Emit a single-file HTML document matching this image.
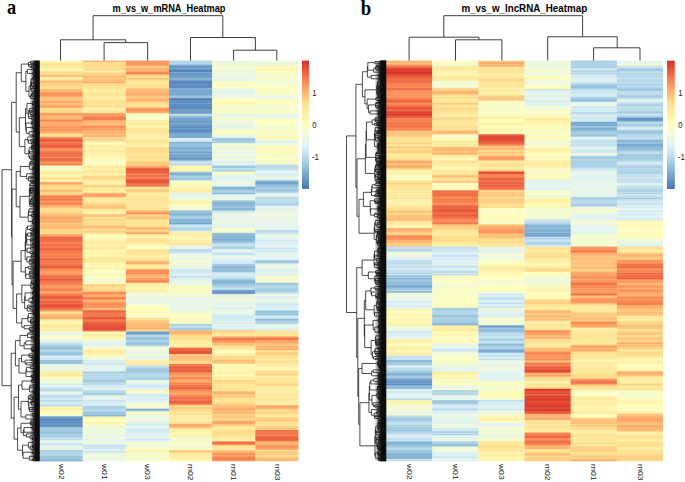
<!DOCTYPE html>
<html><head><meta charset="utf-8"><style>
html,body{margin:0;padding:0;background:#fff;}
body{width:685px;height:482px;overflow:hidden;}
svg{display:block;}
.pl{font-family:"Liberation Serif",serif;font-weight:bold;font-size:21px;fill:#000;}
.tt{font-family:"Liberation Sans",sans-serif;font-weight:bold;font-size:11.5px;fill:#000;text-anchor:middle;}
.cl{font-family:"Liberation Sans",sans-serif;font-size:8.6px;fill:#222;}
.lg{font-family:"Liberation Sans",sans-serif;font-size:9.2px;fill:#222;}
</style></head><body>
<svg width="685" height="482" viewBox="0 0 685 482">
<defs><linearGradient id="L1" x1="0" y1="0" x2="0" y2="1"><stop offset="0.0016" stop-color="#fff9b5"/><stop offset="0.0047" stop-color="#fff2ac"/><stop offset="0.0078" stop-color="#fee598"/><stop offset="0.0109" stop-color="#fede8f"/><stop offset="0.0140" stop-color="#feeba1"/><stop offset="0.0171" stop-color="#feeaa0"/><stop offset="0.0202" stop-color="#fff4af"/><stop offset="0.0234" stop-color="#fff9b6"/><stop offset="0.0265" stop-color="#fee79b"/><stop offset="0.0296" stop-color="#fedc8d"/><stop offset="0.0327" stop-color="#fee597"/><stop offset="0.0358" stop-color="#fdc880"/><stop offset="0.0389" stop-color="#fdba77"/><stop offset="0.0421" stop-color="#feeda4"/><stop offset="0.0452" stop-color="#fff1aa"/><stop offset="0.0483" stop-color="#fee496"/><stop offset="0.0514" stop-color="#fdc07b"/><stop offset="0.0545" stop-color="#fdbd79"/><stop offset="0.0576" stop-color="#fedd8e"/><stop offset="0.0607" stop-color="#fece84"/><stop offset="0.0639" stop-color="#fed488"/><stop offset="0.0670" stop-color="#fee192"/><stop offset="0.0701" stop-color="#fede8e"/><stop offset="0.0732" stop-color="#fdb070"/><stop offset="0.0763" stop-color="#fdbe7a"/><stop offset="0.0794" stop-color="#fc9b62"/><stop offset="0.0826" stop-color="#fc915c"/><stop offset="0.0857" stop-color="#fc8e59"/><stop offset="0.0888" stop-color="#fda468"/><stop offset="0.0919" stop-color="#fdba77"/><stop offset="0.0950" stop-color="#fdc67f"/><stop offset="0.0981" stop-color="#fdc981"/><stop offset="0.1012" stop-color="#fdb372"/><stop offset="0.1044" stop-color="#fda468"/><stop offset="0.1075" stop-color="#fdc57e"/><stop offset="0.1106" stop-color="#fdb976"/><stop offset="0.1137" stop-color="#fda368"/><stop offset="0.1168" stop-color="#fdaa6c"/><stop offset="0.1199" stop-color="#fee79a"/><stop offset="0.1231" stop-color="#fed488"/><stop offset="0.1262" stop-color="#fee699"/><stop offset="0.1293" stop-color="#fedb8d"/><stop offset="0.1324" stop-color="#fc935d"/><stop offset="0.1355" stop-color="#fca167"/><stop offset="0.1386" stop-color="#fdb372"/><stop offset="0.1417" stop-color="#fdb976"/><stop offset="0.1449" stop-color="#fdb775"/><stop offset="0.1480" stop-color="#fc965f"/><stop offset="0.1511" stop-color="#f78153"/><stop offset="0.1542" stop-color="#fdb473"/><stop offset="0.1573" stop-color="#fda96c"/><stop offset="0.1604" stop-color="#fdae6f"/><stop offset="0.1636" stop-color="#fda368"/><stop offset="0.1667" stop-color="#fc8d59"/><stop offset="0.1698" stop-color="#fda468"/><stop offset="0.1729" stop-color="#fc8e59"/><stop offset="0.1760" stop-color="#fda66a"/><stop offset="0.1791" stop-color="#fda76a"/><stop offset="0.1822" stop-color="#fecf85"/><stop offset="0.1854" stop-color="#fedf8f"/><stop offset="0.1885" stop-color="#fee496"/><stop offset="0.1916" stop-color="#fc9e64"/><stop offset="0.1947" stop-color="#f1714a"/><stop offset="0.1978" stop-color="#e95e3f"/><stop offset="0.2009" stop-color="#e6563c"/><stop offset="0.2040" stop-color="#f88354"/><stop offset="0.2072" stop-color="#f1724b"/><stop offset="0.2103" stop-color="#ec6544"/><stop offset="0.2134" stop-color="#e95c3f"/><stop offset="0.2165" stop-color="#ed6744"/><stop offset="0.2196" stop-color="#fc905b"/><stop offset="0.2227" stop-color="#fca166"/><stop offset="0.2259" stop-color="#f88354"/><stop offset="0.2290" stop-color="#f3774d"/><stop offset="0.2321" stop-color="#ed6744"/><stop offset="0.2352" stop-color="#f57c50"/><stop offset="0.2383" stop-color="#ee6946"/><stop offset="0.2414" stop-color="#fc925c"/><stop offset="0.2445" stop-color="#f07049"/><stop offset="0.2477" stop-color="#eb6343"/><stop offset="0.2508" stop-color="#f57b4f"/><stop offset="0.2539" stop-color="#fc9b62"/><stop offset="0.2570" stop-color="#fc8d59"/><stop offset="0.2601" stop-color="#f57c50"/><stop offset="0.2632" stop-color="#fdfec3"/><stop offset="0.2664" stop-color="#f4fbd3"/><stop offset="0.2695" stop-color="#f5fbd2"/><stop offset="0.2726" stop-color="#fffdbc"/><stop offset="0.2757" stop-color="#fff5af"/><stop offset="0.2788" stop-color="#fee79a"/><stop offset="0.2819" stop-color="#feefa7"/><stop offset="0.2850" stop-color="#fff4af"/><stop offset="0.2882" stop-color="#fff9b6"/><stop offset="0.2913" stop-color="#fee89c"/><stop offset="0.2944" stop-color="#fee192"/><stop offset="0.2975" stop-color="#feeba0"/><stop offset="0.3006" stop-color="#f7fcce"/><stop offset="0.3037" stop-color="#fdb876"/><stop offset="0.3069" stop-color="#fca066"/><stop offset="0.3100" stop-color="#fdc980"/><stop offset="0.3131" stop-color="#fee495"/><stop offset="0.3162" stop-color="#fed488"/><stop offset="0.3193" stop-color="#fee090"/><stop offset="0.3224" stop-color="#fdc780"/><stop offset="0.3255" stop-color="#fdb976"/><stop offset="0.3287" stop-color="#fed488"/><stop offset="0.3318" stop-color="#fedf8f"/><stop offset="0.3349" stop-color="#fece84"/><stop offset="0.3380" stop-color="#f77f52"/><stop offset="0.3411" stop-color="#f67f52"/><stop offset="0.3442" stop-color="#fc8c59"/><stop offset="0.3474" stop-color="#ee6b47"/><stop offset="0.3505" stop-color="#fc9f65"/><stop offset="0.3536" stop-color="#fc945d"/><stop offset="0.3567" stop-color="#f78052"/><stop offset="0.3598" stop-color="#fc955e"/><stop offset="0.3629" stop-color="#fdb473"/><stop offset="0.3660" stop-color="#fdba77"/><stop offset="0.3692" stop-color="#fede8f"/><stop offset="0.3723" stop-color="#fedf90"/><stop offset="0.3754" stop-color="#fee191"/><stop offset="0.3785" stop-color="#fed589"/><stop offset="0.3816" stop-color="#fece84"/><stop offset="0.3847" stop-color="#fdc57e"/><stop offset="0.3879" stop-color="#fdb473"/><stop offset="0.3910" stop-color="#fdab6d"/><stop offset="0.3941" stop-color="#fda569"/><stop offset="0.3972" stop-color="#fdb674"/><stop offset="0.4003" stop-color="#fdad6e"/><stop offset="0.4034" stop-color="#fdaf6f"/><stop offset="0.4065" stop-color="#fdc981"/><stop offset="0.4097" stop-color="#fdbd79"/><stop offset="0.4128" stop-color="#fdc57e"/><stop offset="0.4159" stop-color="#fdb372"/><stop offset="0.4190" stop-color="#fdc07b"/><stop offset="0.4221" stop-color="#fed78a"/><stop offset="0.4252" stop-color="#fed78a"/><stop offset="0.4283" stop-color="#fed689"/><stop offset="0.4315" stop-color="#fedf8f"/><stop offset="0.4346" stop-color="#fc9b63"/><stop offset="0.4377" stop-color="#fda569"/><stop offset="0.4408" stop-color="#f06e48"/><stop offset="0.4439" stop-color="#eb6242"/><stop offset="0.4470" stop-color="#f07049"/><stop offset="0.4502" stop-color="#ed6845"/><stop offset="0.4533" stop-color="#f67e51"/><stop offset="0.4564" stop-color="#fa8856"/><stop offset="0.4595" stop-color="#f06f49"/><stop offset="0.4626" stop-color="#f06e48"/><stop offset="0.4657" stop-color="#f88253"/><stop offset="0.4688" stop-color="#ee6946"/><stop offset="0.4720" stop-color="#eb6142"/><stop offset="0.4751" stop-color="#f57b4f"/><stop offset="0.4782" stop-color="#f67e51"/><stop offset="0.4813" stop-color="#f67d51"/><stop offset="0.4844" stop-color="#fa8957"/><stop offset="0.4875" stop-color="#f3774d"/><stop offset="0.4907" stop-color="#fc8e5a"/><stop offset="0.4938" stop-color="#f1724a"/><stop offset="0.4969" stop-color="#e85c3e"/><stop offset="0.5000" stop-color="#f98655"/><stop offset="0.5031" stop-color="#f1714a"/><stop offset="0.5062" stop-color="#f88354"/><stop offset="0.5093" stop-color="#f2734b"/><stop offset="0.5125" stop-color="#ed6845"/><stop offset="0.5156" stop-color="#e34f38"/><stop offset="0.5187" stop-color="#f4784e"/><stop offset="0.5218" stop-color="#fc965f"/><stop offset="0.5249" stop-color="#fb8c58"/><stop offset="0.5280" stop-color="#fdaa6c"/><stop offset="0.5312" stop-color="#fc9760"/><stop offset="0.5343" stop-color="#fc9f65"/><stop offset="0.5374" stop-color="#ee6a46"/><stop offset="0.5405" stop-color="#f2744b"/><stop offset="0.5436" stop-color="#f47a4f"/><stop offset="0.5467" stop-color="#e6563b"/><stop offset="0.5498" stop-color="#f2734b"/><stop offset="0.5530" stop-color="#f4784e"/><stop offset="0.5561" stop-color="#f67e51"/><stop offset="0.5592" stop-color="#f88353"/><stop offset="0.5623" stop-color="#fda267"/><stop offset="0.5654" stop-color="#fc9b62"/><stop offset="0.5685" stop-color="#fc925c"/><stop offset="0.5717" stop-color="#f67e51"/><stop offset="0.5748" stop-color="#fc925c"/><stop offset="0.5779" stop-color="#fdb372"/><stop offset="0.5810" stop-color="#fc965f"/><stop offset="0.5841" stop-color="#f98555"/><stop offset="0.5872" stop-color="#f06f49"/><stop offset="0.5903" stop-color="#e6563c"/><stop offset="0.5935" stop-color="#ec6544"/><stop offset="0.5966" stop-color="#f78052"/><stop offset="0.5997" stop-color="#f2754c"/><stop offset="0.6028" stop-color="#e7583d"/><stop offset="0.6059" stop-color="#f1724b"/><stop offset="0.6090" stop-color="#e7573c"/><stop offset="0.6121" stop-color="#e24b36"/><stop offset="0.6153" stop-color="#e85b3e"/><stop offset="0.6184" stop-color="#ee6a46"/><stop offset="0.6215" stop-color="#fa8957"/><stop offset="0.6246" stop-color="#fc9860"/><stop offset="0.6277" stop-color="#feea9f"/><stop offset="0.6308" stop-color="#fede8f"/><stop offset="0.6340" stop-color="#fdca82"/><stop offset="0.6371" stop-color="#fdaf70"/><stop offset="0.6402" stop-color="#fdb976"/><stop offset="0.6433" stop-color="#fda76a"/><stop offset="0.6464" stop-color="#fee79b"/><stop offset="0.6495" stop-color="#fff2ab"/><stop offset="0.6526" stop-color="#fff9b6"/><stop offset="0.6558" stop-color="#fff7b3"/><stop offset="0.6589" stop-color="#fff1aa"/><stop offset="0.6620" stop-color="#fee496"/><stop offset="0.6651" stop-color="#feeda3"/><stop offset="0.6682" stop-color="#fff2ac"/><stop offset="0.6713" stop-color="#feeaa0"/><stop offset="0.6745" stop-color="#feeea5"/><stop offset="0.6776" stop-color="#ebf7e4"/><stop offset="0.6807" stop-color="#e3f4f3"/><stop offset="0.6838" stop-color="#eef8de"/><stop offset="0.6869" stop-color="#f6fbd0"/><stop offset="0.6900" stop-color="#f5fbd1"/><stop offset="0.6931" stop-color="#fafdc9"/><stop offset="0.6963" stop-color="#eef8de"/><stop offset="0.6994" stop-color="#e2f4f5"/><stop offset="0.7025" stop-color="#e1f4f5"/><stop offset="0.7056" stop-color="#c4e1ee"/><stop offset="0.7087" stop-color="#bddceb"/><stop offset="0.7118" stop-color="#aacfe4"/><stop offset="0.7150" stop-color="#9dc7df"/><stop offset="0.7181" stop-color="#98c3dd"/><stop offset="0.7212" stop-color="#a5cce2"/><stop offset="0.7243" stop-color="#c7e2ef"/><stop offset="0.7274" stop-color="#9ac5de"/><stop offset="0.7305" stop-color="#9ac5de"/><stop offset="0.7336" stop-color="#9ac5de"/><stop offset="0.7368" stop-color="#cde7f1"/><stop offset="0.7399" stop-color="#def2f7"/><stop offset="0.7430" stop-color="#c8e3ef"/><stop offset="0.7461" stop-color="#cde7f1"/><stop offset="0.7492" stop-color="#85b4d5"/><stop offset="0.7523" stop-color="#a9cfe4"/><stop offset="0.7555" stop-color="#90beda"/><stop offset="0.7586" stop-color="#e6f6ec"/><stop offset="0.7617" stop-color="#ebf7e4"/><stop offset="0.7648" stop-color="#ecf8e1"/><stop offset="0.7679" stop-color="#eef8de"/><stop offset="0.7710" stop-color="#e8f6e9"/><stop offset="0.7741" stop-color="#eef9dd"/><stop offset="0.7773" stop-color="#feeda4"/><stop offset="0.7804" stop-color="#fff1aa"/><stop offset="0.7835" stop-color="#feeba1"/><stop offset="0.7866" stop-color="#feeba1"/><stop offset="0.7897" stop-color="#fffdbb"/><stop offset="0.7928" stop-color="#f8fccb"/><stop offset="0.7960" stop-color="#eef8de"/><stop offset="0.7991" stop-color="#f5fbd1"/><stop offset="0.8022" stop-color="#f3fad6"/><stop offset="0.8053" stop-color="#eaf7e7"/><stop offset="0.8084" stop-color="#d6edf4"/><stop offset="0.8115" stop-color="#eaf7e6"/><stop offset="0.8146" stop-color="#d6edf4"/><stop offset="0.8178" stop-color="#c6e2ee"/><stop offset="0.8209" stop-color="#bbdaea"/><stop offset="0.8240" stop-color="#bcdbeb"/><stop offset="0.8271" stop-color="#e5f5ee"/><stop offset="0.8302" stop-color="#ecf8e2"/><stop offset="0.8333" stop-color="#dbf0f6"/><stop offset="0.8364" stop-color="#b8d9e9"/><stop offset="0.8396" stop-color="#c3e0ed"/><stop offset="0.8427" stop-color="#cfe7f2"/><stop offset="0.8458" stop-color="#d0e9f2"/><stop offset="0.8489" stop-color="#b7d8e9"/><stop offset="0.8520" stop-color="#d3eaf3"/><stop offset="0.8551" stop-color="#d3eaf3"/><stop offset="0.8583" stop-color="#d0e8f2"/><stop offset="0.8614" stop-color="#b8d9e9"/><stop offset="0.8645" stop-color="#fff8b5"/><stop offset="0.8676" stop-color="#fff1aa"/><stop offset="0.8707" stop-color="#fff3ad"/><stop offset="0.8738" stop-color="#fff5af"/><stop offset="0.8769" stop-color="#fffebe"/><stop offset="0.8801" stop-color="#f9fdca"/><stop offset="0.8832" stop-color="#ffffbf"/><stop offset="0.8863" stop-color="#f0f9da"/><stop offset="0.8894" stop-color="#6292c3"/><stop offset="0.8925" stop-color="#709fca"/><stop offset="0.8956" stop-color="#5181ba"/><stop offset="0.8988" stop-color="#6796c5"/><stop offset="0.9019" stop-color="#5b8bbf"/><stop offset="0.9050" stop-color="#6897c6"/><stop offset="0.9081" stop-color="#6e9dc9"/><stop offset="0.9112" stop-color="#5786bd"/><stop offset="0.9143" stop-color="#77a6ce"/><stop offset="0.9174" stop-color="#b2d5e7"/><stop offset="0.9206" stop-color="#a1c9e1"/><stop offset="0.9237" stop-color="#a9cfe4"/><stop offset="0.9268" stop-color="#98c4de"/><stop offset="0.9299" stop-color="#92bfdb"/><stop offset="0.9330" stop-color="#b4d6e8"/><stop offset="0.9361" stop-color="#9fc8e0"/><stop offset="0.9393" stop-color="#aed2e6"/><stop offset="0.9424" stop-color="#c9e4f0"/><stop offset="0.9455" stop-color="#beddec"/><stop offset="0.9486" stop-color="#e7f6ec"/><stop offset="0.9517" stop-color="#eaf7e6"/><stop offset="0.9548" stop-color="#d8edf5"/><stop offset="0.9579" stop-color="#c2dfed"/><stop offset="0.9611" stop-color="#dff2f8"/><stop offset="0.9642" stop-color="#e7f6eb"/><stop offset="0.9673" stop-color="#ebf7e4"/><stop offset="0.9704" stop-color="#e9f7e7"/><stop offset="0.9735" stop-color="#a3cbe2"/><stop offset="0.9766" stop-color="#b6d8e9"/><stop offset="0.9798" stop-color="#b3d6e8"/><stop offset="0.9829" stop-color="#b3d5e7"/><stop offset="0.9860" stop-color="#bbdbeb"/><stop offset="0.9891" stop-color="#8fbdda"/><stop offset="0.9922" stop-color="#a0c9e0"/><stop offset="0.9953" stop-color="#9fc8e0"/><stop offset="0.9984" stop-color="#7fadd2"/></linearGradient><linearGradient id="L2" x1="0" y1="0" x2="0" y2="1"><stop offset="0.0016" stop-color="#fdb372"/><stop offset="0.0047" stop-color="#fed98b"/><stop offset="0.0078" stop-color="#fee496"/><stop offset="0.0109" stop-color="#fed488"/><stop offset="0.0140" stop-color="#fedb8c"/><stop offset="0.0171" stop-color="#fee293"/><stop offset="0.0202" stop-color="#fedd8e"/><stop offset="0.0234" stop-color="#fedb8d"/><stop offset="0.0265" stop-color="#fff3ad"/><stop offset="0.0296" stop-color="#fee090"/><stop offset="0.0327" stop-color="#fed488"/><stop offset="0.0358" stop-color="#fed388"/><stop offset="0.0389" stop-color="#fdbe79"/><stop offset="0.0421" stop-color="#fdbc78"/><stop offset="0.0452" stop-color="#fed085"/><stop offset="0.0483" stop-color="#fdb875"/><stop offset="0.0514" stop-color="#fdc77f"/><stop offset="0.0545" stop-color="#fda66a"/><stop offset="0.0576" stop-color="#fedb8d"/><stop offset="0.0607" stop-color="#fedb8d"/><stop offset="0.0639" stop-color="#fee293"/><stop offset="0.0670" stop-color="#fee294"/><stop offset="0.0701" stop-color="#fee99e"/><stop offset="0.0732" stop-color="#feea9f"/><stop offset="0.0763" stop-color="#fff1a9"/><stop offset="0.0794" stop-color="#feea9f"/><stop offset="0.0826" stop-color="#fee699"/><stop offset="0.0857" stop-color="#fee394"/><stop offset="0.0888" stop-color="#feeba1"/><stop offset="0.0919" stop-color="#fff0a9"/><stop offset="0.0950" stop-color="#feefa6"/><stop offset="0.0981" stop-color="#fee699"/><stop offset="0.1012" stop-color="#fee598"/><stop offset="0.1044" stop-color="#fee090"/><stop offset="0.1075" stop-color="#fee496"/><stop offset="0.1106" stop-color="#fee79b"/><stop offset="0.1137" stop-color="#fed88b"/><stop offset="0.1168" stop-color="#fee99d"/><stop offset="0.1199" stop-color="#fff5af"/><stop offset="0.1231" stop-color="#feefa6"/><stop offset="0.1262" stop-color="#feeba0"/><stop offset="0.1293" stop-color="#feeda4"/><stop offset="0.1324" stop-color="#fc9b62"/><stop offset="0.1355" stop-color="#fca065"/><stop offset="0.1386" stop-color="#fc955e"/><stop offset="0.1417" stop-color="#f78152"/><stop offset="0.1449" stop-color="#f57a4f"/><stop offset="0.1480" stop-color="#f88454"/><stop offset="0.1511" stop-color="#fdc57e"/><stop offset="0.1542" stop-color="#fdaf70"/><stop offset="0.1573" stop-color="#fdc37c"/><stop offset="0.1604" stop-color="#fdc17c"/><stop offset="0.1636" stop-color="#fc8d59"/><stop offset="0.1667" stop-color="#fc915b"/><stop offset="0.1698" stop-color="#fda468"/><stop offset="0.1729" stop-color="#fc9861"/><stop offset="0.1760" stop-color="#fdc17b"/><stop offset="0.1791" stop-color="#fdaf70"/><stop offset="0.1822" stop-color="#fdb875"/><stop offset="0.1854" stop-color="#fdc27c"/><stop offset="0.1885" stop-color="#fdac6e"/><stop offset="0.1916" stop-color="#fed589"/><stop offset="0.1947" stop-color="#fee293"/><stop offset="0.1978" stop-color="#fecc83"/><stop offset="0.2009" stop-color="#fee79a"/><stop offset="0.2040" stop-color="#fff5b1"/><stop offset="0.2072" stop-color="#ffffbf"/><stop offset="0.2103" stop-color="#fff2ac"/><stop offset="0.2134" stop-color="#feeca1"/><stop offset="0.2165" stop-color="#feefa6"/><stop offset="0.2196" stop-color="#fff5b0"/><stop offset="0.2227" stop-color="#feefa7"/><stop offset="0.2259" stop-color="#fee699"/><stop offset="0.2290" stop-color="#fff2ab"/><stop offset="0.2321" stop-color="#fff3ac"/><stop offset="0.2352" stop-color="#feeea6"/><stop offset="0.2383" stop-color="#fff6b1"/><stop offset="0.2414" stop-color="#fff5b0"/><stop offset="0.2445" stop-color="#fffbb9"/><stop offset="0.2477" stop-color="#fff7b2"/><stop offset="0.2508" stop-color="#fdfec2"/><stop offset="0.2539" stop-color="#f8fccb"/><stop offset="0.2570" stop-color="#fdfec3"/><stop offset="0.2601" stop-color="#f9fdc9"/><stop offset="0.2632" stop-color="#fee99d"/><stop offset="0.2664" stop-color="#fee99e"/><stop offset="0.2695" stop-color="#fff1aa"/><stop offset="0.2726" stop-color="#fff1a9"/><stop offset="0.2757" stop-color="#fee79b"/><stop offset="0.2788" stop-color="#fee99e"/><stop offset="0.2819" stop-color="#feeea6"/><stop offset="0.2850" stop-color="#fff2ab"/><stop offset="0.2882" stop-color="#fee395"/><stop offset="0.2913" stop-color="#fece84"/><stop offset="0.2944" stop-color="#fee090"/><stop offset="0.2975" stop-color="#feda8c"/><stop offset="0.3006" stop-color="#fff1aa"/><stop offset="0.3037" stop-color="#feeca2"/><stop offset="0.3069" stop-color="#fff2ab"/><stop offset="0.3100" stop-color="#feeca2"/><stop offset="0.3131" stop-color="#fdc67f"/><stop offset="0.3162" stop-color="#fee191"/><stop offset="0.3193" stop-color="#fee99d"/><stop offset="0.3224" stop-color="#feeba0"/><stop offset="0.3255" stop-color="#feeca2"/><stop offset="0.3287" stop-color="#feefa6"/><stop offset="0.3318" stop-color="#fdb271"/><stop offset="0.3349" stop-color="#fc9e65"/><stop offset="0.3380" stop-color="#fc9860"/><stop offset="0.3411" stop-color="#fed488"/><stop offset="0.3442" stop-color="#feeaa0"/><stop offset="0.3474" stop-color="#feeca2"/><stop offset="0.3505" stop-color="#feeea5"/><stop offset="0.3536" stop-color="#fee598"/><stop offset="0.3567" stop-color="#fedf8f"/><stop offset="0.3598" stop-color="#fdca82"/><stop offset="0.3629" stop-color="#fecd83"/><stop offset="0.3660" stop-color="#fdbf7a"/><stop offset="0.3692" stop-color="#fecc82"/><stop offset="0.3723" stop-color="#fff1aa"/><stop offset="0.3754" stop-color="#feeca2"/><stop offset="0.3785" stop-color="#fff6b1"/><stop offset="0.3816" stop-color="#fff0a8"/><stop offset="0.3847" stop-color="#fdc67f"/><stop offset="0.3879" stop-color="#fdbb77"/><stop offset="0.3910" stop-color="#fee293"/><stop offset="0.3941" stop-color="#fee79b"/><stop offset="0.3972" stop-color="#fecd83"/><stop offset="0.4003" stop-color="#fee495"/><stop offset="0.4034" stop-color="#fee293"/><stop offset="0.4065" stop-color="#fedb8c"/><stop offset="0.4097" stop-color="#fedc8e"/><stop offset="0.4128" stop-color="#fdc57e"/><stop offset="0.4159" stop-color="#fdb574"/><stop offset="0.4190" stop-color="#fed287"/><stop offset="0.4221" stop-color="#fee597"/><stop offset="0.4252" stop-color="#fecc82"/><stop offset="0.4283" stop-color="#fed68a"/><stop offset="0.4315" stop-color="#fee395"/><stop offset="0.4346" stop-color="#fffebd"/><stop offset="0.4377" stop-color="#fafdc7"/><stop offset="0.4408" stop-color="#fffab7"/><stop offset="0.4439" stop-color="#fffbba"/><stop offset="0.4470" stop-color="#fff6b2"/><stop offset="0.4502" stop-color="#feeba1"/><stop offset="0.4533" stop-color="#fff0a8"/><stop offset="0.4564" stop-color="#fee79b"/><stop offset="0.4595" stop-color="#fff7b3"/><stop offset="0.4626" stop-color="#feefa7"/><stop offset="0.4657" stop-color="#feeca2"/><stop offset="0.4688" stop-color="#fee598"/><stop offset="0.4720" stop-color="#fff7b3"/><stop offset="0.4751" stop-color="#fff5b0"/><stop offset="0.4782" stop-color="#fff3ad"/><stop offset="0.4813" stop-color="#fff1aa"/><stop offset="0.4844" stop-color="#fff3ad"/><stop offset="0.4875" stop-color="#fff8b5"/><stop offset="0.4907" stop-color="#feeda3"/><stop offset="0.4938" stop-color="#fee89c"/><stop offset="0.4969" stop-color="#fee99e"/><stop offset="0.5000" stop-color="#fee69a"/><stop offset="0.5031" stop-color="#feeda3"/><stop offset="0.5062" stop-color="#fffbb8"/><stop offset="0.5093" stop-color="#fff4ae"/><stop offset="0.5125" stop-color="#fffebd"/><stop offset="0.5156" stop-color="#fff4ae"/><stop offset="0.5187" stop-color="#fff2ab"/><stop offset="0.5218" stop-color="#fffab8"/><stop offset="0.5249" stop-color="#feffc0"/><stop offset="0.5280" stop-color="#fafdc9"/><stop offset="0.5312" stop-color="#fafdc9"/><stop offset="0.5343" stop-color="#fff2ac"/><stop offset="0.5374" stop-color="#f6fcd0"/><stop offset="0.5405" stop-color="#fffdbc"/><stop offset="0.5436" stop-color="#f5fbd1"/><stop offset="0.5467" stop-color="#f4fbd3"/><stop offset="0.5498" stop-color="#f7fcce"/><stop offset="0.5530" stop-color="#f5fbd1"/><stop offset="0.5561" stop-color="#fffcba"/><stop offset="0.5592" stop-color="#fed488"/><stop offset="0.5623" stop-color="#fed387"/><stop offset="0.5654" stop-color="#fee192"/><stop offset="0.5685" stop-color="#fee699"/><stop offset="0.5717" stop-color="#fed588"/><stop offset="0.5748" stop-color="#fedc8d"/><stop offset="0.5779" stop-color="#fc9860"/><stop offset="0.5810" stop-color="#fa8957"/><stop offset="0.5841" stop-color="#fda669"/><stop offset="0.5872" stop-color="#fdb674"/><stop offset="0.5903" stop-color="#fc9861"/><stop offset="0.5935" stop-color="#f2754c"/><stop offset="0.5966" stop-color="#fca166"/><stop offset="0.5997" stop-color="#fdc17c"/><stop offset="0.6028" stop-color="#fc9e64"/><stop offset="0.6059" stop-color="#fc975f"/><stop offset="0.6090" stop-color="#fa8957"/><stop offset="0.6121" stop-color="#fc9e64"/><stop offset="0.6153" stop-color="#fc8e5a"/><stop offset="0.6184" stop-color="#fdbd79"/><stop offset="0.6215" stop-color="#fdbb78"/><stop offset="0.6246" stop-color="#eb6141"/><stop offset="0.6277" stop-color="#f2734b"/><stop offset="0.6308" stop-color="#f4784e"/><stop offset="0.6340" stop-color="#f57a4f"/><stop offset="0.6371" stop-color="#f78052"/><stop offset="0.6402" stop-color="#ec6644"/><stop offset="0.6433" stop-color="#e34e37"/><stop offset="0.6464" stop-color="#f2744c"/><stop offset="0.6495" stop-color="#f78152"/><stop offset="0.6526" stop-color="#ed6745"/><stop offset="0.6558" stop-color="#e95e40"/><stop offset="0.6589" stop-color="#e6553b"/><stop offset="0.6620" stop-color="#e7593d"/><stop offset="0.6651" stop-color="#e24c36"/><stop offset="0.6682" stop-color="#e14a35"/><stop offset="0.6713" stop-color="#e6573c"/><stop offset="0.6745" stop-color="#f2754c"/><stop offset="0.6776" stop-color="#fbfdc7"/><stop offset="0.6807" stop-color="#fff7b3"/><stop offset="0.6838" stop-color="#fff1a9"/><stop offset="0.6869" stop-color="#feeda3"/><stop offset="0.6900" stop-color="#fff9b6"/><stop offset="0.6931" stop-color="#fff4af"/><stop offset="0.6963" stop-color="#f9fdca"/><stop offset="0.6994" stop-color="#ecf8e2"/><stop offset="0.7025" stop-color="#e2f4f5"/><stop offset="0.7056" stop-color="#dff3f8"/><stop offset="0.7087" stop-color="#dff3f8"/><stop offset="0.7118" stop-color="#eaf7e5"/><stop offset="0.7150" stop-color="#f2fad6"/><stop offset="0.7181" stop-color="#f7fccf"/><stop offset="0.7212" stop-color="#fff3ad"/><stop offset="0.7243" stop-color="#feeda4"/><stop offset="0.7274" stop-color="#feeaa0"/><stop offset="0.7305" stop-color="#fff5b0"/><stop offset="0.7336" stop-color="#feefa7"/><stop offset="0.7368" stop-color="#fdfec3"/><stop offset="0.7399" stop-color="#f1fad9"/><stop offset="0.7430" stop-color="#f3fad5"/><stop offset="0.7461" stop-color="#ebf7e4"/><stop offset="0.7492" stop-color="#cee7f1"/><stop offset="0.7523" stop-color="#e3f4f3"/><stop offset="0.7555" stop-color="#c6e2ee"/><stop offset="0.7586" stop-color="#d3eaf3"/><stop offset="0.7617" stop-color="#e9f7e7"/><stop offset="0.7648" stop-color="#e6f5ed"/><stop offset="0.7679" stop-color="#dff2f7"/><stop offset="0.7710" stop-color="#e6f5ec"/><stop offset="0.7741" stop-color="#e6f5ee"/><stop offset="0.7773" stop-color="#a5cce2"/><stop offset="0.7804" stop-color="#afd3e6"/><stop offset="0.7835" stop-color="#c4e0ee"/><stop offset="0.7866" stop-color="#acd1e5"/><stop offset="0.7897" stop-color="#c9e4ef"/><stop offset="0.7928" stop-color="#afd3e6"/><stop offset="0.7960" stop-color="#b8d9e9"/><stop offset="0.7991" stop-color="#93c0dc"/><stop offset="0.8022" stop-color="#aed2e6"/><stop offset="0.8053" stop-color="#beddeb"/><stop offset="0.8084" stop-color="#bddceb"/><stop offset="0.8115" stop-color="#def2f7"/><stop offset="0.8146" stop-color="#d3ebf3"/><stop offset="0.8178" stop-color="#e4f5f1"/><stop offset="0.8209" stop-color="#e1f4f5"/><stop offset="0.8240" stop-color="#b8d9e9"/><stop offset="0.8271" stop-color="#bfddec"/><stop offset="0.8302" stop-color="#a4cce2"/><stop offset="0.8333" stop-color="#a2cae1"/><stop offset="0.8364" stop-color="#ebf7e4"/><stop offset="0.8396" stop-color="#e3f4f2"/><stop offset="0.8427" stop-color="#ebf7e4"/><stop offset="0.8458" stop-color="#def2f7"/><stop offset="0.8489" stop-color="#c7e3ef"/><stop offset="0.8520" stop-color="#d8eef5"/><stop offset="0.8551" stop-color="#d4ebf3"/><stop offset="0.8583" stop-color="#e1f3f6"/><stop offset="0.8614" stop-color="#c5e2ee"/><stop offset="0.8645" stop-color="#a5cce2"/><stop offset="0.8676" stop-color="#afd2e6"/><stop offset="0.8707" stop-color="#acd1e5"/><stop offset="0.8738" stop-color="#cae4f0"/><stop offset="0.8769" stop-color="#99c4de"/><stop offset="0.8801" stop-color="#a1cae1"/><stop offset="0.8832" stop-color="#9dc7df"/><stop offset="0.8863" stop-color="#85b3d5"/><stop offset="0.8894" stop-color="#fff6b2"/><stop offset="0.8925" stop-color="#fff7b3"/><stop offset="0.8956" stop-color="#fffcba"/><stop offset="0.8988" stop-color="#feffc0"/><stop offset="0.9019" stop-color="#fffab7"/><stop offset="0.9050" stop-color="#fff1aa"/><stop offset="0.9081" stop-color="#fffcba"/><stop offset="0.9112" stop-color="#f2fad7"/><stop offset="0.9143" stop-color="#ecf8e2"/><stop offset="0.9174" stop-color="#eef8de"/><stop offset="0.9206" stop-color="#eff9dc"/><stop offset="0.9237" stop-color="#e9f7e7"/><stop offset="0.9268" stop-color="#f3fad5"/><stop offset="0.9299" stop-color="#f1f9d9"/><stop offset="0.9330" stop-color="#ecf8e2"/><stop offset="0.9361" stop-color="#e4f5f0"/><stop offset="0.9393" stop-color="#ebf7e3"/><stop offset="0.9424" stop-color="#f4fbd3"/><stop offset="0.9455" stop-color="#e7f6ec"/><stop offset="0.9486" stop-color="#e4f5f0"/><stop offset="0.9517" stop-color="#f1f9da"/><stop offset="0.9548" stop-color="#eaf7e6"/><stop offset="0.9579" stop-color="#e5f5ef"/><stop offset="0.9611" stop-color="#b9d9ea"/><stop offset="0.9642" stop-color="#d7edf5"/><stop offset="0.9673" stop-color="#cae4f0"/><stop offset="0.9704" stop-color="#e1f3f6"/><stop offset="0.9735" stop-color="#ddf1f7"/><stop offset="0.9766" stop-color="#c4e1ee"/><stop offset="0.9798" stop-color="#ecf8e2"/><stop offset="0.9829" stop-color="#f0f9da"/><stop offset="0.9860" stop-color="#eff9dc"/><stop offset="0.9891" stop-color="#ebf7e3"/><stop offset="0.9922" stop-color="#edf8e0"/><stop offset="0.9953" stop-color="#f2fad7"/><stop offset="0.9984" stop-color="#e4f4f1"/></linearGradient><linearGradient id="L3" x1="0" y1="0" x2="0" y2="1"><stop offset="0.0016" stop-color="#fc8d59"/><stop offset="0.0047" stop-color="#fc9e64"/><stop offset="0.0078" stop-color="#fc9760"/><stop offset="0.0109" stop-color="#fc9f65"/><stop offset="0.0140" stop-color="#fdbc78"/><stop offset="0.0171" stop-color="#fed287"/><stop offset="0.0202" stop-color="#fda569"/><stop offset="0.0234" stop-color="#fdb876"/><stop offset="0.0265" stop-color="#fdb271"/><stop offset="0.0296" stop-color="#fc905b"/><stop offset="0.0327" stop-color="#f77f52"/><stop offset="0.0358" stop-color="#fecb82"/><stop offset="0.0389" stop-color="#fee090"/><stop offset="0.0421" stop-color="#fee191"/><stop offset="0.0452" stop-color="#fdbf7a"/><stop offset="0.0483" stop-color="#fedd8e"/><stop offset="0.0514" stop-color="#fee597"/><stop offset="0.0545" stop-color="#fee89c"/><stop offset="0.0576" stop-color="#fee99e"/><stop offset="0.0607" stop-color="#fee192"/><stop offset="0.0639" stop-color="#fee497"/><stop offset="0.0670" stop-color="#fee192"/><stop offset="0.0701" stop-color="#fecb82"/><stop offset="0.0732" stop-color="#fdb473"/><stop offset="0.0763" stop-color="#fdc07b"/><stop offset="0.0794" stop-color="#fdb171"/><stop offset="0.0826" stop-color="#fdb574"/><stop offset="0.0857" stop-color="#fda96b"/><stop offset="0.0888" stop-color="#fdc57e"/><stop offset="0.0919" stop-color="#fecc83"/><stop offset="0.0950" stop-color="#fdc37c"/><stop offset="0.0981" stop-color="#fda86b"/><stop offset="0.1012" stop-color="#fdc780"/><stop offset="0.1044" stop-color="#fed387"/><stop offset="0.1075" stop-color="#fee294"/><stop offset="0.1106" stop-color="#fee598"/><stop offset="0.1137" stop-color="#fee89c"/><stop offset="0.1168" stop-color="#fecc83"/><stop offset="0.1199" stop-color="#fc9760"/><stop offset="0.1231" stop-color="#fc8f5b"/><stop offset="0.1262" stop-color="#fca166"/><stop offset="0.1293" stop-color="#fc9f65"/><stop offset="0.1324" stop-color="#fffdbc"/><stop offset="0.1355" stop-color="#fffdbc"/><stop offset="0.1386" stop-color="#f9fdca"/><stop offset="0.1417" stop-color="#fbfec6"/><stop offset="0.1449" stop-color="#f9fdca"/><stop offset="0.1480" stop-color="#fffab7"/><stop offset="0.1511" stop-color="#feea9f"/><stop offset="0.1542" stop-color="#fff4ae"/><stop offset="0.1573" stop-color="#fee99e"/><stop offset="0.1604" stop-color="#feeba1"/><stop offset="0.1636" stop-color="#fff7b3"/><stop offset="0.1667" stop-color="#fff4af"/><stop offset="0.1698" stop-color="#fee89c"/><stop offset="0.1729" stop-color="#fee192"/><stop offset="0.1760" stop-color="#fee89c"/><stop offset="0.1791" stop-color="#fee69a"/><stop offset="0.1822" stop-color="#fee79b"/><stop offset="0.1854" stop-color="#fff1a9"/><stop offset="0.1885" stop-color="#fff0a8"/><stop offset="0.1916" stop-color="#feeea6"/><stop offset="0.1947" stop-color="#fff2ab"/><stop offset="0.1978" stop-color="#fee192"/><stop offset="0.2009" stop-color="#fee699"/><stop offset="0.2040" stop-color="#fee192"/><stop offset="0.2072" stop-color="#feeea5"/><stop offset="0.2103" stop-color="#feeca2"/><stop offset="0.2134" stop-color="#fff4af"/><stop offset="0.2165" stop-color="#fee699"/><stop offset="0.2196" stop-color="#fed689"/><stop offset="0.2227" stop-color="#fedd8e"/><stop offset="0.2259" stop-color="#fedf8f"/><stop offset="0.2290" stop-color="#fedc8d"/><stop offset="0.2321" stop-color="#fee79a"/><stop offset="0.2352" stop-color="#fee89b"/><stop offset="0.2383" stop-color="#fee495"/><stop offset="0.2414" stop-color="#fee090"/><stop offset="0.2445" stop-color="#fee496"/><stop offset="0.2477" stop-color="#fee496"/><stop offset="0.2508" stop-color="#fedb8d"/><stop offset="0.2539" stop-color="#fed287"/><stop offset="0.2570" stop-color="#fdc67f"/><stop offset="0.2601" stop-color="#fed589"/><stop offset="0.2632" stop-color="#fdae6f"/><stop offset="0.2664" stop-color="#fc9e64"/><stop offset="0.2695" stop-color="#ec6544"/><stop offset="0.2726" stop-color="#e34d37"/><stop offset="0.2757" stop-color="#f06e49"/><stop offset="0.2788" stop-color="#e6563b"/><stop offset="0.2819" stop-color="#f57b4f"/><stop offset="0.2850" stop-color="#f78253"/><stop offset="0.2882" stop-color="#ed6644"/><stop offset="0.2913" stop-color="#fc8d59"/><stop offset="0.2944" stop-color="#f47a4f"/><stop offset="0.2975" stop-color="#ea5f40"/><stop offset="0.3006" stop-color="#e24d36"/><stop offset="0.3037" stop-color="#e6553b"/><stop offset="0.3069" stop-color="#f07049"/><stop offset="0.3100" stop-color="#f67e51"/><stop offset="0.3131" stop-color="#f1714a"/><stop offset="0.3162" stop-color="#fee394"/><stop offset="0.3193" stop-color="#fee99d"/><stop offset="0.3224" stop-color="#fecd83"/><stop offset="0.3255" stop-color="#fdc67f"/><stop offset="0.3287" stop-color="#fedf8f"/><stop offset="0.3318" stop-color="#feeca3"/><stop offset="0.3349" stop-color="#feefa6"/><stop offset="0.3380" stop-color="#fee395"/><stop offset="0.3411" stop-color="#feea9f"/><stop offset="0.3442" stop-color="#fee496"/><stop offset="0.3474" stop-color="#fee091"/><stop offset="0.3505" stop-color="#fee89c"/><stop offset="0.3536" stop-color="#feeda4"/><stop offset="0.3567" stop-color="#feea9f"/><stop offset="0.3598" stop-color="#feeba1"/><stop offset="0.3629" stop-color="#fee79b"/><stop offset="0.3660" stop-color="#feeba1"/><stop offset="0.3692" stop-color="#fee395"/><stop offset="0.3723" stop-color="#fee79b"/><stop offset="0.3754" stop-color="#fdbf7a"/><stop offset="0.3785" stop-color="#fda468"/><stop offset="0.3816" stop-color="#fc8f5b"/><stop offset="0.3847" stop-color="#fed086"/><stop offset="0.3879" stop-color="#fed98c"/><stop offset="0.3910" stop-color="#fdcb82"/><stop offset="0.3941" stop-color="#fdc07b"/><stop offset="0.3972" stop-color="#fee69a"/><stop offset="0.4003" stop-color="#fee598"/><stop offset="0.4034" stop-color="#fee698"/><stop offset="0.4065" stop-color="#fee395"/><stop offset="0.4097" stop-color="#fee497"/><stop offset="0.4128" stop-color="#fee090"/><stop offset="0.4159" stop-color="#fecd83"/><stop offset="0.4190" stop-color="#fdac6e"/><stop offset="0.4221" stop-color="#fdc67f"/><stop offset="0.4252" stop-color="#fee191"/><stop offset="0.4283" stop-color="#fdb473"/><stop offset="0.4315" stop-color="#fdab6d"/><stop offset="0.4346" stop-color="#fee79a"/><stop offset="0.4377" stop-color="#fff2ac"/><stop offset="0.4408" stop-color="#fff9b6"/><stop offset="0.4439" stop-color="#fee99e"/><stop offset="0.4470" stop-color="#feea9f"/><stop offset="0.4502" stop-color="#fee395"/><stop offset="0.4533" stop-color="#fee192"/><stop offset="0.4564" stop-color="#fff4ae"/><stop offset="0.4595" stop-color="#fff3ac"/><stop offset="0.4626" stop-color="#fffebe"/><stop offset="0.4657" stop-color="#fafdc9"/><stop offset="0.4688" stop-color="#fbfdc7"/><stop offset="0.4720" stop-color="#fee89d"/><stop offset="0.4751" stop-color="#fee496"/><stop offset="0.4782" stop-color="#fee294"/><stop offset="0.4813" stop-color="#fee699"/><stop offset="0.4844" stop-color="#feea9e"/><stop offset="0.4875" stop-color="#fff2ab"/><stop offset="0.4907" stop-color="#feeba1"/><stop offset="0.4938" stop-color="#fee89d"/><stop offset="0.4969" stop-color="#feea9f"/><stop offset="0.5000" stop-color="#fdcb82"/><stop offset="0.5031" stop-color="#fdb775"/><stop offset="0.5062" stop-color="#fdaf6f"/><stop offset="0.5093" stop-color="#fedd8e"/><stop offset="0.5125" stop-color="#fff1aa"/><stop offset="0.5156" stop-color="#feeca3"/><stop offset="0.5187" stop-color="#fee89c"/><stop offset="0.5218" stop-color="#fda569"/><stop offset="0.5249" stop-color="#fa8756"/><stop offset="0.5280" stop-color="#fc955e"/><stop offset="0.5312" stop-color="#fa8957"/><stop offset="0.5343" stop-color="#fdae6f"/><stop offset="0.5374" stop-color="#fdb372"/><stop offset="0.5405" stop-color="#fdc57e"/><stop offset="0.5436" stop-color="#fca065"/><stop offset="0.5467" stop-color="#fc9d64"/><stop offset="0.5498" stop-color="#f78153"/><stop offset="0.5530" stop-color="#fb8957"/><stop offset="0.5561" stop-color="#feeda3"/><stop offset="0.5592" stop-color="#fff0a8"/><stop offset="0.5623" stop-color="#fff1aa"/><stop offset="0.5654" stop-color="#fff5b0"/><stop offset="0.5685" stop-color="#fffab7"/><stop offset="0.5717" stop-color="#fff0a8"/><stop offset="0.5748" stop-color="#fff2ac"/><stop offset="0.5779" stop-color="#fff0a9"/><stop offset="0.5810" stop-color="#f4fbd4"/><stop offset="0.5841" stop-color="#edf8df"/><stop offset="0.5872" stop-color="#eef8df"/><stop offset="0.5903" stop-color="#ecf7e3"/><stop offset="0.5935" stop-color="#eaf7e5"/><stop offset="0.5966" stop-color="#f1fad8"/><stop offset="0.5997" stop-color="#e8f6e9"/><stop offset="0.6028" stop-color="#eaf7e5"/><stop offset="0.6059" stop-color="#e5f5ef"/><stop offset="0.6090" stop-color="#f8fccc"/><stop offset="0.6121" stop-color="#f5fbd2"/><stop offset="0.6153" stop-color="#fffcbb"/><stop offset="0.6184" stop-color="#feffc1"/><stop offset="0.6215" stop-color="#fffebe"/><stop offset="0.6246" stop-color="#fefec2"/><stop offset="0.6277" stop-color="#fffbb9"/><stop offset="0.6308" stop-color="#fffbb9"/><stop offset="0.6340" stop-color="#fffcbb"/><stop offset="0.6371" stop-color="#f4fbd4"/><stop offset="0.6402" stop-color="#eff9dc"/><stop offset="0.6433" stop-color="#fedc8d"/><stop offset="0.6464" stop-color="#fee091"/><stop offset="0.6495" stop-color="#fdc27c"/><stop offset="0.6526" stop-color="#fdc77f"/><stop offset="0.6558" stop-color="#fdbe79"/><stop offset="0.6589" stop-color="#fdbe7a"/><stop offset="0.6620" stop-color="#fdb171"/><stop offset="0.6651" stop-color="#fdbd79"/><stop offset="0.6682" stop-color="#fdb272"/><stop offset="0.6713" stop-color="#fecc82"/><stop offset="0.6745" stop-color="#fee191"/><stop offset="0.6776" stop-color="#71a0cb"/><stop offset="0.6807" stop-color="#709fca"/><stop offset="0.6838" stop-color="#92c0db"/><stop offset="0.6869" stop-color="#c6e2ee"/><stop offset="0.6900" stop-color="#a5cce2"/><stop offset="0.6931" stop-color="#94c1dc"/><stop offset="0.6963" stop-color="#a4cce2"/><stop offset="0.6994" stop-color="#b1d4e7"/><stop offset="0.7025" stop-color="#add1e5"/><stop offset="0.7056" stop-color="#97c3dd"/><stop offset="0.7087" stop-color="#9ac5de"/><stop offset="0.7118" stop-color="#bfddec"/><stop offset="0.7150" stop-color="#f3fad6"/><stop offset="0.7181" stop-color="#f7fcce"/><stop offset="0.7212" stop-color="#ecf8e1"/><stop offset="0.7243" stop-color="#f0f9da"/><stop offset="0.7274" stop-color="#e8f6ea"/><stop offset="0.7305" stop-color="#e6f5ee"/><stop offset="0.7336" stop-color="#f3fad5"/><stop offset="0.7368" stop-color="#e9f7e7"/><stop offset="0.7399" stop-color="#e6f5ec"/><stop offset="0.7430" stop-color="#e3f4f2"/><stop offset="0.7461" stop-color="#f0f9db"/><stop offset="0.7492" stop-color="#feeda4"/><stop offset="0.7523" stop-color="#feeea6"/><stop offset="0.7555" stop-color="#fee99e"/><stop offset="0.7586" stop-color="#feefa7"/><stop offset="0.7617" stop-color="#c4e1ee"/><stop offset="0.7648" stop-color="#c5e1ee"/><stop offset="0.7679" stop-color="#aad0e4"/><stop offset="0.7710" stop-color="#9ac5de"/><stop offset="0.7741" stop-color="#a2cae1"/><stop offset="0.7773" stop-color="#a1cae1"/><stop offset="0.7804" stop-color="#b5d6e8"/><stop offset="0.7835" stop-color="#b6d8e9"/><stop offset="0.7866" stop-color="#bcdceb"/><stop offset="0.7897" stop-color="#b7d8e9"/><stop offset="0.7928" stop-color="#a2cae1"/><stop offset="0.7960" stop-color="#b2d5e7"/><stop offset="0.7991" stop-color="#eef8df"/><stop offset="0.8022" stop-color="#eaf7e5"/><stop offset="0.8053" stop-color="#eaf7e5"/><stop offset="0.8084" stop-color="#dff2f8"/><stop offset="0.8115" stop-color="#cbe5f0"/><stop offset="0.8146" stop-color="#d3ebf3"/><stop offset="0.8178" stop-color="#e0f3f8"/><stop offset="0.8209" stop-color="#e5f5ee"/><stop offset="0.8240" stop-color="#fffbb9"/><stop offset="0.8271" stop-color="#fffbb9"/><stop offset="0.8302" stop-color="#f9fdca"/><stop offset="0.8333" stop-color="#d5ecf4"/><stop offset="0.8364" stop-color="#d2eaf3"/><stop offset="0.8396" stop-color="#dcf0f6"/><stop offset="0.8427" stop-color="#dcf0f7"/><stop offset="0.8458" stop-color="#d7edf5"/><stop offset="0.8489" stop-color="#dff2f8"/><stop offset="0.8520" stop-color="#e1f3f6"/><stop offset="0.8551" stop-color="#edf8e0"/><stop offset="0.8583" stop-color="#f5fbd1"/><stop offset="0.8614" stop-color="#fbfdc7"/><stop offset="0.8645" stop-color="#f8fccc"/><stop offset="0.8676" stop-color="#e6f5ed"/><stop offset="0.8707" stop-color="#7caad0"/><stop offset="0.8738" stop-color="#a1cae1"/><stop offset="0.8769" stop-color="#fbfec6"/><stop offset="0.8801" stop-color="#ffffbe"/><stop offset="0.8832" stop-color="#f3fad6"/><stop offset="0.8863" stop-color="#edf8e0"/><stop offset="0.8894" stop-color="#e7f6eb"/><stop offset="0.8925" stop-color="#eef8de"/><stop offset="0.8956" stop-color="#eef8df"/><stop offset="0.8988" stop-color="#f0f9db"/><stop offset="0.9019" stop-color="#eaf7e6"/><stop offset="0.9050" stop-color="#e4f4f1"/><stop offset="0.9081" stop-color="#c8e3ef"/><stop offset="0.9112" stop-color="#e5f5ef"/><stop offset="0.9143" stop-color="#e6f5ec"/><stop offset="0.9174" stop-color="#e5f5ee"/><stop offset="0.9206" stop-color="#cfe8f2"/><stop offset="0.9237" stop-color="#d5ebf4"/><stop offset="0.9268" stop-color="#d4ebf4"/><stop offset="0.9299" stop-color="#e1f3f6"/><stop offset="0.9330" stop-color="#ddf1f7"/><stop offset="0.9361" stop-color="#e6f6ec"/><stop offset="0.9393" stop-color="#dcf1f7"/><stop offset="0.9424" stop-color="#e5f5ef"/><stop offset="0.9455" stop-color="#cbe5f0"/><stop offset="0.9486" stop-color="#e2f4f4"/><stop offset="0.9517" stop-color="#eff9dc"/><stop offset="0.9548" stop-color="#f7fcce"/><stop offset="0.9579" stop-color="#eef9de"/><stop offset="0.9611" stop-color="#e8f6ea"/><stop offset="0.9642" stop-color="#f6fbd0"/><stop offset="0.9673" stop-color="#f4fbd3"/><stop offset="0.9704" stop-color="#fffebe"/><stop offset="0.9735" stop-color="#fff0a9"/><stop offset="0.9766" stop-color="#fff3ac"/><stop offset="0.9798" stop-color="#f6fccf"/><stop offset="0.9829" stop-color="#f7fccd"/><stop offset="0.9860" stop-color="#f5fbd2"/><stop offset="0.9891" stop-color="#f8fccc"/><stop offset="0.9922" stop-color="#f6fccf"/><stop offset="0.9953" stop-color="#f4fbd3"/><stop offset="0.9984" stop-color="#fbfec6"/></linearGradient><linearGradient id="L4" x1="0" y1="0" x2="0" y2="1"><stop offset="0.0016" stop-color="#afd3e6"/><stop offset="0.0047" stop-color="#b7d8e9"/><stop offset="0.0078" stop-color="#b3d6e8"/><stop offset="0.0109" stop-color="#95c1dc"/><stop offset="0.0140" stop-color="#5e8dc1"/><stop offset="0.0171" stop-color="#6e9dc9"/><stop offset="0.0202" stop-color="#7baad0"/><stop offset="0.0234" stop-color="#5786bd"/><stop offset="0.0265" stop-color="#4d7db8"/><stop offset="0.0296" stop-color="#7baad0"/><stop offset="0.0327" stop-color="#6291c3"/><stop offset="0.0358" stop-color="#73a2cb"/><stop offset="0.0389" stop-color="#6998c7"/><stop offset="0.0421" stop-color="#76a5cd"/><stop offset="0.0452" stop-color="#88b6d6"/><stop offset="0.0483" stop-color="#82b0d3"/><stop offset="0.0514" stop-color="#5d8dc1"/><stop offset="0.0545" stop-color="#5383bb"/><stop offset="0.0576" stop-color="#5e8dc1"/><stop offset="0.0607" stop-color="#6493c4"/><stop offset="0.0639" stop-color="#5b8abf"/><stop offset="0.0670" stop-color="#5a89bf"/><stop offset="0.0701" stop-color="#8ab8d8"/><stop offset="0.0732" stop-color="#7dabd1"/><stop offset="0.0763" stop-color="#71a0cb"/><stop offset="0.0794" stop-color="#81b0d3"/><stop offset="0.0826" stop-color="#6f9eca"/><stop offset="0.0857" stop-color="#82b0d3"/><stop offset="0.0888" stop-color="#96c2dd"/><stop offset="0.0919" stop-color="#a2cae1"/><stop offset="0.0950" stop-color="#5584bc"/><stop offset="0.0981" stop-color="#5180ba"/><stop offset="0.1012" stop-color="#6b9ac7"/><stop offset="0.1044" stop-color="#5888be"/><stop offset="0.1075" stop-color="#72a1cb"/><stop offset="0.1106" stop-color="#5483bc"/><stop offset="0.1137" stop-color="#6897c6"/><stop offset="0.1168" stop-color="#5181ba"/><stop offset="0.1199" stop-color="#6292c3"/><stop offset="0.1231" stop-color="#73a1cb"/><stop offset="0.1262" stop-color="#6d9cc8"/><stop offset="0.1293" stop-color="#6e9dc9"/><stop offset="0.1324" stop-color="#7fadd2"/><stop offset="0.1355" stop-color="#e6f5ed"/><stop offset="0.1386" stop-color="#8dbbd9"/><stop offset="0.1417" stop-color="#8cbad9"/><stop offset="0.1449" stop-color="#72a0cb"/><stop offset="0.1480" stop-color="#77a6ce"/><stop offset="0.1511" stop-color="#6d9cc8"/><stop offset="0.1542" stop-color="#6898c6"/><stop offset="0.1573" stop-color="#80aed2"/><stop offset="0.1604" stop-color="#6e9dc9"/><stop offset="0.1636" stop-color="#6998c6"/><stop offset="0.1667" stop-color="#5e8ec1"/><stop offset="0.1698" stop-color="#6e9dc9"/><stop offset="0.1729" stop-color="#6292c3"/><stop offset="0.1760" stop-color="#5383bb"/><stop offset="0.1791" stop-color="#6999c7"/><stop offset="0.1822" stop-color="#7aa9cf"/><stop offset="0.1854" stop-color="#7dacd1"/><stop offset="0.1885" stop-color="#7ba9d0"/><stop offset="0.1916" stop-color="#78a7ce"/><stop offset="0.1947" stop-color="#e0f3f8"/><stop offset="0.1978" stop-color="#cde7f1"/><stop offset="0.2009" stop-color="#e1f3f6"/><stop offset="0.2040" stop-color="#86b4d5"/><stop offset="0.2072" stop-color="#90beda"/><stop offset="0.2103" stop-color="#97c3dd"/><stop offset="0.2134" stop-color="#97c3dd"/><stop offset="0.2165" stop-color="#86b4d5"/><stop offset="0.2196" stop-color="#7dacd1"/><stop offset="0.2227" stop-color="#90bedb"/><stop offset="0.2259" stop-color="#8bbad8"/><stop offset="0.2290" stop-color="#6b9ac7"/><stop offset="0.2321" stop-color="#8bb9d8"/><stop offset="0.2352" stop-color="#74a3cc"/><stop offset="0.2383" stop-color="#78a7ce"/><stop offset="0.2414" stop-color="#79a7ce"/><stop offset="0.2445" stop-color="#6594c4"/><stop offset="0.2477" stop-color="#76a4cd"/><stop offset="0.2508" stop-color="#b9daea"/><stop offset="0.2539" stop-color="#cbe5f0"/><stop offset="0.2570" stop-color="#c8e3ef"/><stop offset="0.2601" stop-color="#b5d7e8"/><stop offset="0.2632" stop-color="#fffcba"/><stop offset="0.2664" stop-color="#fff2ab"/><stop offset="0.2695" stop-color="#fff4af"/><stop offset="0.2726" stop-color="#fff1a9"/><stop offset="0.2757" stop-color="#fcfec4"/><stop offset="0.2788" stop-color="#99c5de"/><stop offset="0.2819" stop-color="#87b5d6"/><stop offset="0.2850" stop-color="#7caad0"/><stop offset="0.2882" stop-color="#aed2e6"/><stop offset="0.2913" stop-color="#a7cde3"/><stop offset="0.2944" stop-color="#9ec8e0"/><stop offset="0.2975" stop-color="#a1c9e1"/><stop offset="0.3006" stop-color="#f7fcce"/><stop offset="0.3037" stop-color="#f8fccd"/><stop offset="0.3069" stop-color="#fffab7"/><stop offset="0.3100" stop-color="#fbfdc7"/><stop offset="0.3131" stop-color="#fff3ad"/><stop offset="0.3162" stop-color="#fff7b3"/><stop offset="0.3193" stop-color="#feefa7"/><stop offset="0.3224" stop-color="#fff2ab"/><stop offset="0.3255" stop-color="#feeca2"/><stop offset="0.3287" stop-color="#fff0a8"/><stop offset="0.3318" stop-color="#e2f4f5"/><stop offset="0.3349" stop-color="#e7f6ec"/><stop offset="0.3380" stop-color="#e0f3f8"/><stop offset="0.3411" stop-color="#eff9dd"/><stop offset="0.3442" stop-color="#eff9dc"/><stop offset="0.3474" stop-color="#ebf7e3"/><stop offset="0.3505" stop-color="#fffab7"/><stop offset="0.3536" stop-color="#fff0a8"/><stop offset="0.3567" stop-color="#fff5b0"/><stop offset="0.3598" stop-color="#fffab8"/><stop offset="0.3629" stop-color="#fdfec2"/><stop offset="0.3660" stop-color="#ebf7e3"/><stop offset="0.3692" stop-color="#f4fbd3"/><stop offset="0.3723" stop-color="#f5fbd1"/><stop offset="0.3754" stop-color="#8ebcd9"/><stop offset="0.3785" stop-color="#a8cee3"/><stop offset="0.3816" stop-color="#8ab8d7"/><stop offset="0.3847" stop-color="#87b6d6"/><stop offset="0.3879" stop-color="#9ec7e0"/><stop offset="0.3910" stop-color="#b1d4e7"/><stop offset="0.3941" stop-color="#a1c9e1"/><stop offset="0.3972" stop-color="#80aed2"/><stop offset="0.4003" stop-color="#8ebcd9"/><stop offset="0.4034" stop-color="#8dbbd9"/><stop offset="0.4065" stop-color="#77a6ce"/><stop offset="0.4097" stop-color="#b8d9e9"/><stop offset="0.4128" stop-color="#daeff6"/><stop offset="0.4159" stop-color="#bbdaea"/><stop offset="0.4190" stop-color="#b3d5e8"/><stop offset="0.4221" stop-color="#afd3e6"/><stop offset="0.4252" stop-color="#d0e9f2"/><stop offset="0.4283" stop-color="#fff5b0"/><stop offset="0.4315" stop-color="#feefa7"/><stop offset="0.4346" stop-color="#feeca2"/><stop offset="0.4377" stop-color="#fff9b7"/><stop offset="0.4408" stop-color="#fff7b2"/><stop offset="0.4439" stop-color="#fffcbb"/><stop offset="0.4470" stop-color="#fff0a8"/><stop offset="0.4502" stop-color="#feeca2"/><stop offset="0.4533" stop-color="#feefa7"/><stop offset="0.4564" stop-color="#fee79a"/><stop offset="0.4595" stop-color="#fee294"/><stop offset="0.4626" stop-color="#e8f6ea"/><stop offset="0.4657" stop-color="#e1f3f6"/><stop offset="0.4688" stop-color="#e3f4f3"/><stop offset="0.4720" stop-color="#b9daea"/><stop offset="0.4751" stop-color="#c1dfed"/><stop offset="0.4782" stop-color="#c5e1ee"/><stop offset="0.4813" stop-color="#e2f4f4"/><stop offset="0.4844" stop-color="#e2f4f5"/><stop offset="0.4875" stop-color="#f6fccf"/><stop offset="0.4907" stop-color="#f2fad8"/><stop offset="0.4938" stop-color="#e7f6ec"/><stop offset="0.4969" stop-color="#e9f6e8"/><stop offset="0.5000" stop-color="#f1fad9"/><stop offset="0.5031" stop-color="#f6fccf"/><stop offset="0.5062" stop-color="#eff9dc"/><stop offset="0.5093" stop-color="#fdfec2"/><stop offset="0.5125" stop-color="#e1f4f6"/><stop offset="0.5156" stop-color="#ebf7e4"/><stop offset="0.5187" stop-color="#e1f3f7"/><stop offset="0.5218" stop-color="#d4ebf4"/><stop offset="0.5249" stop-color="#d0e8f2"/><stop offset="0.5280" stop-color="#cbe5f0"/><stop offset="0.5312" stop-color="#daeff6"/><stop offset="0.5343" stop-color="#ddf1f7"/><stop offset="0.5374" stop-color="#d5ecf4"/><stop offset="0.5405" stop-color="#b9d9ea"/><stop offset="0.5436" stop-color="#e4f5f0"/><stop offset="0.5467" stop-color="#dbeff6"/><stop offset="0.5498" stop-color="#eff9dd"/><stop offset="0.5530" stop-color="#e5f5ee"/><stop offset="0.5561" stop-color="#eef8df"/><stop offset="0.5592" stop-color="#e2f4f5"/><stop offset="0.5623" stop-color="#fafdc9"/><stop offset="0.5654" stop-color="#fffdbc"/><stop offset="0.5685" stop-color="#fbfec6"/><stop offset="0.5717" stop-color="#f6fbd0"/><stop offset="0.5748" stop-color="#fff8b5"/><stop offset="0.5779" stop-color="#fffebe"/><stop offset="0.5810" stop-color="#f7fcce"/><stop offset="0.5841" stop-color="#ebf7e5"/><stop offset="0.5872" stop-color="#f6fccf"/><stop offset="0.5903" stop-color="#f2fad6"/><stop offset="0.5935" stop-color="#e5f5ef"/><stop offset="0.5966" stop-color="#e7f6eb"/><stop offset="0.5997" stop-color="#ecf8e2"/><stop offset="0.6028" stop-color="#e7f6ec"/><stop offset="0.6059" stop-color="#e8f6ea"/><stop offset="0.6090" stop-color="#eff9dc"/><stop offset="0.6121" stop-color="#e3f4f2"/><stop offset="0.6153" stop-color="#e8f6e9"/><stop offset="0.6184" stop-color="#edf8df"/><stop offset="0.6215" stop-color="#e6f5ec"/><stop offset="0.6246" stop-color="#edf8e0"/><stop offset="0.6277" stop-color="#f5fbd2"/><stop offset="0.6308" stop-color="#f5fbd0"/><stop offset="0.6340" stop-color="#fafdc9"/><stop offset="0.6371" stop-color="#fffdbc"/><stop offset="0.6402" stop-color="#fbfdc7"/><stop offset="0.6433" stop-color="#f7fcce"/><stop offset="0.6464" stop-color="#fff6b1"/><stop offset="0.6495" stop-color="#fffbb9"/><stop offset="0.6526" stop-color="#f7fccd"/><stop offset="0.6558" stop-color="#fafdc8"/><stop offset="0.6589" stop-color="#a5cce2"/><stop offset="0.6620" stop-color="#b8d8e9"/><stop offset="0.6651" stop-color="#cae5f0"/><stop offset="0.6682" stop-color="#a8cee3"/><stop offset="0.6713" stop-color="#a6cde3"/><stop offset="0.6745" stop-color="#fdc17c"/><stop offset="0.6776" stop-color="#fdb674"/><stop offset="0.6807" stop-color="#fdb271"/><stop offset="0.6838" stop-color="#fdc780"/><stop offset="0.6869" stop-color="#fee191"/><stop offset="0.6900" stop-color="#fedd8e"/><stop offset="0.6931" stop-color="#fedc8d"/><stop offset="0.6963" stop-color="#fee497"/><stop offset="0.6994" stop-color="#fee598"/><stop offset="0.7025" stop-color="#fff1aa"/><stop offset="0.7056" stop-color="#feeba1"/><stop offset="0.7087" stop-color="#fff0a8"/><stop offset="0.7118" stop-color="#fff1aa"/><stop offset="0.7150" stop-color="#fee89b"/><stop offset="0.7181" stop-color="#ec6644"/><stop offset="0.7212" stop-color="#ee6945"/><stop offset="0.7243" stop-color="#e85c3f"/><stop offset="0.7274" stop-color="#e7583c"/><stop offset="0.7305" stop-color="#e14934"/><stop offset="0.7336" stop-color="#fdc981"/><stop offset="0.7368" stop-color="#fecc83"/><stop offset="0.7399" stop-color="#fdb473"/><stop offset="0.7430" stop-color="#fecc83"/><stop offset="0.7461" stop-color="#fdc27c"/><stop offset="0.7492" stop-color="#fece84"/><stop offset="0.7523" stop-color="#fee192"/><stop offset="0.7555" stop-color="#fee496"/><stop offset="0.7586" stop-color="#f2734b"/><stop offset="0.7617" stop-color="#f98655"/><stop offset="0.7648" stop-color="#e6563c"/><stop offset="0.7679" stop-color="#eb6242"/><stop offset="0.7710" stop-color="#f06f49"/><stop offset="0.7741" stop-color="#e45038"/><stop offset="0.7773" stop-color="#f3764d"/><stop offset="0.7804" stop-color="#fc8e5a"/><stop offset="0.7835" stop-color="#fc935d"/><stop offset="0.7866" stop-color="#fdaa6c"/><stop offset="0.7897" stop-color="#fda468"/><stop offset="0.7928" stop-color="#f57c50"/><stop offset="0.7960" stop-color="#fda367"/><stop offset="0.7991" stop-color="#fda76a"/><stop offset="0.8022" stop-color="#fdaf70"/><stop offset="0.8053" stop-color="#f78052"/><stop offset="0.8084" stop-color="#fc8f5a"/><stop offset="0.8115" stop-color="#ef6b47"/><stop offset="0.8146" stop-color="#f47a4f"/><stop offset="0.8178" stop-color="#e8593d"/><stop offset="0.8209" stop-color="#f78153"/><stop offset="0.8240" stop-color="#fc8d59"/><stop offset="0.8271" stop-color="#fc9f65"/><stop offset="0.8302" stop-color="#fda76a"/><stop offset="0.8333" stop-color="#fda267"/><stop offset="0.8364" stop-color="#fa8856"/><stop offset="0.8396" stop-color="#f57b4f"/><stop offset="0.8427" stop-color="#ee6946"/><stop offset="0.8458" stop-color="#f78153"/><stop offset="0.8489" stop-color="#f2754c"/><stop offset="0.8520" stop-color="#e6553b"/><stop offset="0.8551" stop-color="#f1714a"/><stop offset="0.8583" stop-color="#f98555"/><stop offset="0.8614" stop-color="#fee89c"/><stop offset="0.8645" stop-color="#fecd83"/><stop offset="0.8676" stop-color="#fecc83"/><stop offset="0.8707" stop-color="#fed488"/><stop offset="0.8738" stop-color="#fed88b"/><stop offset="0.8769" stop-color="#fee79b"/><stop offset="0.8801" stop-color="#fee99e"/><stop offset="0.8832" stop-color="#fede8f"/><stop offset="0.8863" stop-color="#fff2ac"/><stop offset="0.8894" stop-color="#feefa7"/><stop offset="0.8925" stop-color="#fee597"/><stop offset="0.8956" stop-color="#fff0a8"/><stop offset="0.8988" stop-color="#feefa6"/><stop offset="0.9019" stop-color="#fee89c"/><stop offset="0.9050" stop-color="#fee597"/><stop offset="0.9081" stop-color="#fdb171"/><stop offset="0.9112" stop-color="#fda86b"/><stop offset="0.9143" stop-color="#fdb775"/><stop offset="0.9174" stop-color="#fed488"/><stop offset="0.9206" stop-color="#fff2ab"/><stop offset="0.9237" stop-color="#fee89c"/><stop offset="0.9268" stop-color="#fff3ad"/><stop offset="0.9299" stop-color="#fff7b2"/><stop offset="0.9330" stop-color="#fffbb8"/><stop offset="0.9361" stop-color="#feeda4"/><stop offset="0.9393" stop-color="#fff8b5"/><stop offset="0.9424" stop-color="#eaf7e5"/><stop offset="0.9455" stop-color="#f2fad6"/><stop offset="0.9486" stop-color="#f9fdca"/><stop offset="0.9517" stop-color="#f6fbd0"/><stop offset="0.9548" stop-color="#fbfec6"/><stop offset="0.9579" stop-color="#fdfec3"/><stop offset="0.9611" stop-color="#f7fcce"/><stop offset="0.9642" stop-color="#edf8e0"/><stop offset="0.9673" stop-color="#f6fbd0"/><stop offset="0.9704" stop-color="#f8fccb"/><stop offset="0.9735" stop-color="#fdc981"/><stop offset="0.9766" stop-color="#fecd83"/><stop offset="0.9798" stop-color="#fee89c"/><stop offset="0.9829" stop-color="#feeca3"/><stop offset="0.9860" stop-color="#feeca2"/><stop offset="0.9891" stop-color="#feeca2"/><stop offset="0.9922" stop-color="#fff0a9"/><stop offset="0.9953" stop-color="#fff4af"/><stop offset="0.9984" stop-color="#fff7b3"/></linearGradient><linearGradient id="L5" x1="0" y1="0" x2="0" y2="1"><stop offset="0.0016" stop-color="#f0f9da"/><stop offset="0.0047" stop-color="#e9f6e8"/><stop offset="0.0078" stop-color="#eff9dd"/><stop offset="0.0109" stop-color="#f5fbd1"/><stop offset="0.0140" stop-color="#eaf7e5"/><stop offset="0.0171" stop-color="#fdfec3"/><stop offset="0.0202" stop-color="#f6fbd0"/><stop offset="0.0234" stop-color="#eef8de"/><stop offset="0.0265" stop-color="#eaf7e6"/><stop offset="0.0296" stop-color="#f3fad5"/><stop offset="0.0327" stop-color="#eaf7e5"/><stop offset="0.0358" stop-color="#f1fad8"/><stop offset="0.0389" stop-color="#eef8df"/><stop offset="0.0421" stop-color="#e8f6e9"/><stop offset="0.0452" stop-color="#ebf7e4"/><stop offset="0.0483" stop-color="#ebf7e3"/><stop offset="0.0514" stop-color="#f2fad7"/><stop offset="0.0545" stop-color="#fcfec4"/><stop offset="0.0576" stop-color="#fffcba"/><stop offset="0.0607" stop-color="#f6fcd0"/><stop offset="0.0639" stop-color="#fffdbc"/><stop offset="0.0670" stop-color="#feffc1"/><stop offset="0.0701" stop-color="#edf8e1"/><stop offset="0.0732" stop-color="#edf8e1"/><stop offset="0.0763" stop-color="#e6f5ed"/><stop offset="0.0794" stop-color="#d8eef5"/><stop offset="0.0826" stop-color="#e7f6eb"/><stop offset="0.0857" stop-color="#eef8de"/><stop offset="0.0888" stop-color="#e9f6e7"/><stop offset="0.0919" stop-color="#f0f9da"/><stop offset="0.0950" stop-color="#f9fdca"/><stop offset="0.0981" stop-color="#fcfec4"/><stop offset="0.1012" stop-color="#fffebd"/><stop offset="0.1044" stop-color="#fffab7"/><stop offset="0.1075" stop-color="#fff7b4"/><stop offset="0.1106" stop-color="#fffcba"/><stop offset="0.1137" stop-color="#f8fccb"/><stop offset="0.1168" stop-color="#f7fcce"/><stop offset="0.1199" stop-color="#f5fbd1"/><stop offset="0.1231" stop-color="#fafdc8"/><stop offset="0.1262" stop-color="#fafdc9"/><stop offset="0.1293" stop-color="#feffc1"/><stop offset="0.1324" stop-color="#f9fdca"/><stop offset="0.1355" stop-color="#dcf1f7"/><stop offset="0.1386" stop-color="#e7f6ec"/><stop offset="0.1417" stop-color="#f5fbd2"/><stop offset="0.1449" stop-color="#f8fccc"/><stop offset="0.1480" stop-color="#f4fbd3"/><stop offset="0.1511" stop-color="#e6f5ee"/><stop offset="0.1542" stop-color="#f0f9da"/><stop offset="0.1573" stop-color="#edf8e0"/><stop offset="0.1604" stop-color="#ebf7e4"/><stop offset="0.1636" stop-color="#e7f6eb"/><stop offset="0.1667" stop-color="#e4f5f0"/><stop offset="0.1698" stop-color="#ebf7e3"/><stop offset="0.1729" stop-color="#f6fbd0"/><stop offset="0.1760" stop-color="#fdfec3"/><stop offset="0.1791" stop-color="#fffbba"/><stop offset="0.1822" stop-color="#fdfec3"/><stop offset="0.1854" stop-color="#edf8e0"/><stop offset="0.1885" stop-color="#e9f7e7"/><stop offset="0.1916" stop-color="#e5f5f0"/><stop offset="0.1947" stop-color="#a3cbe2"/><stop offset="0.1978" stop-color="#98c3dd"/><stop offset="0.2009" stop-color="#a9cfe4"/><stop offset="0.2040" stop-color="#a2cae1"/><stop offset="0.2072" stop-color="#eff9dd"/><stop offset="0.2103" stop-color="#f5fbd1"/><stop offset="0.2134" stop-color="#f4fbd3"/><stop offset="0.2165" stop-color="#e7f6eb"/><stop offset="0.2196" stop-color="#edf8e1"/><stop offset="0.2227" stop-color="#e9f7e7"/><stop offset="0.2259" stop-color="#f5fbd0"/><stop offset="0.2290" stop-color="#ecf8e2"/><stop offset="0.2321" stop-color="#e6f5ec"/><stop offset="0.2352" stop-color="#f3fad5"/><stop offset="0.2383" stop-color="#eef8df"/><stop offset="0.2414" stop-color="#e4f4f1"/><stop offset="0.2445" stop-color="#eff9dd"/><stop offset="0.2477" stop-color="#f7fcce"/><stop offset="0.2508" stop-color="#e6f5ed"/><stop offset="0.2539" stop-color="#d6ecf4"/><stop offset="0.2570" stop-color="#e6f6ec"/><stop offset="0.2601" stop-color="#e0f3f8"/><stop offset="0.2632" stop-color="#a9cfe4"/><stop offset="0.2664" stop-color="#97c3dd"/><stop offset="0.2695" stop-color="#c9e4f0"/><stop offset="0.2726" stop-color="#b8d8e9"/><stop offset="0.2757" stop-color="#a8cee4"/><stop offset="0.2788" stop-color="#f6fccf"/><stop offset="0.2819" stop-color="#ffffbf"/><stop offset="0.2850" stop-color="#eef9de"/><stop offset="0.2882" stop-color="#e2f4f4"/><stop offset="0.2913" stop-color="#e5f5ee"/><stop offset="0.2944" stop-color="#def1f7"/><stop offset="0.2975" stop-color="#e9f7e7"/><stop offset="0.3006" stop-color="#e6f5ed"/><stop offset="0.3037" stop-color="#e9f6e8"/><stop offset="0.3069" stop-color="#edf8df"/><stop offset="0.3100" stop-color="#e9f6e7"/><stop offset="0.3131" stop-color="#e5f5ee"/><stop offset="0.3162" stop-color="#88b6d6"/><stop offset="0.3193" stop-color="#82b0d3"/><stop offset="0.3224" stop-color="#9cc6df"/><stop offset="0.3255" stop-color="#add2e5"/><stop offset="0.3287" stop-color="#abd0e5"/><stop offset="0.3318" stop-color="#8dbbd9"/><stop offset="0.3349" stop-color="#e0f3f8"/><stop offset="0.3380" stop-color="#e7f6eb"/><stop offset="0.3411" stop-color="#ebf7e4"/><stop offset="0.3442" stop-color="#eaf7e5"/><stop offset="0.3474" stop-color="#e8f6e9"/><stop offset="0.3505" stop-color="#98c4de"/><stop offset="0.3536" stop-color="#8fbdda"/><stop offset="0.3567" stop-color="#81afd3"/><stop offset="0.3598" stop-color="#93c0dc"/><stop offset="0.3629" stop-color="#8bb9d8"/><stop offset="0.3660" stop-color="#a1cae1"/><stop offset="0.3692" stop-color="#8cbad9"/><stop offset="0.3723" stop-color="#84b2d4"/><stop offset="0.3754" stop-color="#cde7f1"/><stop offset="0.3785" stop-color="#d1e9f3"/><stop offset="0.3816" stop-color="#e6f5ed"/><stop offset="0.3847" stop-color="#edf8e0"/><stop offset="0.3879" stop-color="#f2fad6"/><stop offset="0.3910" stop-color="#e2f4f5"/><stop offset="0.3941" stop-color="#e8f6ea"/><stop offset="0.3972" stop-color="#e8f6e9"/><stop offset="0.4003" stop-color="#e3f4f2"/><stop offset="0.4034" stop-color="#eef8de"/><stop offset="0.4065" stop-color="#eef8de"/><stop offset="0.4097" stop-color="#dcf0f7"/><stop offset="0.4128" stop-color="#e6f5ed"/><stop offset="0.4159" stop-color="#e1f3f6"/><stop offset="0.4190" stop-color="#fbfdc7"/><stop offset="0.4221" stop-color="#fafdc8"/><stop offset="0.4252" stop-color="#fafdc9"/><stop offset="0.4283" stop-color="#eff9dc"/><stop offset="0.4315" stop-color="#99c4de"/><stop offset="0.4346" stop-color="#8cbad8"/><stop offset="0.4377" stop-color="#8ebcd9"/><stop offset="0.4408" stop-color="#80aed2"/><stop offset="0.4439" stop-color="#8ebcd9"/><stop offset="0.4470" stop-color="#7aa8cf"/><stop offset="0.4502" stop-color="#90beda"/><stop offset="0.4533" stop-color="#94c1dc"/><stop offset="0.4564" stop-color="#bcdbeb"/><stop offset="0.4595" stop-color="#c4e1ee"/><stop offset="0.4626" stop-color="#cbe5f0"/><stop offset="0.4657" stop-color="#abd0e4"/><stop offset="0.4688" stop-color="#afd3e6"/><stop offset="0.4720" stop-color="#e2f4f5"/><stop offset="0.4751" stop-color="#e6f5ee"/><stop offset="0.4782" stop-color="#e1f3f6"/><stop offset="0.4813" stop-color="#c7e3ef"/><stop offset="0.4844" stop-color="#cbe5f0"/><stop offset="0.4875" stop-color="#e5f5ef"/><stop offset="0.4907" stop-color="#eaf7e5"/><stop offset="0.4938" stop-color="#e7f6eb"/><stop offset="0.4969" stop-color="#dff2f7"/><stop offset="0.5000" stop-color="#d1e9f3"/><stop offset="0.5031" stop-color="#d2eaf3"/><stop offset="0.5062" stop-color="#cce6f1"/><stop offset="0.5093" stop-color="#a4cbe2"/><stop offset="0.5125" stop-color="#9dc7df"/><stop offset="0.5156" stop-color="#80aed2"/><stop offset="0.5187" stop-color="#94c1dc"/><stop offset="0.5218" stop-color="#9dc7df"/><stop offset="0.5249" stop-color="#80aed2"/><stop offset="0.5280" stop-color="#b8d9e9"/><stop offset="0.5312" stop-color="#d6edf4"/><stop offset="0.5343" stop-color="#d3eaf3"/><stop offset="0.5374" stop-color="#d2eaf3"/><stop offset="0.5405" stop-color="#c7e3ef"/><stop offset="0.5436" stop-color="#bfddec"/><stop offset="0.5467" stop-color="#9fc8e0"/><stop offset="0.5498" stop-color="#85b3d5"/><stop offset="0.5530" stop-color="#82b1d4"/><stop offset="0.5561" stop-color="#8fbdda"/><stop offset="0.5592" stop-color="#9cc6df"/><stop offset="0.5623" stop-color="#aad0e4"/><stop offset="0.5654" stop-color="#b3d6e8"/><stop offset="0.5685" stop-color="#c8e3ef"/><stop offset="0.5717" stop-color="#aacfe4"/><stop offset="0.5748" stop-color="#6a99c7"/><stop offset="0.5779" stop-color="#6998c7"/><stop offset="0.5810" stop-color="#6897c6"/><stop offset="0.5841" stop-color="#f0f9db"/><stop offset="0.5872" stop-color="#e6f6ec"/><stop offset="0.5903" stop-color="#e8f6ea"/><stop offset="0.5935" stop-color="#f4fbd3"/><stop offset="0.5966" stop-color="#edf8e0"/><stop offset="0.5997" stop-color="#ebf7e4"/><stop offset="0.6028" stop-color="#e9f6e8"/><stop offset="0.6059" stop-color="#e5f5ee"/><stop offset="0.6090" stop-color="#e4f4f1"/><stop offset="0.6121" stop-color="#eef9de"/><stop offset="0.6153" stop-color="#e1f4f5"/><stop offset="0.6184" stop-color="#d6ecf4"/><stop offset="0.6215" stop-color="#eaf7e6"/><stop offset="0.6246" stop-color="#eff9dc"/><stop offset="0.6277" stop-color="#ebf7e4"/><stop offset="0.6308" stop-color="#eaf7e6"/><stop offset="0.6340" stop-color="#daeff6"/><stop offset="0.6371" stop-color="#cde7f1"/><stop offset="0.6402" stop-color="#d1e9f2"/><stop offset="0.6433" stop-color="#cee7f2"/><stop offset="0.6464" stop-color="#daeff6"/><stop offset="0.6495" stop-color="#d2eaf3"/><stop offset="0.6526" stop-color="#e5f5ee"/><stop offset="0.6558" stop-color="#d4ebf3"/><stop offset="0.6589" stop-color="#ebf7e3"/><stop offset="0.6620" stop-color="#daeff6"/><stop offset="0.6651" stop-color="#e1f3f7"/><stop offset="0.6682" stop-color="#e0f3f7"/><stop offset="0.6713" stop-color="#d2eaf3"/><stop offset="0.6745" stop-color="#fece84"/><stop offset="0.6776" stop-color="#fed88b"/><stop offset="0.6807" stop-color="#fee597"/><stop offset="0.6838" stop-color="#fee598"/><stop offset="0.6869" stop-color="#fee99d"/><stop offset="0.6900" stop-color="#fda96b"/><stop offset="0.6931" stop-color="#f98554"/><stop offset="0.6963" stop-color="#f2734b"/><stop offset="0.6994" stop-color="#fc9a61"/><stop offset="0.7025" stop-color="#fc8f5a"/><stop offset="0.7056" stop-color="#fdc47e"/><stop offset="0.7087" stop-color="#fdba77"/><stop offset="0.7118" stop-color="#fed98c"/><stop offset="0.7150" stop-color="#fee699"/><stop offset="0.7181" stop-color="#fee89d"/><stop offset="0.7212" stop-color="#feefa7"/><stop offset="0.7243" stop-color="#fffab8"/><stop offset="0.7274" stop-color="#feffc0"/><stop offset="0.7305" stop-color="#fff9b6"/><stop offset="0.7336" stop-color="#feeca3"/><stop offset="0.7368" stop-color="#feeda3"/><stop offset="0.7399" stop-color="#fed488"/><stop offset="0.7430" stop-color="#fee496"/><stop offset="0.7461" stop-color="#fed488"/><stop offset="0.7492" stop-color="#fdb775"/><stop offset="0.7523" stop-color="#fdc67f"/><stop offset="0.7555" stop-color="#fece84"/><stop offset="0.7586" stop-color="#fffcba"/><stop offset="0.7617" stop-color="#fffdbb"/><stop offset="0.7648" stop-color="#fff8b5"/><stop offset="0.7679" stop-color="#fff5b1"/><stop offset="0.7710" stop-color="#fff5b0"/><stop offset="0.7741" stop-color="#fff8b5"/><stop offset="0.7773" stop-color="#feeea6"/><stop offset="0.7804" stop-color="#fff3ad"/><stop offset="0.7835" stop-color="#fff7b3"/><stop offset="0.7866" stop-color="#fff7b3"/><stop offset="0.7897" stop-color="#feefa6"/><stop offset="0.7928" stop-color="#fff0a8"/><stop offset="0.7960" stop-color="#feeda4"/><stop offset="0.7991" stop-color="#fdca81"/><stop offset="0.8022" stop-color="#fee191"/><stop offset="0.8053" stop-color="#fed88a"/><stop offset="0.8084" stop-color="#fee99e"/><stop offset="0.8115" stop-color="#fee69a"/><stop offset="0.8146" stop-color="#fee699"/><stop offset="0.8178" stop-color="#fee79a"/><stop offset="0.8209" stop-color="#feeca3"/><stop offset="0.8240" stop-color="#fee192"/><stop offset="0.8271" stop-color="#fdb171"/><stop offset="0.8302" stop-color="#fdb473"/><stop offset="0.8333" stop-color="#fdc67f"/><stop offset="0.8364" stop-color="#fed488"/><stop offset="0.8396" stop-color="#fdc27c"/><stop offset="0.8427" stop-color="#fee191"/><stop offset="0.8458" stop-color="#fee293"/><stop offset="0.8489" stop-color="#fee598"/><stop offset="0.8520" stop-color="#fee99d"/><stop offset="0.8551" stop-color="#fed689"/><stop offset="0.8583" stop-color="#fed287"/><stop offset="0.8614" stop-color="#fdbe7a"/><stop offset="0.8645" stop-color="#fdc27c"/><stop offset="0.8676" stop-color="#fdb473"/><stop offset="0.8707" stop-color="#fda468"/><stop offset="0.8738" stop-color="#fdc57e"/><stop offset="0.8769" stop-color="#fdb876"/><stop offset="0.8801" stop-color="#fdb775"/><stop offset="0.8832" stop-color="#fed085"/><stop offset="0.8863" stop-color="#fed085"/><stop offset="0.8894" stop-color="#fdc27c"/><stop offset="0.8925" stop-color="#fed387"/><stop offset="0.8956" stop-color="#fede8e"/><stop offset="0.8988" stop-color="#fdc37d"/><stop offset="0.9019" stop-color="#fca066"/><stop offset="0.9050" stop-color="#fda66a"/><stop offset="0.9081" stop-color="#fdc27c"/><stop offset="0.9112" stop-color="#fed68a"/><stop offset="0.9143" stop-color="#fee99d"/><stop offset="0.9174" stop-color="#feeda4"/><stop offset="0.9206" stop-color="#fee99e"/><stop offset="0.9237" stop-color="#feda8c"/><stop offset="0.9268" stop-color="#fee394"/><stop offset="0.9299" stop-color="#fed88b"/><stop offset="0.9330" stop-color="#fee394"/><stop offset="0.9361" stop-color="#fee293"/><stop offset="0.9393" stop-color="#fee699"/><stop offset="0.9424" stop-color="#fff1a9"/><stop offset="0.9455" stop-color="#feeea5"/><stop offset="0.9486" stop-color="#fff2ab"/><stop offset="0.9517" stop-color="#f3774d"/><stop offset="0.9548" stop-color="#ed6845"/><stop offset="0.9579" stop-color="#fa8957"/><stop offset="0.9611" stop-color="#fee394"/><stop offset="0.9642" stop-color="#fee395"/><stop offset="0.9673" stop-color="#fee99e"/><stop offset="0.9704" stop-color="#fee89d"/><stop offset="0.9735" stop-color="#fdc880"/><stop offset="0.9766" stop-color="#fdb272"/><stop offset="0.9798" stop-color="#fc9f65"/><stop offset="0.9829" stop-color="#fc8e5a"/><stop offset="0.9860" stop-color="#fdae6f"/><stop offset="0.9891" stop-color="#fc8e5a"/><stop offset="0.9922" stop-color="#f67d51"/><stop offset="0.9953" stop-color="#f78052"/><stop offset="0.9984" stop-color="#fc975f"/></linearGradient><linearGradient id="L6" x1="0" y1="0" x2="0" y2="1"><stop offset="0.0016" stop-color="#eff9dd"/><stop offset="0.0047" stop-color="#f5fbd1"/><stop offset="0.0078" stop-color="#e5f5ef"/><stop offset="0.0109" stop-color="#f1fad8"/><stop offset="0.0140" stop-color="#fff2ab"/><stop offset="0.0171" stop-color="#fdfec3"/><stop offset="0.0202" stop-color="#fff8b5"/><stop offset="0.0234" stop-color="#fff4ae"/><stop offset="0.0265" stop-color="#ffffbf"/><stop offset="0.0296" stop-color="#fdfec3"/><stop offset="0.0327" stop-color="#f5fbd1"/><stop offset="0.0358" stop-color="#f3fad5"/><stop offset="0.0389" stop-color="#f7fcce"/><stop offset="0.0421" stop-color="#f9fdca"/><stop offset="0.0452" stop-color="#fcfec5"/><stop offset="0.0483" stop-color="#f3fad6"/><stop offset="0.0514" stop-color="#f3fad6"/><stop offset="0.0545" stop-color="#ebf7e4"/><stop offset="0.0576" stop-color="#f8fccc"/><stop offset="0.0607" stop-color="#fcfec4"/><stop offset="0.0639" stop-color="#f5fbd1"/><stop offset="0.0670" stop-color="#f8fccc"/><stop offset="0.0701" stop-color="#fffab8"/><stop offset="0.0732" stop-color="#fbfec6"/><stop offset="0.0763" stop-color="#fdfec3"/><stop offset="0.0794" stop-color="#f5fbd2"/><stop offset="0.0826" stop-color="#fffebd"/><stop offset="0.0857" stop-color="#f8fccc"/><stop offset="0.0888" stop-color="#e3f4f3"/><stop offset="0.0919" stop-color="#eef9de"/><stop offset="0.0950" stop-color="#edf8e0"/><stop offset="0.0981" stop-color="#ffffbe"/><stop offset="0.1012" stop-color="#fffcbb"/><stop offset="0.1044" stop-color="#fffebd"/><stop offset="0.1075" stop-color="#feffc1"/><stop offset="0.1106" stop-color="#f7fcce"/><stop offset="0.1137" stop-color="#f3fad5"/><stop offset="0.1168" stop-color="#f2fad6"/><stop offset="0.1199" stop-color="#f3fad5"/><stop offset="0.1231" stop-color="#f5fbd1"/><stop offset="0.1262" stop-color="#fffbb9"/><stop offset="0.1293" stop-color="#fafdc7"/><stop offset="0.1324" stop-color="#f5fbd2"/><stop offset="0.1355" stop-color="#e4f5f0"/><stop offset="0.1386" stop-color="#e1f4f6"/><stop offset="0.1417" stop-color="#eff9dc"/><stop offset="0.1449" stop-color="#f9fdca"/><stop offset="0.1480" stop-color="#fafdc8"/><stop offset="0.1511" stop-color="#feffc0"/><stop offset="0.1542" stop-color="#fffdbc"/><stop offset="0.1573" stop-color="#fbfec6"/><stop offset="0.1604" stop-color="#f7fccd"/><stop offset="0.1636" stop-color="#fbfdc6"/><stop offset="0.1667" stop-color="#f4fbd4"/><stop offset="0.1698" stop-color="#f6fccf"/><stop offset="0.1729" stop-color="#f5fbd2"/><stop offset="0.1760" stop-color="#fafdc8"/><stop offset="0.1791" stop-color="#fffdbb"/><stop offset="0.1822" stop-color="#fffebd"/><stop offset="0.1854" stop-color="#f4fbd3"/><stop offset="0.1885" stop-color="#f8fccc"/><stop offset="0.1916" stop-color="#fff7b4"/><stop offset="0.1947" stop-color="#fff9b6"/><stop offset="0.1978" stop-color="#f9fdc9"/><stop offset="0.2009" stop-color="#d8eef5"/><stop offset="0.2040" stop-color="#e4f5f0"/><stop offset="0.2072" stop-color="#ecf8e2"/><stop offset="0.2103" stop-color="#ebf7e4"/><stop offset="0.2134" stop-color="#fffcba"/><stop offset="0.2165" stop-color="#fffdbd"/><stop offset="0.2196" stop-color="#fff8b5"/><stop offset="0.2227" stop-color="#fbfdc7"/><stop offset="0.2259" stop-color="#fffbb9"/><stop offset="0.2290" stop-color="#fff9b5"/><stop offset="0.2321" stop-color="#f8fccb"/><stop offset="0.2352" stop-color="#f4fbd2"/><stop offset="0.2383" stop-color="#f4fbd3"/><stop offset="0.2414" stop-color="#ffffc0"/><stop offset="0.2445" stop-color="#fffdbc"/><stop offset="0.2477" stop-color="#f5fbd1"/><stop offset="0.2508" stop-color="#fcfec5"/><stop offset="0.2539" stop-color="#f7fcce"/><stop offset="0.2570" stop-color="#fffdbc"/><stop offset="0.2601" stop-color="#cce6f1"/><stop offset="0.2632" stop-color="#b7d8e9"/><stop offset="0.2664" stop-color="#badaea"/><stop offset="0.2695" stop-color="#c3e0ed"/><stop offset="0.2726" stop-color="#c6e2ee"/><stop offset="0.2757" stop-color="#e6f6ec"/><stop offset="0.2788" stop-color="#dcf0f6"/><stop offset="0.2819" stop-color="#dbf0f6"/><stop offset="0.2850" stop-color="#cde7f1"/><stop offset="0.2882" stop-color="#ebf7e4"/><stop offset="0.2913" stop-color="#e9f7e7"/><stop offset="0.2944" stop-color="#e4f4f1"/><stop offset="0.2975" stop-color="#dcf0f6"/><stop offset="0.3006" stop-color="#8fbdda"/><stop offset="0.3037" stop-color="#77a5ce"/><stop offset="0.3069" stop-color="#73a2cc"/><stop offset="0.3100" stop-color="#8dbbd9"/><stop offset="0.3131" stop-color="#93c0dc"/><stop offset="0.3162" stop-color="#a0c9e0"/><stop offset="0.3193" stop-color="#aed2e6"/><stop offset="0.3224" stop-color="#98c3dd"/><stop offset="0.3255" stop-color="#a5cce2"/><stop offset="0.3287" stop-color="#aed2e6"/><stop offset="0.3318" stop-color="#e6f5ed"/><stop offset="0.3349" stop-color="#e1f3f7"/><stop offset="0.3380" stop-color="#e3f4f2"/><stop offset="0.3411" stop-color="#c2dfed"/><stop offset="0.3442" stop-color="#b7d8e9"/><stop offset="0.3474" stop-color="#c8e3ef"/><stop offset="0.3505" stop-color="#b8d8e9"/><stop offset="0.3536" stop-color="#beddec"/><stop offset="0.3567" stop-color="#b7d8e9"/><stop offset="0.3598" stop-color="#9ec8e0"/><stop offset="0.3629" stop-color="#e1f3f6"/><stop offset="0.3660" stop-color="#ddf1f7"/><stop offset="0.3692" stop-color="#e8f6e9"/><stop offset="0.3723" stop-color="#e3f4f2"/><stop offset="0.3754" stop-color="#ecf8e1"/><stop offset="0.3785" stop-color="#ecf8e2"/><stop offset="0.3816" stop-color="#e9f6e8"/><stop offset="0.3847" stop-color="#ecf8e2"/><stop offset="0.3879" stop-color="#f4fbd4"/><stop offset="0.3910" stop-color="#ebf7e4"/><stop offset="0.3941" stop-color="#e1f3f7"/><stop offset="0.3972" stop-color="#edf8df"/><stop offset="0.4003" stop-color="#e7f6eb"/><stop offset="0.4034" stop-color="#eaf7e5"/><stop offset="0.4065" stop-color="#e6f5ed"/><stop offset="0.4097" stop-color="#e3f4f3"/><stop offset="0.4128" stop-color="#eaf7e5"/><stop offset="0.4159" stop-color="#dbf0f6"/><stop offset="0.4190" stop-color="#e9f6e8"/><stop offset="0.4221" stop-color="#e1f3f6"/><stop offset="0.4252" stop-color="#aed2e6"/><stop offset="0.4283" stop-color="#c1dfed"/><stop offset="0.4315" stop-color="#c4e1ee"/><stop offset="0.4346" stop-color="#e6f5ec"/><stop offset="0.4377" stop-color="#eff9dc"/><stop offset="0.4408" stop-color="#eaf7e6"/><stop offset="0.4439" stop-color="#e2f4f4"/><stop offset="0.4470" stop-color="#dff2f8"/><stop offset="0.4502" stop-color="#cce6f1"/><stop offset="0.4533" stop-color="#e0f3f7"/><stop offset="0.4564" stop-color="#dbf0f6"/><stop offset="0.4595" stop-color="#e1f3f6"/><stop offset="0.4626" stop-color="#e9f7e7"/><stop offset="0.4657" stop-color="#e4f5f1"/><stop offset="0.4688" stop-color="#cbe5f0"/><stop offset="0.4720" stop-color="#dcf1f7"/><stop offset="0.4751" stop-color="#c8e3ef"/><stop offset="0.4782" stop-color="#daeff6"/><stop offset="0.4813" stop-color="#e7f6eb"/><stop offset="0.4844" stop-color="#e6f5ec"/><stop offset="0.4875" stop-color="#ebf7e4"/><stop offset="0.4907" stop-color="#e0f3f8"/><stop offset="0.4938" stop-color="#e1f3f7"/><stop offset="0.4969" stop-color="#daeff6"/><stop offset="0.5000" stop-color="#9bc6df"/><stop offset="0.5031" stop-color="#94c1dc"/><stop offset="0.5062" stop-color="#c6e2ee"/><stop offset="0.5093" stop-color="#e4f5f0"/><stop offset="0.5125" stop-color="#eef9de"/><stop offset="0.5156" stop-color="#ebf7e3"/><stop offset="0.5187" stop-color="#edf8df"/><stop offset="0.5218" stop-color="#d9eff6"/><stop offset="0.5249" stop-color="#d7edf5"/><stop offset="0.5280" stop-color="#e5f5ef"/><stop offset="0.5312" stop-color="#edf8e0"/><stop offset="0.5343" stop-color="#dbf0f6"/><stop offset="0.5374" stop-color="#ecf7e3"/><stop offset="0.5405" stop-color="#fffab7"/><stop offset="0.5436" stop-color="#f4fbd3"/><stop offset="0.5467" stop-color="#f3fad6"/><stop offset="0.5498" stop-color="#fdfec2"/><stop offset="0.5530" stop-color="#f6fccf"/><stop offset="0.5561" stop-color="#9ac5de"/><stop offset="0.5592" stop-color="#a8cee3"/><stop offset="0.5623" stop-color="#b1d4e7"/><stop offset="0.5654" stop-color="#beddec"/><stop offset="0.5685" stop-color="#a6cde3"/><stop offset="0.5717" stop-color="#a9cfe4"/><stop offset="0.5748" stop-color="#9ac5de"/><stop offset="0.5779" stop-color="#bcdbeb"/><stop offset="0.5810" stop-color="#cce6f1"/><stop offset="0.5841" stop-color="#f3fad5"/><stop offset="0.5872" stop-color="#e3f4f2"/><stop offset="0.5903" stop-color="#d6ecf4"/><stop offset="0.5935" stop-color="#e7f6ec"/><stop offset="0.5966" stop-color="#e4f5f0"/><stop offset="0.5997" stop-color="#ebf7e3"/><stop offset="0.6028" stop-color="#eaf7e5"/><stop offset="0.6059" stop-color="#d7edf5"/><stop offset="0.6090" stop-color="#c9e4f0"/><stop offset="0.6121" stop-color="#e2f4f4"/><stop offset="0.6153" stop-color="#daeff6"/><stop offset="0.6184" stop-color="#dbf0f6"/><stop offset="0.6215" stop-color="#e3f4f2"/><stop offset="0.6246" stop-color="#9fc8e0"/><stop offset="0.6277" stop-color="#95c2dd"/><stop offset="0.6308" stop-color="#a6cde3"/><stop offset="0.6340" stop-color="#94c1dc"/><stop offset="0.6371" stop-color="#cde6f1"/><stop offset="0.6402" stop-color="#d4ebf4"/><stop offset="0.6433" stop-color="#c7e3ef"/><stop offset="0.6464" stop-color="#85b3d5"/><stop offset="0.6495" stop-color="#a8cee3"/><stop offset="0.6526" stop-color="#b5d6e8"/><stop offset="0.6558" stop-color="#b0d3e6"/><stop offset="0.6589" stop-color="#e3f4f3"/><stop offset="0.6620" stop-color="#ecf8e2"/><stop offset="0.6651" stop-color="#e7f6eb"/><stop offset="0.6682" stop-color="#daeff6"/><stop offset="0.6713" stop-color="#e1f3f7"/><stop offset="0.6745" stop-color="#fee597"/><stop offset="0.6776" stop-color="#fee394"/><stop offset="0.6807" stop-color="#fee69a"/><stop offset="0.6838" stop-color="#fee597"/><stop offset="0.6869" stop-color="#feeea5"/><stop offset="0.6900" stop-color="#fc965f"/><stop offset="0.6931" stop-color="#f57a4f"/><stop offset="0.6963" stop-color="#f3764d"/><stop offset="0.6994" stop-color="#fdaf6f"/><stop offset="0.7025" stop-color="#fda267"/><stop offset="0.7056" stop-color="#fdb976"/><stop offset="0.7087" stop-color="#fdc981"/><stop offset="0.7118" stop-color="#fdbe79"/><stop offset="0.7150" stop-color="#fdb271"/><stop offset="0.7181" stop-color="#fdba77"/><stop offset="0.7212" stop-color="#fdac6e"/><stop offset="0.7243" stop-color="#feeea5"/><stop offset="0.7274" stop-color="#feda8c"/><stop offset="0.7305" stop-color="#fdc780"/><stop offset="0.7336" stop-color="#fed78a"/><stop offset="0.7368" stop-color="#fed88b"/><stop offset="0.7399" stop-color="#fee495"/><stop offset="0.7430" stop-color="#fee496"/><stop offset="0.7461" stop-color="#feeda3"/><stop offset="0.7492" stop-color="#fee293"/><stop offset="0.7523" stop-color="#fee597"/><stop offset="0.7555" stop-color="#fee192"/><stop offset="0.7586" stop-color="#fff1aa"/><stop offset="0.7617" stop-color="#fee99e"/><stop offset="0.7648" stop-color="#fff6b2"/><stop offset="0.7679" stop-color="#fffcba"/><stop offset="0.7710" stop-color="#fff4ae"/><stop offset="0.7741" stop-color="#fee99d"/><stop offset="0.7773" stop-color="#fed98c"/><stop offset="0.7804" stop-color="#fee090"/><stop offset="0.7835" stop-color="#fece84"/><stop offset="0.7866" stop-color="#fee597"/><stop offset="0.7897" stop-color="#feefa7"/><stop offset="0.7928" stop-color="#fee99e"/><stop offset="0.7960" stop-color="#fee496"/><stop offset="0.7991" stop-color="#feeca2"/><stop offset="0.8022" stop-color="#fee395"/><stop offset="0.8053" stop-color="#fee191"/><stop offset="0.8084" stop-color="#fed186"/><stop offset="0.8115" stop-color="#fee394"/><stop offset="0.8146" stop-color="#feeca3"/><stop offset="0.8178" stop-color="#feeea5"/><stop offset="0.8209" stop-color="#feeea6"/><stop offset="0.8240" stop-color="#feeda3"/><stop offset="0.8271" stop-color="#feeea5"/><stop offset="0.8302" stop-color="#fff2ac"/><stop offset="0.8333" stop-color="#fee497"/><stop offset="0.8364" stop-color="#fff0a8"/><stop offset="0.8396" stop-color="#fee699"/><stop offset="0.8427" stop-color="#feefa6"/><stop offset="0.8458" stop-color="#fee496"/><stop offset="0.8489" stop-color="#feeea6"/><stop offset="0.8520" stop-color="#feeca2"/><stop offset="0.8551" stop-color="#fff2ab"/><stop offset="0.8583" stop-color="#feeaa0"/><stop offset="0.8614" stop-color="#fdad6e"/><stop offset="0.8645" stop-color="#fda468"/><stop offset="0.8676" stop-color="#fdb372"/><stop offset="0.8707" stop-color="#fdc981"/><stop offset="0.8738" stop-color="#fee699"/><stop offset="0.8769" stop-color="#fed186"/><stop offset="0.8801" stop-color="#fed689"/><stop offset="0.8832" stop-color="#fee597"/><stop offset="0.8863" stop-color="#feeba1"/><stop offset="0.8894" stop-color="#fee496"/><stop offset="0.8925" stop-color="#fed085"/><stop offset="0.8956" stop-color="#fdcb82"/><stop offset="0.8988" stop-color="#fdc37d"/><stop offset="0.9019" stop-color="#fee395"/><stop offset="0.9050" stop-color="#fee293"/><stop offset="0.9081" stop-color="#fee597"/><stop offset="0.9112" stop-color="#fee89c"/><stop offset="0.9143" stop-color="#fece84"/><stop offset="0.9174" stop-color="#fdc07a"/><stop offset="0.9206" stop-color="#fed78a"/><stop offset="0.9237" stop-color="#ea6041"/><stop offset="0.9268" stop-color="#f98555"/><stop offset="0.9299" stop-color="#f06e49"/><stop offset="0.9330" stop-color="#f57c50"/><stop offset="0.9361" stop-color="#f98454"/><stop offset="0.9393" stop-color="#eb6343"/><stop offset="0.9424" stop-color="#ea6041"/><stop offset="0.9455" stop-color="#ec6543"/><stop offset="0.9486" stop-color="#ee6a46"/><stop offset="0.9517" stop-color="#fdbb78"/><stop offset="0.9548" stop-color="#fdb272"/><stop offset="0.9579" stop-color="#fdb573"/><stop offset="0.9611" stop-color="#fc9961"/><stop offset="0.9642" stop-color="#fc965f"/><stop offset="0.9673" stop-color="#fc9e64"/><stop offset="0.9704" stop-color="#fdb070"/><stop offset="0.9735" stop-color="#fee69a"/><stop offset="0.9766" stop-color="#fdc880"/><stop offset="0.9798" stop-color="#fed086"/><stop offset="0.9829" stop-color="#fecf85"/><stop offset="0.9860" stop-color="#fee192"/><stop offset="0.9891" stop-color="#fed78a"/><stop offset="0.9922" stop-color="#fdbc78"/><stop offset="0.9953" stop-color="#fdb976"/><stop offset="0.9984" stop-color="#fdbb77"/></linearGradient><linearGradient id="R1" x1="0" y1="0" x2="0" y2="1"><stop offset="0.0016" stop-color="#fdb775"/><stop offset="0.0047" stop-color="#fdb573"/><stop offset="0.0078" stop-color="#fdc77f"/><stop offset="0.0109" stop-color="#fc9a62"/><stop offset="0.0140" stop-color="#f4784e"/><stop offset="0.0171" stop-color="#ee6a46"/><stop offset="0.0202" stop-color="#e14834"/><stop offset="0.0234" stop-color="#db392c"/><stop offset="0.0265" stop-color="#e04633"/><stop offset="0.0296" stop-color="#d73027"/><stop offset="0.0327" stop-color="#da372b"/><stop offset="0.0358" stop-color="#e7593d"/><stop offset="0.0389" stop-color="#e34e37"/><stop offset="0.0421" stop-color="#ee6b46"/><stop offset="0.0452" stop-color="#ed6744"/><stop offset="0.0483" stop-color="#f57a4f"/><stop offset="0.0514" stop-color="#ec6443"/><stop offset="0.0545" stop-color="#f57b4f"/><stop offset="0.0576" stop-color="#f67f51"/><stop offset="0.0607" stop-color="#f98555"/><stop offset="0.0639" stop-color="#f98655"/><stop offset="0.0670" stop-color="#fc8c59"/><stop offset="0.0701" stop-color="#ee6946"/><stop offset="0.0732" stop-color="#f4794e"/><stop offset="0.0763" stop-color="#fc9c63"/><stop offset="0.0794" stop-color="#fc8c58"/><stop offset="0.0826" stop-color="#fca267"/><stop offset="0.0857" stop-color="#fb8a58"/><stop offset="0.0888" stop-color="#fc9a61"/><stop offset="0.0919" stop-color="#fc935d"/><stop offset="0.0950" stop-color="#f78153"/><stop offset="0.0981" stop-color="#f3774d"/><stop offset="0.1012" stop-color="#e95c3f"/><stop offset="0.1044" stop-color="#f3774d"/><stop offset="0.1075" stop-color="#fc915c"/><stop offset="0.1106" stop-color="#f67e51"/><stop offset="0.1137" stop-color="#f3784d"/><stop offset="0.1168" stop-color="#e95c3f"/><stop offset="0.1199" stop-color="#e44f38"/><stop offset="0.1231" stop-color="#f3784d"/><stop offset="0.1262" stop-color="#e5533a"/><stop offset="0.1293" stop-color="#de4130"/><stop offset="0.1324" stop-color="#e24c36"/><stop offset="0.1355" stop-color="#d73027"/><stop offset="0.1386" stop-color="#e95d3f"/><stop offset="0.1417" stop-color="#e85a3e"/><stop offset="0.1449" stop-color="#fc8f5b"/><stop offset="0.1480" stop-color="#f47a4f"/><stop offset="0.1511" stop-color="#fc8c59"/><stop offset="0.1542" stop-color="#f67d50"/><stop offset="0.1573" stop-color="#f2734b"/><stop offset="0.1604" stop-color="#f78152"/><stop offset="0.1636" stop-color="#f06e48"/><stop offset="0.1667" stop-color="#f57c50"/><stop offset="0.1698" stop-color="#fc8e59"/><stop offset="0.1729" stop-color="#f57c50"/><stop offset="0.1760" stop-color="#fdc27c"/><stop offset="0.1791" stop-color="#fdc981"/><stop offset="0.1822" stop-color="#fdc77f"/><stop offset="0.1854" stop-color="#fdc77f"/><stop offset="0.1885" stop-color="#fdca81"/><stop offset="0.1916" stop-color="#fee496"/><stop offset="0.1947" stop-color="#fee292"/><stop offset="0.1978" stop-color="#fee395"/><stop offset="0.2009" stop-color="#fee598"/><stop offset="0.2040" stop-color="#fee090"/><stop offset="0.2072" stop-color="#fecf85"/><stop offset="0.2103" stop-color="#feeba1"/><stop offset="0.2134" stop-color="#fee497"/><stop offset="0.2165" stop-color="#fdbf7a"/><stop offset="0.2196" stop-color="#fedf8f"/><stop offset="0.2227" stop-color="#fee191"/><stop offset="0.2259" stop-color="#fed387"/><stop offset="0.2290" stop-color="#fecd84"/><stop offset="0.2321" stop-color="#fee699"/><stop offset="0.2352" stop-color="#feeca3"/><stop offset="0.2383" stop-color="#fee699"/><stop offset="0.2414" stop-color="#feeba1"/><stop offset="0.2445" stop-color="#fee293"/><stop offset="0.2477" stop-color="#fed78a"/><stop offset="0.2508" stop-color="#fdb574"/><stop offset="0.2539" stop-color="#fda368"/><stop offset="0.2570" stop-color="#fdc47d"/><stop offset="0.2601" stop-color="#fdc77f"/><stop offset="0.2632" stop-color="#fda86b"/><stop offset="0.2664" stop-color="#fdb372"/><stop offset="0.2695" stop-color="#fed186"/><stop offset="0.2726" stop-color="#fee191"/><stop offset="0.2757" stop-color="#fffcbb"/><stop offset="0.2788" stop-color="#fff6b1"/><stop offset="0.2819" stop-color="#fff0a8"/><stop offset="0.2850" stop-color="#fffbb9"/><stop offset="0.2882" stop-color="#fdfec3"/><stop offset="0.2913" stop-color="#fffcbb"/><stop offset="0.2944" stop-color="#f6fccf"/><stop offset="0.2975" stop-color="#fdfec3"/><stop offset="0.3006" stop-color="#fee394"/><stop offset="0.3037" stop-color="#fee598"/><stop offset="0.3069" stop-color="#fecf85"/><stop offset="0.3100" stop-color="#fedf8f"/><stop offset="0.3131" stop-color="#fee497"/><stop offset="0.3162" stop-color="#fee597"/><stop offset="0.3193" stop-color="#fee69a"/><stop offset="0.3224" stop-color="#fee699"/><stop offset="0.3255" stop-color="#feefa7"/><stop offset="0.3287" stop-color="#fee495"/><stop offset="0.3318" stop-color="#fff2ac"/><stop offset="0.3349" stop-color="#fee699"/><stop offset="0.3380" stop-color="#fee99d"/><stop offset="0.3411" stop-color="#fee89c"/><stop offset="0.3442" stop-color="#fee99e"/><stop offset="0.3474" stop-color="#feeda4"/><stop offset="0.3505" stop-color="#fff4af"/><stop offset="0.3536" stop-color="#fff4ae"/><stop offset="0.3567" stop-color="#feeda4"/><stop offset="0.3598" stop-color="#fff1aa"/><stop offset="0.3629" stop-color="#fee89c"/><stop offset="0.3660" stop-color="#fee699"/><stop offset="0.3692" stop-color="#fedd8e"/><stop offset="0.3723" stop-color="#fee496"/><stop offset="0.3754" stop-color="#fdc57e"/><stop offset="0.3785" stop-color="#fdc57e"/><stop offset="0.3816" stop-color="#fedd8e"/><stop offset="0.3847" stop-color="#fed186"/><stop offset="0.3879" stop-color="#fdca82"/><stop offset="0.3910" stop-color="#fdbd79"/><stop offset="0.3941" stop-color="#fdc57e"/><stop offset="0.3972" stop-color="#fdad6e"/><stop offset="0.4003" stop-color="#fed88b"/><stop offset="0.4034" stop-color="#feeba1"/><stop offset="0.4065" stop-color="#feea9e"/><stop offset="0.4097" stop-color="#fff0a8"/><stop offset="0.4128" stop-color="#fff9b7"/><stop offset="0.4159" stop-color="#fffdbc"/><stop offset="0.4190" stop-color="#fdbb77"/><stop offset="0.4221" stop-color="#fdaf6f"/><stop offset="0.4252" stop-color="#fdb171"/><stop offset="0.4283" stop-color="#fecd83"/><stop offset="0.4315" stop-color="#fed98c"/><stop offset="0.4346" stop-color="#fdc981"/><stop offset="0.4377" stop-color="#fc8c59"/><stop offset="0.4408" stop-color="#fa8856"/><stop offset="0.4439" stop-color="#fc965f"/><stop offset="0.4470" stop-color="#fc915c"/><stop offset="0.4502" stop-color="#fdc67f"/><stop offset="0.4533" stop-color="#fdac6e"/><stop offset="0.4564" stop-color="#fece84"/><stop offset="0.4595" stop-color="#fece84"/><stop offset="0.4626" stop-color="#fecd83"/><stop offset="0.4657" stop-color="#c2dfed"/><stop offset="0.4688" stop-color="#cae4f0"/><stop offset="0.4720" stop-color="#b6d8e9"/><stop offset="0.4751" stop-color="#b8d8e9"/><stop offset="0.4782" stop-color="#e5f5ef"/><stop offset="0.4813" stop-color="#f3fad5"/><stop offset="0.4844" stop-color="#edf8df"/><stop offset="0.4875" stop-color="#f3fbd4"/><stop offset="0.4907" stop-color="#e1f3f6"/><stop offset="0.4938" stop-color="#e2f4f5"/><stop offset="0.4969" stop-color="#d6edf5"/><stop offset="0.5000" stop-color="#bddceb"/><stop offset="0.5031" stop-color="#c2dfed"/><stop offset="0.5062" stop-color="#bbdbeb"/><stop offset="0.5093" stop-color="#cce6f1"/><stop offset="0.5125" stop-color="#cde7f1"/><stop offset="0.5156" stop-color="#bbdbeb"/><stop offset="0.5187" stop-color="#d2eaf3"/><stop offset="0.5218" stop-color="#d1e9f3"/><stop offset="0.5249" stop-color="#bedceb"/><stop offset="0.5280" stop-color="#c4e0ee"/><stop offset="0.5312" stop-color="#b7d8e9"/><stop offset="0.5343" stop-color="#cae4f0"/><stop offset="0.5374" stop-color="#8fbdda"/><stop offset="0.5405" stop-color="#add1e5"/><stop offset="0.5436" stop-color="#8dbbd9"/><stop offset="0.5467" stop-color="#95c2dc"/><stop offset="0.5498" stop-color="#a6cde3"/><stop offset="0.5530" stop-color="#8fbdda"/><stop offset="0.5561" stop-color="#8fbdda"/><stop offset="0.5592" stop-color="#97c3dd"/><stop offset="0.5623" stop-color="#75a4cd"/><stop offset="0.5654" stop-color="#7cabd0"/><stop offset="0.5685" stop-color="#99c4de"/><stop offset="0.5717" stop-color="#a9cfe4"/><stop offset="0.5748" stop-color="#b0d3e6"/><stop offset="0.5779" stop-color="#82b0d3"/><stop offset="0.5810" stop-color="#eff9dd"/><stop offset="0.5841" stop-color="#f3fad5"/><stop offset="0.5872" stop-color="#ebf7e3"/><stop offset="0.5903" stop-color="#e6f5ed"/><stop offset="0.5935" stop-color="#edf8e0"/><stop offset="0.5966" stop-color="#e9f7e7"/><stop offset="0.5997" stop-color="#e2f4f5"/><stop offset="0.6028" stop-color="#d0e8f2"/><stop offset="0.6059" stop-color="#e2f4f5"/><stop offset="0.6090" stop-color="#e2f4f4"/><stop offset="0.6121" stop-color="#d4ebf4"/><stop offset="0.6153" stop-color="#dff2f7"/><stop offset="0.6184" stop-color="#e6f5ee"/><stop offset="0.6215" stop-color="#fff0a8"/><stop offset="0.6246" stop-color="#fffab7"/><stop offset="0.6277" stop-color="#fbfec6"/><stop offset="0.6308" stop-color="#fffcbb"/><stop offset="0.6340" stop-color="#fff6b1"/><stop offset="0.6371" stop-color="#fff5b1"/><stop offset="0.6402" stop-color="#fffebd"/><stop offset="0.6433" stop-color="#fff9b5"/><stop offset="0.6464" stop-color="#fff5b0"/><stop offset="0.6495" stop-color="#fffab7"/><stop offset="0.6526" stop-color="#fff6b1"/><stop offset="0.6558" stop-color="#fff4af"/><stop offset="0.6589" stop-color="#feeda4"/><stop offset="0.6620" stop-color="#e8f6e9"/><stop offset="0.6651" stop-color="#f4fbd2"/><stop offset="0.6682" stop-color="#f5fbd1"/><stop offset="0.6713" stop-color="#e9f6e8"/><stop offset="0.6745" stop-color="#e3f4f2"/><stop offset="0.6776" stop-color="#c9e4f0"/><stop offset="0.6807" stop-color="#d9eef5"/><stop offset="0.6838" stop-color="#dff3f8"/><stop offset="0.6869" stop-color="#d9eef5"/><stop offset="0.6900" stop-color="#e6f5ed"/><stop offset="0.6931" stop-color="#e3f4f3"/><stop offset="0.6963" stop-color="#fff1aa"/><stop offset="0.6994" stop-color="#feefa7"/><stop offset="0.7025" stop-color="#feeba0"/><stop offset="0.7056" stop-color="#fff8b4"/><stop offset="0.7087" stop-color="#feffc1"/><stop offset="0.7118" stop-color="#fffcba"/><stop offset="0.7150" stop-color="#fff1aa"/><stop offset="0.7181" stop-color="#feeba0"/><stop offset="0.7212" stop-color="#feefa7"/><stop offset="0.7243" stop-color="#fffab8"/><stop offset="0.7274" stop-color="#fff5b0"/><stop offset="0.7305" stop-color="#feeea4"/><stop offset="0.7336" stop-color="#feeca2"/><stop offset="0.7368" stop-color="#d6ecf4"/><stop offset="0.7399" stop-color="#bfddec"/><stop offset="0.7430" stop-color="#cce6f1"/><stop offset="0.7461" stop-color="#c5e1ee"/><stop offset="0.7492" stop-color="#80aed2"/><stop offset="0.7523" stop-color="#98c4de"/><stop offset="0.7555" stop-color="#a6cde3"/><stop offset="0.7586" stop-color="#a1cae1"/><stop offset="0.7617" stop-color="#e1f3f6"/><stop offset="0.7648" stop-color="#dff2f8"/><stop offset="0.7679" stop-color="#beddec"/><stop offset="0.7710" stop-color="#bcdbeb"/><stop offset="0.7741" stop-color="#b5d6e8"/><stop offset="0.7773" stop-color="#9dc7df"/><stop offset="0.7804" stop-color="#8fbdda"/><stop offset="0.7835" stop-color="#80aed2"/><stop offset="0.7866" stop-color="#98c4de"/><stop offset="0.7897" stop-color="#aad0e4"/><stop offset="0.7928" stop-color="#92c0db"/><stop offset="0.7960" stop-color="#77a6ce"/><stop offset="0.7991" stop-color="#719fca"/><stop offset="0.8022" stop-color="#5e8ec1"/><stop offset="0.8053" stop-color="#76a5cd"/><stop offset="0.8084" stop-color="#608fc2"/><stop offset="0.8115" stop-color="#8ab8d7"/><stop offset="0.8146" stop-color="#96c2dd"/><stop offset="0.8178" stop-color="#84b2d4"/><stop offset="0.8209" stop-color="#def2f7"/><stop offset="0.8240" stop-color="#e5f5ef"/><stop offset="0.8271" stop-color="#cce6f1"/><stop offset="0.8302" stop-color="#dbf0f6"/><stop offset="0.8333" stop-color="#e5f5ef"/><stop offset="0.8364" stop-color="#e1f3f6"/><stop offset="0.8396" stop-color="#e7f6eb"/><stop offset="0.8427" stop-color="#d5ecf4"/><stop offset="0.8458" stop-color="#badaea"/><stop offset="0.8489" stop-color="#ffffbf"/><stop offset="0.8520" stop-color="#feeea5"/><stop offset="0.8551" stop-color="#fff4af"/><stop offset="0.8583" stop-color="#fff8b4"/><stop offset="0.8614" stop-color="#eff9dd"/><stop offset="0.8645" stop-color="#f2fad7"/><stop offset="0.8676" stop-color="#f1f9da"/><stop offset="0.8707" stop-color="#f5fbd1"/><stop offset="0.8738" stop-color="#edf8df"/><stop offset="0.8769" stop-color="#ebf7e3"/><stop offset="0.8801" stop-color="#e8f6e9"/><stop offset="0.8832" stop-color="#fbfdc7"/><stop offset="0.8863" stop-color="#c9e4ef"/><stop offset="0.8894" stop-color="#b0d4e6"/><stop offset="0.8925" stop-color="#a9cfe4"/><stop offset="0.8956" stop-color="#a1cae1"/><stop offset="0.8988" stop-color="#add1e5"/><stop offset="0.9019" stop-color="#b3d6e8"/><stop offset="0.9050" stop-color="#c3e0ed"/><stop offset="0.9081" stop-color="#c4e1ee"/><stop offset="0.9112" stop-color="#a4cce2"/><stop offset="0.9143" stop-color="#b3d6e8"/><stop offset="0.9174" stop-color="#9bc6df"/><stop offset="0.9206" stop-color="#a6cde3"/><stop offset="0.9237" stop-color="#96c2dd"/><stop offset="0.9268" stop-color="#bddceb"/><stop offset="0.9299" stop-color="#b6d7e8"/><stop offset="0.9330" stop-color="#d1e9f3"/><stop offset="0.9361" stop-color="#cee7f2"/><stop offset="0.9393" stop-color="#e1f3f7"/><stop offset="0.9424" stop-color="#c4e1ee"/><stop offset="0.9455" stop-color="#bfddec"/><stop offset="0.9486" stop-color="#cae5f0"/><stop offset="0.9517" stop-color="#8ebcd9"/><stop offset="0.9548" stop-color="#7caad0"/><stop offset="0.9579" stop-color="#8fbdda"/><stop offset="0.9611" stop-color="#95c2dd"/><stop offset="0.9642" stop-color="#a9cfe4"/><stop offset="0.9673" stop-color="#badaea"/><stop offset="0.9704" stop-color="#b7d8e9"/><stop offset="0.9735" stop-color="#99c4de"/><stop offset="0.9766" stop-color="#9fc8e0"/><stop offset="0.9798" stop-color="#98c4de"/><stop offset="0.9829" stop-color="#7dabd1"/><stop offset="0.9860" stop-color="#8fbdda"/><stop offset="0.9891" stop-color="#85b3d5"/><stop offset="0.9922" stop-color="#7eadd1"/><stop offset="0.9953" stop-color="#cce6f1"/><stop offset="0.9984" stop-color="#beddec"/></linearGradient><linearGradient id="R2" x1="0" y1="0" x2="0" y2="1"><stop offset="0.0016" stop-color="#fcfec5"/><stop offset="0.0047" stop-color="#fcfec5"/><stop offset="0.0078" stop-color="#f7fcce"/><stop offset="0.0109" stop-color="#eff9dc"/><stop offset="0.0140" stop-color="#fff0a9"/><stop offset="0.0171" stop-color="#fee699"/><stop offset="0.0202" stop-color="#feeda4"/><stop offset="0.0234" stop-color="#fee79b"/><stop offset="0.0265" stop-color="#fff7b2"/><stop offset="0.0296" stop-color="#fff3ad"/><stop offset="0.0327" stop-color="#fff9b6"/><stop offset="0.0358" stop-color="#fff5b0"/><stop offset="0.0389" stop-color="#fff1a9"/><stop offset="0.0421" stop-color="#fee99d"/><stop offset="0.0452" stop-color="#feeca3"/><stop offset="0.0483" stop-color="#fee79a"/><stop offset="0.0514" stop-color="#f7fcce"/><stop offset="0.0545" stop-color="#eef8de"/><stop offset="0.0576" stop-color="#f1fad9"/><stop offset="0.0607" stop-color="#f8fccb"/><stop offset="0.0639" stop-color="#fcfec5"/><stop offset="0.0670" stop-color="#eef9de"/><stop offset="0.0701" stop-color="#fecf85"/><stop offset="0.0732" stop-color="#fed286"/><stop offset="0.0763" stop-color="#fdc67f"/><stop offset="0.0794" stop-color="#fda96b"/><stop offset="0.0826" stop-color="#fdbd79"/><stop offset="0.0857" stop-color="#fed589"/><stop offset="0.0888" stop-color="#fee99e"/><stop offset="0.0919" stop-color="#fee394"/><stop offset="0.0950" stop-color="#fee192"/><stop offset="0.0981" stop-color="#fff1aa"/><stop offset="0.1012" stop-color="#fee292"/><stop offset="0.1044" stop-color="#fee597"/><stop offset="0.1075" stop-color="#fdc57e"/><stop offset="0.1106" stop-color="#fee090"/><stop offset="0.1137" stop-color="#fee598"/><stop offset="0.1168" stop-color="#fee699"/><stop offset="0.1199" stop-color="#fece84"/><stop offset="0.1231" stop-color="#fee090"/><stop offset="0.1262" stop-color="#fee090"/><stop offset="0.1293" stop-color="#fee89d"/><stop offset="0.1324" stop-color="#fee597"/><stop offset="0.1355" stop-color="#feeda4"/><stop offset="0.1386" stop-color="#feefa7"/><stop offset="0.1417" stop-color="#fee395"/><stop offset="0.1449" stop-color="#fed186"/><stop offset="0.1480" stop-color="#fee79a"/><stop offset="0.1511" stop-color="#fee192"/><stop offset="0.1542" stop-color="#feea9f"/><stop offset="0.1573" stop-color="#feeba1"/><stop offset="0.1604" stop-color="#fee79b"/><stop offset="0.1636" stop-color="#fee294"/><stop offset="0.1667" stop-color="#fedd8e"/><stop offset="0.1698" stop-color="#fee293"/><stop offset="0.1729" stop-color="#fee89c"/><stop offset="0.1760" stop-color="#fdb372"/><stop offset="0.1791" stop-color="#fdb875"/><stop offset="0.1822" stop-color="#fdba77"/><stop offset="0.1854" stop-color="#fffcbb"/><stop offset="0.1885" stop-color="#fffebd"/><stop offset="0.1916" stop-color="#f2fad6"/><stop offset="0.1947" stop-color="#fffdbd"/><stop offset="0.1978" stop-color="#fff6b1"/><stop offset="0.2009" stop-color="#feeda3"/><stop offset="0.2040" stop-color="#fee496"/><stop offset="0.2072" stop-color="#fff3ad"/><stop offset="0.2103" stop-color="#fee99d"/><stop offset="0.2134" stop-color="#fff4af"/><stop offset="0.2165" stop-color="#fdbe7a"/><stop offset="0.2196" stop-color="#fdbc78"/><stop offset="0.2227" stop-color="#fdaa6c"/><stop offset="0.2259" stop-color="#fdc981"/><stop offset="0.2290" stop-color="#fdc37d"/><stop offset="0.2321" stop-color="#fdaf6f"/><stop offset="0.2352" stop-color="#fed589"/><stop offset="0.2383" stop-color="#fff5af"/><stop offset="0.2414" stop-color="#feefa7"/><stop offset="0.2445" stop-color="#fff6b1"/><stop offset="0.2477" stop-color="#fffbb9"/><stop offset="0.2508" stop-color="#fee79b"/><stop offset="0.2539" stop-color="#fee293"/><stop offset="0.2570" stop-color="#feefa7"/><stop offset="0.2601" stop-color="#feefa6"/><stop offset="0.2632" stop-color="#feeba1"/><stop offset="0.2664" stop-color="#fff6b2"/><stop offset="0.2695" stop-color="#fffab8"/><stop offset="0.2726" stop-color="#fff2ab"/><stop offset="0.2757" stop-color="#fee496"/><stop offset="0.2788" stop-color="#feea9f"/><stop offset="0.2819" stop-color="#feeca2"/><stop offset="0.2850" stop-color="#fede8f"/><stop offset="0.2882" stop-color="#fdbb78"/><stop offset="0.2913" stop-color="#fdc67e"/><stop offset="0.2944" stop-color="#fee395"/><stop offset="0.2975" stop-color="#fee598"/><stop offset="0.3006" stop-color="#fed488"/><stop offset="0.3037" stop-color="#fdc07b"/><stop offset="0.3069" stop-color="#fffebe"/><stop offset="0.3100" stop-color="#fffdbc"/><stop offset="0.3131" stop-color="#f8fccc"/><stop offset="0.3162" stop-color="#ffffbf"/><stop offset="0.3193" stop-color="#fff7b3"/><stop offset="0.3224" stop-color="#fff9b5"/><stop offset="0.3255" stop-color="#ea6041"/><stop offset="0.3287" stop-color="#f67d50"/><stop offset="0.3318" stop-color="#f06e48"/><stop offset="0.3349" stop-color="#f2744c"/><stop offset="0.3380" stop-color="#f06e48"/><stop offset="0.3411" stop-color="#fc8e5a"/><stop offset="0.3442" stop-color="#f98555"/><stop offset="0.3474" stop-color="#f3754c"/><stop offset="0.3505" stop-color="#fa8756"/><stop offset="0.3536" stop-color="#f57b4f"/><stop offset="0.3567" stop-color="#fc9760"/><stop offset="0.3598" stop-color="#fc8d59"/><stop offset="0.3629" stop-color="#ec6443"/><stop offset="0.3660" stop-color="#eb6342"/><stop offset="0.3692" stop-color="#ef6c47"/><stop offset="0.3723" stop-color="#e7583c"/><stop offset="0.3754" stop-color="#e85a3e"/><stop offset="0.3785" stop-color="#ed6745"/><stop offset="0.3816" stop-color="#f3774d"/><stop offset="0.3847" stop-color="#e95d3f"/><stop offset="0.3879" stop-color="#ec6544"/><stop offset="0.3910" stop-color="#f06e48"/><stop offset="0.3941" stop-color="#f57b4f"/><stop offset="0.3972" stop-color="#fc8f5a"/><stop offset="0.4003" stop-color="#fc965f"/><stop offset="0.4034" stop-color="#f78052"/><stop offset="0.4065" stop-color="#f4784e"/><stop offset="0.4097" stop-color="#fdc07b"/><stop offset="0.4128" stop-color="#fdcb82"/><stop offset="0.4159" stop-color="#fed488"/><stop offset="0.4190" stop-color="#fece84"/><stop offset="0.4221" stop-color="#fede8f"/><stop offset="0.4252" stop-color="#fee597"/><stop offset="0.4283" stop-color="#fee698"/><stop offset="0.4315" stop-color="#feeda4"/><stop offset="0.4346" stop-color="#feeda4"/><stop offset="0.4377" stop-color="#fee598"/><stop offset="0.4408" stop-color="#fedd8e"/><stop offset="0.4439" stop-color="#fee192"/><stop offset="0.4470" stop-color="#fedc8d"/><stop offset="0.4502" stop-color="#fedc8d"/><stop offset="0.4533" stop-color="#fee89d"/><stop offset="0.4564" stop-color="#feeca3"/><stop offset="0.4595" stop-color="#feeda4"/><stop offset="0.4626" stop-color="#fff7b2"/><stop offset="0.4657" stop-color="#bcdceb"/><stop offset="0.4688" stop-color="#c3e0ed"/><stop offset="0.4720" stop-color="#d4ebf4"/><stop offset="0.4751" stop-color="#c3e0ed"/><stop offset="0.4782" stop-color="#dff2f8"/><stop offset="0.4813" stop-color="#dff2f8"/><stop offset="0.4844" stop-color="#d6edf4"/><stop offset="0.4875" stop-color="#bedceb"/><stop offset="0.4907" stop-color="#daeff6"/><stop offset="0.4938" stop-color="#d9eff6"/><stop offset="0.4969" stop-color="#d7edf5"/><stop offset="0.5000" stop-color="#e4f5f0"/><stop offset="0.5031" stop-color="#def2f7"/><stop offset="0.5062" stop-color="#d8eef5"/><stop offset="0.5093" stop-color="#ecf7e3"/><stop offset="0.5125" stop-color="#c6e2ee"/><stop offset="0.5156" stop-color="#d1e9f2"/><stop offset="0.5187" stop-color="#d5ecf4"/><stop offset="0.5218" stop-color="#dff2f7"/><stop offset="0.5249" stop-color="#c5e2ee"/><stop offset="0.5280" stop-color="#b4d6e8"/><stop offset="0.5312" stop-color="#d6edf5"/><stop offset="0.5343" stop-color="#b9d9ea"/><stop offset="0.5374" stop-color="#fff6b1"/><stop offset="0.5405" stop-color="#fffdbc"/><stop offset="0.5436" stop-color="#f5fbd1"/><stop offset="0.5467" stop-color="#f6fbd0"/><stop offset="0.5498" stop-color="#fffebd"/><stop offset="0.5530" stop-color="#fefec2"/><stop offset="0.5561" stop-color="#f6fccf"/><stop offset="0.5592" stop-color="#f1fad8"/><stop offset="0.5623" stop-color="#eef8de"/><stop offset="0.5654" stop-color="#f8fccc"/><stop offset="0.5685" stop-color="#f9fdcb"/><stop offset="0.5717" stop-color="#fffebe"/><stop offset="0.5748" stop-color="#f7fcce"/><stop offset="0.5779" stop-color="#f6fccf"/><stop offset="0.5810" stop-color="#fcfec5"/><stop offset="0.5841" stop-color="#fafdc9"/><stop offset="0.5872" stop-color="#fcfec5"/><stop offset="0.5903" stop-color="#f6fbd0"/><stop offset="0.5935" stop-color="#fefec1"/><stop offset="0.5966" stop-color="#fffebe"/><stop offset="0.5997" stop-color="#fbfdc6"/><stop offset="0.6028" stop-color="#ffffbf"/><stop offset="0.6059" stop-color="#f9fdc9"/><stop offset="0.6090" stop-color="#fffbb9"/><stop offset="0.6121" stop-color="#fffab7"/><stop offset="0.6153" stop-color="#fafdc7"/><stop offset="0.6184" stop-color="#a9cfe4"/><stop offset="0.6215" stop-color="#a6cde3"/><stop offset="0.6246" stop-color="#b2d5e7"/><stop offset="0.6277" stop-color="#b0d3e6"/><stop offset="0.6308" stop-color="#badaea"/><stop offset="0.6340" stop-color="#aacfe4"/><stop offset="0.6371" stop-color="#97c3dd"/><stop offset="0.6402" stop-color="#a3cbe2"/><stop offset="0.6433" stop-color="#b4d6e8"/><stop offset="0.6464" stop-color="#a6cde3"/><stop offset="0.6495" stop-color="#aacfe4"/><stop offset="0.6526" stop-color="#a5cce2"/><stop offset="0.6558" stop-color="#94c1dc"/><stop offset="0.6589" stop-color="#84b2d4"/><stop offset="0.6620" stop-color="#feeda4"/><stop offset="0.6651" stop-color="#fff4af"/><stop offset="0.6682" stop-color="#fff1aa"/><stop offset="0.6713" stop-color="#fee99d"/><stop offset="0.6745" stop-color="#feeda4"/><stop offset="0.6776" stop-color="#fdfec3"/><stop offset="0.6807" stop-color="#fff6b1"/><stop offset="0.6838" stop-color="#fff8b5"/><stop offset="0.6869" stop-color="#fffbb9"/><stop offset="0.6900" stop-color="#fafdc8"/><stop offset="0.6931" stop-color="#fffcba"/><stop offset="0.6963" stop-color="#fefec1"/><stop offset="0.6994" stop-color="#fffbb9"/><stop offset="0.7025" stop-color="#fff3ac"/><stop offset="0.7056" stop-color="#f1f9d9"/><stop offset="0.7087" stop-color="#e4f4f1"/><stop offset="0.7118" stop-color="#edf8e0"/><stop offset="0.7150" stop-color="#ecf8e2"/><stop offset="0.7181" stop-color="#e0f3f8"/><stop offset="0.7212" stop-color="#cae5f0"/><stop offset="0.7243" stop-color="#cbe5f0"/><stop offset="0.7274" stop-color="#def2f7"/><stop offset="0.7305" stop-color="#f8fccc"/><stop offset="0.7336" stop-color="#eef8de"/><stop offset="0.7368" stop-color="#feffc0"/><stop offset="0.7399" stop-color="#f3fad6"/><stop offset="0.7430" stop-color="#feffc1"/><stop offset="0.7461" stop-color="#fcfec4"/><stop offset="0.7492" stop-color="#f6fccf"/><stop offset="0.7523" stop-color="#f9fdc9"/><stop offset="0.7555" stop-color="#f8fccb"/><stop offset="0.7586" stop-color="#f1fad9"/><stop offset="0.7617" stop-color="#f0f9da"/><stop offset="0.7648" stop-color="#e9f6e8"/><stop offset="0.7679" stop-color="#e6f6ec"/><stop offset="0.7710" stop-color="#e0f3f8"/><stop offset="0.7741" stop-color="#e4f5f0"/><stop offset="0.7773" stop-color="#feeda4"/><stop offset="0.7804" stop-color="#feeaa0"/><stop offset="0.7835" stop-color="#fff7b4"/><stop offset="0.7866" stop-color="#fff8b4"/><stop offset="0.7897" stop-color="#fff6b1"/><stop offset="0.7928" stop-color="#fff3ad"/><stop offset="0.7960" stop-color="#f7fccd"/><stop offset="0.7991" stop-color="#ffffbf"/><stop offset="0.8022" stop-color="#f5fbd2"/><stop offset="0.8053" stop-color="#fafdc9"/><stop offset="0.8084" stop-color="#fcfec4"/><stop offset="0.8115" stop-color="#eff9dc"/><stop offset="0.8146" stop-color="#ecf8e2"/><stop offset="0.8178" stop-color="#e9f7e7"/><stop offset="0.8209" stop-color="#f3fad4"/><stop offset="0.8240" stop-color="#a9cfe4"/><stop offset="0.8271" stop-color="#b8d9e9"/><stop offset="0.8302" stop-color="#bddceb"/><stop offset="0.8333" stop-color="#aed2e6"/><stop offset="0.8364" stop-color="#ecf8e2"/><stop offset="0.8396" stop-color="#ecf8e1"/><stop offset="0.8427" stop-color="#e4f5f0"/><stop offset="0.8458" stop-color="#e5f5f0"/><stop offset="0.8489" stop-color="#9dc7df"/><stop offset="0.8520" stop-color="#9ec8e0"/><stop offset="0.8551" stop-color="#a1c9e1"/><stop offset="0.8583" stop-color="#c4e0ee"/><stop offset="0.8614" stop-color="#daeff6"/><stop offset="0.8645" stop-color="#ddf1f7"/><stop offset="0.8676" stop-color="#c7e2ef"/><stop offset="0.8707" stop-color="#bbdbeb"/><stop offset="0.8738" stop-color="#d0e8f2"/><stop offset="0.8769" stop-color="#def2f7"/><stop offset="0.8801" stop-color="#e1f3f7"/><stop offset="0.8832" stop-color="#ecf7e3"/><stop offset="0.8863" stop-color="#e6f5ee"/><stop offset="0.8894" stop-color="#e8f6e9"/><stop offset="0.8925" stop-color="#eef8de"/><stop offset="0.8956" stop-color="#e0f3f7"/><stop offset="0.8988" stop-color="#e8f6ea"/><stop offset="0.9019" stop-color="#d9eef5"/><stop offset="0.9050" stop-color="#e9f6e8"/><stop offset="0.9081" stop-color="#ecf8e3"/><stop offset="0.9112" stop-color="#eef8df"/><stop offset="0.9143" stop-color="#f0f9da"/><stop offset="0.9174" stop-color="#dff2f8"/><stop offset="0.9206" stop-color="#cce6f1"/><stop offset="0.9237" stop-color="#d5ecf4"/><stop offset="0.9268" stop-color="#9cc6df"/><stop offset="0.9299" stop-color="#c5e1ee"/><stop offset="0.9330" stop-color="#afd3e6"/><stop offset="0.9361" stop-color="#e1f3f6"/><stop offset="0.9393" stop-color="#ebf7e4"/><stop offset="0.9424" stop-color="#e2f4f5"/><stop offset="0.9455" stop-color="#eef8de"/><stop offset="0.9486" stop-color="#e9f6e8"/><stop offset="0.9517" stop-color="#a7cde3"/><stop offset="0.9548" stop-color="#badaea"/><stop offset="0.9579" stop-color="#98c4de"/><stop offset="0.9611" stop-color="#91bfdb"/><stop offset="0.9642" stop-color="#edf8e1"/><stop offset="0.9673" stop-color="#f5fbd2"/><stop offset="0.9704" stop-color="#eff9dc"/><stop offset="0.9735" stop-color="#f0f9db"/><stop offset="0.9766" stop-color="#ebf7e4"/><stop offset="0.9798" stop-color="#dcf1f7"/><stop offset="0.9829" stop-color="#dbeff6"/><stop offset="0.9860" stop-color="#e3f4f3"/><stop offset="0.9891" stop-color="#c8e3ef"/><stop offset="0.9922" stop-color="#d8eef5"/><stop offset="0.9953" stop-color="#e9f6e8"/><stop offset="0.9984" stop-color="#ddf1f7"/></linearGradient><linearGradient id="R3" x1="0" y1="0" x2="0" y2="1"><stop offset="0.0016" stop-color="#fecf85"/><stop offset="0.0047" stop-color="#fdae6f"/><stop offset="0.0078" stop-color="#fdac6e"/><stop offset="0.0109" stop-color="#fdc37d"/><stop offset="0.0140" stop-color="#fdac6d"/><stop offset="0.0171" stop-color="#fee89d"/><stop offset="0.0202" stop-color="#fee395"/><stop offset="0.0234" stop-color="#fee598"/><stop offset="0.0265" stop-color="#fee496"/><stop offset="0.0296" stop-color="#fee293"/><stop offset="0.0327" stop-color="#feeba0"/><stop offset="0.0358" stop-color="#fff5af"/><stop offset="0.0389" stop-color="#fee89c"/><stop offset="0.0421" stop-color="#fee99e"/><stop offset="0.0452" stop-color="#fee597"/><stop offset="0.0483" stop-color="#fecd84"/><stop offset="0.0514" stop-color="#fee192"/><stop offset="0.0545" stop-color="#fee89b"/><stop offset="0.0576" stop-color="#fee89c"/><stop offset="0.0607" stop-color="#feeca2"/><stop offset="0.0639" stop-color="#fee293"/><stop offset="0.0670" stop-color="#feeca2"/><stop offset="0.0701" stop-color="#fff3ad"/><stop offset="0.0732" stop-color="#feeba1"/><stop offset="0.0763" stop-color="#feefa7"/><stop offset="0.0794" stop-color="#fff3ac"/><stop offset="0.0826" stop-color="#fff8b4"/><stop offset="0.0857" stop-color="#fee89d"/><stop offset="0.0888" stop-color="#fed78a"/><stop offset="0.0919" stop-color="#fecd84"/><stop offset="0.0950" stop-color="#fed085"/><stop offset="0.0981" stop-color="#fdb976"/><stop offset="0.1012" stop-color="#f5fbd2"/><stop offset="0.1044" stop-color="#fbfdc7"/><stop offset="0.1075" stop-color="#fffcbb"/><stop offset="0.1106" stop-color="#f9fdca"/><stop offset="0.1137" stop-color="#f8fccb"/><stop offset="0.1168" stop-color="#f6fbd0"/><stop offset="0.1199" stop-color="#f4fbd3"/><stop offset="0.1231" stop-color="#fffdbc"/><stop offset="0.1262" stop-color="#f8fccc"/><stop offset="0.1293" stop-color="#feffc0"/><stop offset="0.1324" stop-color="#f2fad7"/><stop offset="0.1355" stop-color="#fdfec4"/><stop offset="0.1386" stop-color="#fff9b6"/><stop offset="0.1417" stop-color="#feefa6"/><stop offset="0.1449" stop-color="#fffab7"/><stop offset="0.1480" stop-color="#fffcba"/><stop offset="0.1511" stop-color="#fffcba"/><stop offset="0.1542" stop-color="#fffbb9"/><stop offset="0.1573" stop-color="#fff0a8"/><stop offset="0.1604" stop-color="#fff0a9"/><stop offset="0.1636" stop-color="#fffbb9"/><stop offset="0.1667" stop-color="#fffdbc"/><stop offset="0.1698" stop-color="#fff9b6"/><stop offset="0.1729" stop-color="#fff0a9"/><stop offset="0.1760" stop-color="#fffbba"/><stop offset="0.1791" stop-color="#fffebd"/><stop offset="0.1822" stop-color="#fff7b4"/><stop offset="0.1854" stop-color="#e85b3e"/><stop offset="0.1885" stop-color="#e45139"/><stop offset="0.1916" stop-color="#e14935"/><stop offset="0.1947" stop-color="#e24a35"/><stop offset="0.1978" stop-color="#e04733"/><stop offset="0.2009" stop-color="#e6573c"/><stop offset="0.2040" stop-color="#ea6041"/><stop offset="0.2072" stop-color="#ef6c47"/><stop offset="0.2103" stop-color="#f77f52"/><stop offset="0.2134" stop-color="#fdb976"/><stop offset="0.2165" stop-color="#fecb82"/><stop offset="0.2196" stop-color="#fdb574"/><stop offset="0.2227" stop-color="#fdc67f"/><stop offset="0.2259" stop-color="#fee394"/><stop offset="0.2290" stop-color="#fdc67f"/><stop offset="0.2321" stop-color="#fecc83"/><stop offset="0.2352" stop-color="#fee496"/><stop offset="0.2383" stop-color="#fdb171"/><stop offset="0.2414" stop-color="#fda267"/><stop offset="0.2445" stop-color="#fc965f"/><stop offset="0.2477" stop-color="#fda86b"/><stop offset="0.2508" stop-color="#fee89c"/><stop offset="0.2539" stop-color="#feeca2"/><stop offset="0.2570" stop-color="#fee79a"/><stop offset="0.2601" stop-color="#fee192"/><stop offset="0.2632" stop-color="#fee191"/><stop offset="0.2664" stop-color="#fee89c"/><stop offset="0.2695" stop-color="#feeda4"/><stop offset="0.2726" stop-color="#feda8c"/><stop offset="0.2757" stop-color="#fdc37d"/><stop offset="0.2788" stop-color="#df4331"/><stop offset="0.2819" stop-color="#e85b3e"/><stop offset="0.2850" stop-color="#f98555"/><stop offset="0.2882" stop-color="#fc905b"/><stop offset="0.2913" stop-color="#f77f52"/><stop offset="0.2944" stop-color="#eb6242"/><stop offset="0.2975" stop-color="#ea5f40"/><stop offset="0.3006" stop-color="#f98454"/><stop offset="0.3037" stop-color="#eb6141"/><stop offset="0.3069" stop-color="#eb6242"/><stop offset="0.3100" stop-color="#f1714a"/><stop offset="0.3131" stop-color="#eb6141"/><stop offset="0.3162" stop-color="#f1714a"/><stop offset="0.3193" stop-color="#f1714a"/><stop offset="0.3224" stop-color="#fc925d"/><stop offset="0.3255" stop-color="#fee89c"/><stop offset="0.3287" stop-color="#fdc981"/><stop offset="0.3318" stop-color="#fed186"/><stop offset="0.3349" stop-color="#fdbf7a"/><stop offset="0.3380" stop-color="#fecf85"/><stop offset="0.3411" stop-color="#fed689"/><stop offset="0.3442" stop-color="#fee495"/><stop offset="0.3474" stop-color="#fdc57e"/><stop offset="0.3505" stop-color="#fed98b"/><stop offset="0.3536" stop-color="#fdc47e"/><stop offset="0.3567" stop-color="#fedd8e"/><stop offset="0.3598" stop-color="#fee191"/><stop offset="0.3629" stop-color="#fee69a"/><stop offset="0.3660" stop-color="#fed588"/><stop offset="0.3692" stop-color="#feffc1"/><stop offset="0.3723" stop-color="#fdfec3"/><stop offset="0.3754" stop-color="#fcfec4"/><stop offset="0.3785" stop-color="#f3fbd4"/><stop offset="0.3816" stop-color="#ffffc0"/><stop offset="0.3847" stop-color="#fffebe"/><stop offset="0.3879" stop-color="#fcfec5"/><stop offset="0.3910" stop-color="#fffdbc"/><stop offset="0.3941" stop-color="#fff8b5"/><stop offset="0.3972" stop-color="#fffebe"/><stop offset="0.4003" stop-color="#fffab8"/><stop offset="0.4034" stop-color="#fbfec6"/><stop offset="0.4065" stop-color="#f5fbd1"/><stop offset="0.4097" stop-color="#fece84"/><stop offset="0.4128" stop-color="#fdbe79"/><stop offset="0.4159" stop-color="#fda368"/><stop offset="0.4190" stop-color="#fdaf6f"/><stop offset="0.4221" stop-color="#fc9961"/><stop offset="0.4252" stop-color="#fc9860"/><stop offset="0.4283" stop-color="#fb8b58"/><stop offset="0.4315" stop-color="#fdad6e"/><stop offset="0.4346" stop-color="#fdc37d"/><stop offset="0.4377" stop-color="#fdc17b"/><stop offset="0.4408" stop-color="#fdbd79"/><stop offset="0.4439" stop-color="#fed589"/><stop offset="0.4470" stop-color="#fee293"/><stop offset="0.4502" stop-color="#fee293"/><stop offset="0.4533" stop-color="#fed88b"/><stop offset="0.4564" stop-color="#fee598"/><stop offset="0.4595" stop-color="#fee394"/><stop offset="0.4626" stop-color="#fee699"/><stop offset="0.4657" stop-color="#ebf7e3"/><stop offset="0.4688" stop-color="#e8f6e8"/><stop offset="0.4720" stop-color="#eaf7e6"/><stop offset="0.4751" stop-color="#e1f3f7"/><stop offset="0.4782" stop-color="#e3f4f2"/><stop offset="0.4813" stop-color="#f0f9db"/><stop offset="0.4844" stop-color="#f3fad5"/><stop offset="0.4875" stop-color="#f7fcce"/><stop offset="0.4907" stop-color="#e8f6ea"/><stop offset="0.4938" stop-color="#f0f9db"/><stop offset="0.4969" stop-color="#f3fad6"/><stop offset="0.5000" stop-color="#fdfec2"/><stop offset="0.5031" stop-color="#f8fccb"/><stop offset="0.5062" stop-color="#fffcba"/><stop offset="0.5093" stop-color="#fafdc8"/><stop offset="0.5125" stop-color="#fff2ab"/><stop offset="0.5156" stop-color="#feeca2"/><stop offset="0.5187" stop-color="#feeca2"/><stop offset="0.5218" stop-color="#feeea5"/><stop offset="0.5249" stop-color="#feefa6"/><stop offset="0.5280" stop-color="#fffbba"/><stop offset="0.5312" stop-color="#fff8b5"/><stop offset="0.5343" stop-color="#fffdbc"/><stop offset="0.5374" stop-color="#fff4ae"/><stop offset="0.5405" stop-color="#ffffbf"/><stop offset="0.5436" stop-color="#fafdc8"/><stop offset="0.5467" stop-color="#fafdc8"/><stop offset="0.5498" stop-color="#f1fad8"/><stop offset="0.5530" stop-color="#f8fccb"/><stop offset="0.5561" stop-color="#fbfec6"/><stop offset="0.5592" stop-color="#f8fccc"/><stop offset="0.5623" stop-color="#fafdc8"/><stop offset="0.5654" stop-color="#fcfec4"/><stop offset="0.5685" stop-color="#ffffbe"/><stop offset="0.5717" stop-color="#fffebd"/><stop offset="0.5748" stop-color="#fcfec4"/><stop offset="0.5779" stop-color="#fbfdc7"/><stop offset="0.5810" stop-color="#e4f5f0"/><stop offset="0.5841" stop-color="#cbe5f0"/><stop offset="0.5872" stop-color="#e4f4f1"/><stop offset="0.5903" stop-color="#cee7f1"/><stop offset="0.5935" stop-color="#c2e0ed"/><stop offset="0.5966" stop-color="#cbe5f0"/><stop offset="0.5997" stop-color="#e6f5ed"/><stop offset="0.6028" stop-color="#d6ecf4"/><stop offset="0.6059" stop-color="#bfdeec"/><stop offset="0.6090" stop-color="#dcf1f7"/><stop offset="0.6121" stop-color="#ddf1f7"/><stop offset="0.6153" stop-color="#c8e3ef"/><stop offset="0.6184" stop-color="#ecf8e1"/><stop offset="0.6215" stop-color="#ecf8e2"/><stop offset="0.6246" stop-color="#eef8df"/><stop offset="0.6277" stop-color="#e2f4f4"/><stop offset="0.6308" stop-color="#e7f6ea"/><stop offset="0.6340" stop-color="#daeff6"/><stop offset="0.6371" stop-color="#d9eef5"/><stop offset="0.6402" stop-color="#e4f5f1"/><stop offset="0.6433" stop-color="#f6fbd0"/><stop offset="0.6464" stop-color="#fbfdc7"/><stop offset="0.6495" stop-color="#edf8e1"/><stop offset="0.6526" stop-color="#f6fbd0"/><stop offset="0.6558" stop-color="#fafdc8"/><stop offset="0.6589" stop-color="#eaf7e5"/><stop offset="0.6620" stop-color="#7aa8cf"/><stop offset="0.6651" stop-color="#77a6ce"/><stop offset="0.6682" stop-color="#a2cae1"/><stop offset="0.6713" stop-color="#8ebcd9"/><stop offset="0.6745" stop-color="#94c1dc"/><stop offset="0.6776" stop-color="#9dc7e0"/><stop offset="0.6807" stop-color="#c4e1ee"/><stop offset="0.6838" stop-color="#bbdbea"/><stop offset="0.6869" stop-color="#c3e0ed"/><stop offset="0.6900" stop-color="#d5ecf4"/><stop offset="0.6931" stop-color="#bddceb"/><stop offset="0.6963" stop-color="#a6cde3"/><stop offset="0.6994" stop-color="#b2d5e7"/><stop offset="0.7025" stop-color="#d5ecf4"/><stop offset="0.7056" stop-color="#b2d4e7"/><stop offset="0.7087" stop-color="#8bb9d8"/><stop offset="0.7118" stop-color="#9dc7df"/><stop offset="0.7150" stop-color="#b0d3e6"/><stop offset="0.7181" stop-color="#b5d7e8"/><stop offset="0.7212" stop-color="#8bb9d8"/><stop offset="0.7243" stop-color="#75a4cd"/><stop offset="0.7274" stop-color="#82b1d4"/><stop offset="0.7305" stop-color="#c8e3ef"/><stop offset="0.7336" stop-color="#d8eef5"/><stop offset="0.7368" stop-color="#bddceb"/><stop offset="0.7399" stop-color="#d4ebf4"/><stop offset="0.7430" stop-color="#d8eef5"/><stop offset="0.7461" stop-color="#c4e0ee"/><stop offset="0.7492" stop-color="#f1fad9"/><stop offset="0.7523" stop-color="#ebf7e4"/><stop offset="0.7555" stop-color="#edf8e0"/><stop offset="0.7586" stop-color="#e8f6e9"/><stop offset="0.7617" stop-color="#e6f5ee"/><stop offset="0.7648" stop-color="#ecf7e3"/><stop offset="0.7679" stop-color="#f7fccf"/><stop offset="0.7710" stop-color="#e8f6e9"/><stop offset="0.7741" stop-color="#e1f3f6"/><stop offset="0.7773" stop-color="#e9f7e7"/><stop offset="0.7804" stop-color="#e3f4f2"/><stop offset="0.7835" stop-color="#e0f3f8"/><stop offset="0.7866" stop-color="#e8f6e9"/><stop offset="0.7897" stop-color="#e1f3f7"/><stop offset="0.7928" stop-color="#e6f5ee"/><stop offset="0.7960" stop-color="#def1f7"/><stop offset="0.7991" stop-color="#f7fccd"/><stop offset="0.8022" stop-color="#f0f9da"/><stop offset="0.8053" stop-color="#feffc1"/><stop offset="0.8084" stop-color="#fffab8"/><stop offset="0.8115" stop-color="#f8fccc"/><stop offset="0.8146" stop-color="#f9fdcb"/><stop offset="0.8178" stop-color="#eff9dc"/><stop offset="0.8209" stop-color="#f4fbd3"/><stop offset="0.8240" stop-color="#ffffc0"/><stop offset="0.8271" stop-color="#fff7b3"/><stop offset="0.8302" stop-color="#fffcba"/><stop offset="0.8333" stop-color="#fff7b4"/><stop offset="0.8364" stop-color="#fffebd"/><stop offset="0.8396" stop-color="#fff6b2"/><stop offset="0.8427" stop-color="#fbfdc6"/><stop offset="0.8458" stop-color="#f0f9db"/><stop offset="0.8489" stop-color="#b6d8e9"/><stop offset="0.8520" stop-color="#d9eff6"/><stop offset="0.8551" stop-color="#d7edf5"/><stop offset="0.8583" stop-color="#d8eef5"/><stop offset="0.8614" stop-color="#def2f7"/><stop offset="0.8645" stop-color="#ddf1f7"/><stop offset="0.8676" stop-color="#def2f7"/><stop offset="0.8707" stop-color="#c8e3ef"/><stop offset="0.8738" stop-color="#eaf7e6"/><stop offset="0.8769" stop-color="#f3fad5"/><stop offset="0.8801" stop-color="#eaf7e5"/><stop offset="0.8832" stop-color="#ecf8e2"/><stop offset="0.8863" stop-color="#fffcba"/><stop offset="0.8894" stop-color="#fff6b1"/><stop offset="0.8925" stop-color="#fff6b2"/><stop offset="0.8956" stop-color="#feeda4"/><stop offset="0.8988" stop-color="#fff5b1"/><stop offset="0.9019" stop-color="#fffdbc"/><stop offset="0.9050" stop-color="#e3f4f3"/><stop offset="0.9081" stop-color="#def2f7"/><stop offset="0.9112" stop-color="#e3f4f3"/><stop offset="0.9143" stop-color="#f1fad8"/><stop offset="0.9174" stop-color="#fcfec4"/><stop offset="0.9206" stop-color="#eef9dd"/><stop offset="0.9237" stop-color="#f9fdca"/><stop offset="0.9268" stop-color="#ecf8e2"/><stop offset="0.9299" stop-color="#f5fbd2"/><stop offset="0.9330" stop-color="#f1f9d9"/><stop offset="0.9361" stop-color="#e8f6e9"/><stop offset="0.9393" stop-color="#e8f6e9"/><stop offset="0.9424" stop-color="#f6fccf"/><stop offset="0.9455" stop-color="#f9fdca"/><stop offset="0.9486" stop-color="#f7fccd"/><stop offset="0.9517" stop-color="#fee69a"/><stop offset="0.9548" stop-color="#fee294"/><stop offset="0.9579" stop-color="#fee99d"/><stop offset="0.9611" stop-color="#fee495"/><stop offset="0.9642" stop-color="#fee293"/><stop offset="0.9673" stop-color="#fee597"/><stop offset="0.9704" stop-color="#fee99e"/><stop offset="0.9735" stop-color="#fee496"/><stop offset="0.9766" stop-color="#fff3ad"/><stop offset="0.9798" stop-color="#fff6b2"/><stop offset="0.9829" stop-color="#feeda4"/><stop offset="0.9860" stop-color="#feeba1"/><stop offset="0.9891" stop-color="#fff0a9"/><stop offset="0.9922" stop-color="#fff8b5"/><stop offset="0.9953" stop-color="#fff0a8"/><stop offset="0.9984" stop-color="#fff8b4"/></linearGradient><linearGradient id="R4" x1="0" y1="0" x2="0" y2="1"><stop offset="0.0016" stop-color="#f2fad6"/><stop offset="0.0047" stop-color="#eaf7e5"/><stop offset="0.0078" stop-color="#f1fad8"/><stop offset="0.0109" stop-color="#ebf7e4"/><stop offset="0.0140" stop-color="#eff9dc"/><stop offset="0.0171" stop-color="#eef9de"/><stop offset="0.0202" stop-color="#f6fbd0"/><stop offset="0.0234" stop-color="#eef8df"/><stop offset="0.0265" stop-color="#fcfec5"/><stop offset="0.0296" stop-color="#eff9dd"/><stop offset="0.0327" stop-color="#e8f6e9"/><stop offset="0.0358" stop-color="#f2fad6"/><stop offset="0.0389" stop-color="#feffc0"/><stop offset="0.0421" stop-color="#fffcbb"/><stop offset="0.0452" stop-color="#fffcba"/><stop offset="0.0483" stop-color="#f4fbd4"/><stop offset="0.0514" stop-color="#eef8df"/><stop offset="0.0545" stop-color="#edf8e1"/><stop offset="0.0576" stop-color="#ebf7e4"/><stop offset="0.0607" stop-color="#f9fdcb"/><stop offset="0.0639" stop-color="#fbfdc7"/><stop offset="0.0670" stop-color="#fdfec3"/><stop offset="0.0701" stop-color="#fdfec2"/><stop offset="0.0732" stop-color="#c3e0ee"/><stop offset="0.0763" stop-color="#edf8df"/><stop offset="0.0794" stop-color="#e1f3f7"/><stop offset="0.0826" stop-color="#e3f4f2"/><stop offset="0.0857" stop-color="#e9f6e8"/><stop offset="0.0888" stop-color="#d7edf5"/><stop offset="0.0919" stop-color="#eaf7e5"/><stop offset="0.0950" stop-color="#e9f6e8"/><stop offset="0.0981" stop-color="#e6f5ee"/><stop offset="0.1012" stop-color="#d0e8f2"/><stop offset="0.1044" stop-color="#e3f4f2"/><stop offset="0.1075" stop-color="#e0f3f8"/><stop offset="0.1106" stop-color="#d6edf4"/><stop offset="0.1137" stop-color="#f8fccb"/><stop offset="0.1168" stop-color="#ecf8e2"/><stop offset="0.1199" stop-color="#ecf8e2"/><stop offset="0.1231" stop-color="#f6fccf"/><stop offset="0.1262" stop-color="#fafdc9"/><stop offset="0.1293" stop-color="#fafdc8"/><stop offset="0.1324" stop-color="#fcfec5"/><stop offset="0.1355" stop-color="#edf8e0"/><stop offset="0.1386" stop-color="#fff6b1"/><stop offset="0.1417" stop-color="#fff7b3"/><stop offset="0.1449" stop-color="#feeda4"/><stop offset="0.1480" stop-color="#fee89d"/><stop offset="0.1511" stop-color="#fff3ad"/><stop offset="0.1542" stop-color="#feefa7"/><stop offset="0.1573" stop-color="#fff7b3"/><stop offset="0.1604" stop-color="#fffab8"/><stop offset="0.1636" stop-color="#feffc1"/><stop offset="0.1667" stop-color="#fffab7"/><stop offset="0.1698" stop-color="#fff9b6"/><stop offset="0.1729" stop-color="#f8fccb"/><stop offset="0.1760" stop-color="#eff9dc"/><stop offset="0.1791" stop-color="#feffc0"/><stop offset="0.1822" stop-color="#fdfec3"/><stop offset="0.1854" stop-color="#fdfec3"/><stop offset="0.1885" stop-color="#fffebe"/><stop offset="0.1916" stop-color="#fff8b4"/><stop offset="0.1947" stop-color="#fff9b6"/><stop offset="0.1978" stop-color="#f6fccf"/><stop offset="0.2009" stop-color="#f1fad9"/><stop offset="0.2040" stop-color="#f4fbd4"/><stop offset="0.2072" stop-color="#f6fbd0"/><stop offset="0.2103" stop-color="#f3fad4"/><stop offset="0.2134" stop-color="#fbfdc6"/><stop offset="0.2165" stop-color="#fffcbb"/><stop offset="0.2196" stop-color="#fff5b0"/><stop offset="0.2227" stop-color="#feefa7"/><stop offset="0.2259" stop-color="#fff2ac"/><stop offset="0.2290" stop-color="#fffbb9"/><stop offset="0.2321" stop-color="#fffdbc"/><stop offset="0.2352" stop-color="#fdfec3"/><stop offset="0.2383" stop-color="#fffab7"/><stop offset="0.2414" stop-color="#fff7b3"/><stop offset="0.2445" stop-color="#fbfec6"/><stop offset="0.2477" stop-color="#fafdc8"/><stop offset="0.2508" stop-color="#feea9e"/><stop offset="0.2539" stop-color="#fff3ad"/><stop offset="0.2570" stop-color="#feeba0"/><stop offset="0.2601" stop-color="#feeba0"/><stop offset="0.2632" stop-color="#fff3ad"/><stop offset="0.2664" stop-color="#fff3ad"/><stop offset="0.2695" stop-color="#ffffbf"/><stop offset="0.2726" stop-color="#f4fbd4"/><stop offset="0.2757" stop-color="#f6fcd0"/><stop offset="0.2788" stop-color="#fffbba"/><stop offset="0.2819" stop-color="#f9fdc9"/><stop offset="0.2850" stop-color="#fffebe"/><stop offset="0.2882" stop-color="#fbfdc7"/><stop offset="0.2913" stop-color="#fffab8"/><stop offset="0.2944" stop-color="#fff6b1"/><stop offset="0.2975" stop-color="#eaf7e5"/><stop offset="0.3006" stop-color="#d9eff6"/><stop offset="0.3037" stop-color="#e7f6eb"/><stop offset="0.3069" stop-color="#ddf1f7"/><stop offset="0.3100" stop-color="#e5f5ef"/><stop offset="0.3131" stop-color="#e5f5ef"/><stop offset="0.3162" stop-color="#e4f4f1"/><stop offset="0.3193" stop-color="#dcf0f6"/><stop offset="0.3224" stop-color="#e4f4f1"/><stop offset="0.3255" stop-color="#f9fdc9"/><stop offset="0.3287" stop-color="#fbfdc7"/><stop offset="0.3318" stop-color="#fafdc7"/><stop offset="0.3349" stop-color="#eef8df"/><stop offset="0.3380" stop-color="#e7f6eb"/><stop offset="0.3411" stop-color="#fff8b5"/><stop offset="0.3442" stop-color="#fffbb8"/><stop offset="0.3474" stop-color="#fff2ac"/><stop offset="0.3505" stop-color="#fff7b2"/><stop offset="0.3536" stop-color="#feefa6"/><stop offset="0.3567" stop-color="#feffc0"/><stop offset="0.3598" stop-color="#fff4ae"/><stop offset="0.3629" stop-color="#fffcbb"/><stop offset="0.3660" stop-color="#fff6b2"/><stop offset="0.3692" stop-color="#f5fbd2"/><stop offset="0.3723" stop-color="#f5fbd1"/><stop offset="0.3754" stop-color="#f1fad8"/><stop offset="0.3785" stop-color="#f7fcce"/><stop offset="0.3816" stop-color="#fbfec5"/><stop offset="0.3847" stop-color="#f3fad6"/><stop offset="0.3879" stop-color="#f6fccf"/><stop offset="0.3910" stop-color="#f4fbd3"/><stop offset="0.3941" stop-color="#f6fbd0"/><stop offset="0.3972" stop-color="#cae5f0"/><stop offset="0.4003" stop-color="#d0e9f2"/><stop offset="0.4034" stop-color="#b6d8e9"/><stop offset="0.4065" stop-color="#b7d8e9"/><stop offset="0.4097" stop-color="#98c3dd"/><stop offset="0.4128" stop-color="#7fadd2"/><stop offset="0.4159" stop-color="#90beda"/><stop offset="0.4190" stop-color="#8ab8d8"/><stop offset="0.4221" stop-color="#89b7d7"/><stop offset="0.4252" stop-color="#7cabd0"/><stop offset="0.4283" stop-color="#8fbdda"/><stop offset="0.4315" stop-color="#7aa8cf"/><stop offset="0.4346" stop-color="#79a8cf"/><stop offset="0.4377" stop-color="#6b9ac8"/><stop offset="0.4408" stop-color="#beddeb"/><stop offset="0.4439" stop-color="#aed2e6"/><stop offset="0.4470" stop-color="#c1dfed"/><stop offset="0.4502" stop-color="#c9e4f0"/><stop offset="0.4533" stop-color="#b7d8e9"/><stop offset="0.4564" stop-color="#add1e5"/><stop offset="0.4595" stop-color="#b8d9e9"/><stop offset="0.4626" stop-color="#dcf0f7"/><stop offset="0.4657" stop-color="#fee598"/><stop offset="0.4688" stop-color="#fee496"/><stop offset="0.4720" stop-color="#feeda3"/><stop offset="0.4751" stop-color="#fee496"/><stop offset="0.4782" stop-color="#feefa7"/><stop offset="0.4813" stop-color="#fee192"/><stop offset="0.4844" stop-color="#fee293"/><stop offset="0.4875" stop-color="#fee79a"/><stop offset="0.4907" stop-color="#fedd8e"/><stop offset="0.4938" stop-color="#feeaa0"/><stop offset="0.4969" stop-color="#feeca2"/><stop offset="0.5000" stop-color="#fff1aa"/><stop offset="0.5031" stop-color="#feeba1"/><stop offset="0.5062" stop-color="#fff5b0"/><stop offset="0.5093" stop-color="#fffcbb"/><stop offset="0.5125" stop-color="#feeba1"/><stop offset="0.5156" stop-color="#feeda3"/><stop offset="0.5187" stop-color="#fee496"/><stop offset="0.5218" stop-color="#fed98b"/><stop offset="0.5249" stop-color="#fecf85"/><stop offset="0.5280" stop-color="#feffc1"/><stop offset="0.5312" stop-color="#fffcba"/><stop offset="0.5343" stop-color="#ffffbf"/><stop offset="0.5374" stop-color="#f2fad7"/><stop offset="0.5405" stop-color="#fcfec5"/><stop offset="0.5436" stop-color="#ecf8e1"/><stop offset="0.5467" stop-color="#f0f9db"/><stop offset="0.5498" stop-color="#ebf7e4"/><stop offset="0.5530" stop-color="#f2fad8"/><stop offset="0.5561" stop-color="#f2fad6"/><stop offset="0.5592" stop-color="#f4fbd4"/><stop offset="0.5623" stop-color="#f9fdca"/><stop offset="0.5654" stop-color="#fff9b6"/><stop offset="0.5685" stop-color="#fffab7"/><stop offset="0.5717" stop-color="#fff1aa"/><stop offset="0.5748" stop-color="#fff8b5"/><stop offset="0.5779" stop-color="#fefec1"/><stop offset="0.5810" stop-color="#fffdbc"/><stop offset="0.5841" stop-color="#fffdbc"/><stop offset="0.5872" stop-color="#fffbb9"/><stop offset="0.5903" stop-color="#fffab7"/><stop offset="0.5935" stop-color="#fffdbc"/><stop offset="0.5966" stop-color="#fee69a"/><stop offset="0.5997" stop-color="#fed488"/><stop offset="0.6028" stop-color="#fed78a"/><stop offset="0.6059" stop-color="#fecc83"/><stop offset="0.6090" stop-color="#fee79a"/><stop offset="0.6121" stop-color="#fee394"/><stop offset="0.6153" stop-color="#feeba1"/><stop offset="0.6184" stop-color="#feeea5"/><stop offset="0.6215" stop-color="#fee597"/><stop offset="0.6246" stop-color="#fdb775"/><stop offset="0.6277" stop-color="#fdb574"/><stop offset="0.6308" stop-color="#fdc27c"/><stop offset="0.6340" stop-color="#fed689"/><stop offset="0.6371" stop-color="#fdb574"/><stop offset="0.6402" stop-color="#fdb574"/><stop offset="0.6433" stop-color="#fed88a"/><stop offset="0.6464" stop-color="#fdb473"/><stop offset="0.6495" stop-color="#fed589"/><stop offset="0.6526" stop-color="#fff5b0"/><stop offset="0.6558" stop-color="#fff1aa"/><stop offset="0.6589" stop-color="#fee395"/><stop offset="0.6620" stop-color="#feea9e"/><stop offset="0.6651" stop-color="#feeea6"/><stop offset="0.6682" stop-color="#fee79a"/><stop offset="0.6713" stop-color="#fee495"/><stop offset="0.6745" stop-color="#fa8756"/><stop offset="0.6776" stop-color="#fc9a62"/><stop offset="0.6807" stop-color="#fda76a"/><stop offset="0.6838" stop-color="#fda468"/><stop offset="0.6869" stop-color="#fdc17b"/><stop offset="0.6900" stop-color="#fdc37d"/><stop offset="0.6931" stop-color="#fda76a"/><stop offset="0.6963" stop-color="#fee89d"/><stop offset="0.6994" stop-color="#fed98c"/><stop offset="0.7025" stop-color="#fee495"/><stop offset="0.7056" stop-color="#feea9f"/><stop offset="0.7087" stop-color="#feeba1"/><stop offset="0.7118" stop-color="#feeda3"/><stop offset="0.7150" stop-color="#fee090"/><stop offset="0.7181" stop-color="#fecb82"/><stop offset="0.7212" stop-color="#fdb171"/><stop offset="0.7243" stop-color="#fdc57e"/><stop offset="0.7274" stop-color="#fc905b"/><stop offset="0.7305" stop-color="#f78052"/><stop offset="0.7336" stop-color="#fc945e"/><stop offset="0.7368" stop-color="#fc9f65"/><stop offset="0.7399" stop-color="#fb8b58"/><stop offset="0.7430" stop-color="#fda76a"/><stop offset="0.7461" stop-color="#f88454"/><stop offset="0.7492" stop-color="#fdb976"/><stop offset="0.7523" stop-color="#fdbf7a"/><stop offset="0.7555" stop-color="#f1714a"/><stop offset="0.7586" stop-color="#f78052"/><stop offset="0.7617" stop-color="#fc8d59"/><stop offset="0.7648" stop-color="#e95c3f"/><stop offset="0.7679" stop-color="#eb6242"/><stop offset="0.7710" stop-color="#e95e40"/><stop offset="0.7741" stop-color="#de4331"/><stop offset="0.7773" stop-color="#e04633"/><stop offset="0.7804" stop-color="#fdb372"/><stop offset="0.7835" stop-color="#fdb272"/><stop offset="0.7866" stop-color="#fda468"/><stop offset="0.7897" stop-color="#fdc880"/><stop offset="0.7928" stop-color="#fee597"/><stop offset="0.7960" stop-color="#fee293"/><stop offset="0.7991" stop-color="#feeba0"/><stop offset="0.8022" stop-color="#fff4af"/><stop offset="0.8053" stop-color="#fff1aa"/><stop offset="0.8084" stop-color="#fee497"/><stop offset="0.8115" stop-color="#feeca2"/><stop offset="0.8146" stop-color="#fedf8f"/><stop offset="0.8178" stop-color="#fed387"/><stop offset="0.8209" stop-color="#d73027"/><stop offset="0.8240" stop-color="#df4331"/><stop offset="0.8271" stop-color="#ec6443"/><stop offset="0.8302" stop-color="#dd3f2f"/><stop offset="0.8333" stop-color="#ef6d48"/><stop offset="0.8364" stop-color="#e45138"/><stop offset="0.8396" stop-color="#dd3e2e"/><stop offset="0.8427" stop-color="#e14a35"/><stop offset="0.8458" stop-color="#dc3c2d"/><stop offset="0.8489" stop-color="#de4231"/><stop offset="0.8520" stop-color="#e55239"/><stop offset="0.8551" stop-color="#df4432"/><stop offset="0.8583" stop-color="#e14834"/><stop offset="0.8614" stop-color="#d9352a"/><stop offset="0.8645" stop-color="#de4331"/><stop offset="0.8676" stop-color="#e45239"/><stop offset="0.8707" stop-color="#db3b2d"/><stop offset="0.8738" stop-color="#dc3d2e"/><stop offset="0.8769" stop-color="#ea6041"/><stop offset="0.8801" stop-color="#e85b3e"/><stop offset="0.8832" stop-color="#fdb070"/><stop offset="0.8863" stop-color="#fdb674"/><stop offset="0.8894" stop-color="#fdbb77"/><stop offset="0.8925" stop-color="#fdab6d"/><stop offset="0.8956" stop-color="#fdad6f"/><stop offset="0.8988" stop-color="#feeea5"/><stop offset="0.9019" stop-color="#fee395"/><stop offset="0.9050" stop-color="#fee192"/><stop offset="0.9081" stop-color="#feeda4"/><stop offset="0.9112" stop-color="#fee496"/><stop offset="0.9143" stop-color="#fee090"/><stop offset="0.9174" stop-color="#feeba1"/><stop offset="0.9206" stop-color="#fee79b"/><stop offset="0.9237" stop-color="#fff2ab"/><stop offset="0.9268" stop-color="#fee89c"/><stop offset="0.9299" stop-color="#f98655"/><stop offset="0.9330" stop-color="#f88354"/><stop offset="0.9361" stop-color="#f2744b"/><stop offset="0.9393" stop-color="#e95e40"/><stop offset="0.9424" stop-color="#f98555"/><stop offset="0.9455" stop-color="#fc9760"/><stop offset="0.9486" stop-color="#f47a4f"/><stop offset="0.9517" stop-color="#ec6544"/><stop offset="0.9548" stop-color="#f67d50"/><stop offset="0.9579" stop-color="#f78052"/><stop offset="0.9611" stop-color="#fdb171"/><stop offset="0.9642" stop-color="#fdbd79"/><stop offset="0.9673" stop-color="#fda669"/><stop offset="0.9704" stop-color="#fee293"/><stop offset="0.9735" stop-color="#fee598"/><stop offset="0.9766" stop-color="#fee395"/><stop offset="0.9798" stop-color="#fdc981"/><stop offset="0.9829" stop-color="#fdbe7a"/><stop offset="0.9860" stop-color="#fdc880"/><stop offset="0.9891" stop-color="#fee293"/><stop offset="0.9922" stop-color="#fdc880"/><stop offset="0.9953" stop-color="#fed588"/><stop offset="0.9984" stop-color="#fece84"/></linearGradient><linearGradient id="R5" x1="0" y1="0" x2="0" y2="1"><stop offset="0.0016" stop-color="#a3cbe2"/><stop offset="0.0047" stop-color="#b2d4e7"/><stop offset="0.0078" stop-color="#aed2e6"/><stop offset="0.0109" stop-color="#aad0e4"/><stop offset="0.0140" stop-color="#bbdbea"/><stop offset="0.0171" stop-color="#a1cae1"/><stop offset="0.0202" stop-color="#d7edf5"/><stop offset="0.0234" stop-color="#cce6f1"/><stop offset="0.0265" stop-color="#aed2e6"/><stop offset="0.0296" stop-color="#c4e0ee"/><stop offset="0.0327" stop-color="#b2d5e7"/><stop offset="0.0358" stop-color="#d3eaf3"/><stop offset="0.0389" stop-color="#d3ebf3"/><stop offset="0.0421" stop-color="#d0e8f2"/><stop offset="0.0452" stop-color="#e5f5ee"/><stop offset="0.0483" stop-color="#d8edf5"/><stop offset="0.0514" stop-color="#e7f6ec"/><stop offset="0.0545" stop-color="#c7e3ef"/><stop offset="0.0576" stop-color="#c3e0ed"/><stop offset="0.0607" stop-color="#a4cce2"/><stop offset="0.0639" stop-color="#99c4de"/><stop offset="0.0670" stop-color="#96c3dd"/><stop offset="0.0701" stop-color="#acd1e5"/><stop offset="0.0732" stop-color="#c1dfed"/><stop offset="0.0763" stop-color="#d9eff6"/><stop offset="0.0794" stop-color="#c7e2ef"/><stop offset="0.0826" stop-color="#d2eaf3"/><stop offset="0.0857" stop-color="#d0e9f2"/><stop offset="0.0888" stop-color="#d9eef5"/><stop offset="0.0919" stop-color="#b2d5e7"/><stop offset="0.0950" stop-color="#a3cbe2"/><stop offset="0.0981" stop-color="#91bfdb"/><stop offset="0.1012" stop-color="#8fbdda"/><stop offset="0.1044" stop-color="#e1f3f6"/><stop offset="0.1075" stop-color="#eaf7e6"/><stop offset="0.1106" stop-color="#eef8df"/><stop offset="0.1137" stop-color="#e0f3f7"/><stop offset="0.1168" stop-color="#c5e1ee"/><stop offset="0.1199" stop-color="#e3f4f3"/><stop offset="0.1231" stop-color="#cee7f1"/><stop offset="0.1262" stop-color="#dcf1f7"/><stop offset="0.1293" stop-color="#b9d9ea"/><stop offset="0.1324" stop-color="#c2dfed"/><stop offset="0.1355" stop-color="#d3eaf3"/><stop offset="0.1386" stop-color="#e3f4f2"/><stop offset="0.1417" stop-color="#d1e9f3"/><stop offset="0.1449" stop-color="#c9e4f0"/><stop offset="0.1480" stop-color="#dbf0f6"/><stop offset="0.1511" stop-color="#d4ebf4"/><stop offset="0.1542" stop-color="#7eadd1"/><stop offset="0.1573" stop-color="#7eacd1"/><stop offset="0.1604" stop-color="#78a7ce"/><stop offset="0.1636" stop-color="#92c0db"/><stop offset="0.1667" stop-color="#99c4de"/><stop offset="0.1698" stop-color="#7dacd1"/><stop offset="0.1729" stop-color="#86b4d5"/><stop offset="0.1760" stop-color="#9ac5de"/><stop offset="0.1791" stop-color="#a8cee3"/><stop offset="0.1822" stop-color="#a8cee3"/><stop offset="0.1854" stop-color="#a0c9e1"/><stop offset="0.1885" stop-color="#97c3dd"/><stop offset="0.1916" stop-color="#e8f6ea"/><stop offset="0.1947" stop-color="#e1f3f6"/><stop offset="0.1978" stop-color="#cfe8f2"/><stop offset="0.2009" stop-color="#c7e3ef"/><stop offset="0.2040" stop-color="#c7e3ef"/><stop offset="0.2072" stop-color="#c9e4f0"/><stop offset="0.2103" stop-color="#c3e0ed"/><stop offset="0.2134" stop-color="#c5e2ee"/><stop offset="0.2165" stop-color="#eaf7e5"/><stop offset="0.2196" stop-color="#e0f3f8"/><stop offset="0.2227" stop-color="#d2eaf3"/><stop offset="0.2259" stop-color="#d0e9f2"/><stop offset="0.2290" stop-color="#cce6f1"/><stop offset="0.2321" stop-color="#eaf7e6"/><stop offset="0.2352" stop-color="#eff9dc"/><stop offset="0.2383" stop-color="#c5e1ee"/><stop offset="0.2414" stop-color="#9ac5de"/><stop offset="0.2445" stop-color="#aacfe4"/><stop offset="0.2477" stop-color="#b5d7e8"/><stop offset="0.2508" stop-color="#afd3e6"/><stop offset="0.2539" stop-color="#a6cde3"/><stop offset="0.2570" stop-color="#b0d3e6"/><stop offset="0.2601" stop-color="#afd2e6"/><stop offset="0.2632" stop-color="#aed2e6"/><stop offset="0.2664" stop-color="#b5d7e8"/><stop offset="0.2695" stop-color="#c7e2ef"/><stop offset="0.2726" stop-color="#cfe8f2"/><stop offset="0.2757" stop-color="#d9eef5"/><stop offset="0.2788" stop-color="#f0f9da"/><stop offset="0.2819" stop-color="#e3f4f3"/><stop offset="0.2850" stop-color="#e6f5ee"/><stop offset="0.2882" stop-color="#ddf1f7"/><stop offset="0.2913" stop-color="#e2f4f4"/><stop offset="0.2944" stop-color="#dff2f8"/><stop offset="0.2975" stop-color="#ebf7e4"/><stop offset="0.3006" stop-color="#ebf7e4"/><stop offset="0.3037" stop-color="#e9f6e8"/><stop offset="0.3069" stop-color="#e4f4f1"/><stop offset="0.3100" stop-color="#e6f5ed"/><stop offset="0.3131" stop-color="#e9f6e8"/><stop offset="0.3162" stop-color="#e0f3f8"/><stop offset="0.3193" stop-color="#eef8de"/><stop offset="0.3224" stop-color="#ebf7e4"/><stop offset="0.3255" stop-color="#e3f4f2"/><stop offset="0.3287" stop-color="#edf8e0"/><stop offset="0.3318" stop-color="#e0f3f7"/><stop offset="0.3349" stop-color="#e9f6e8"/><stop offset="0.3380" stop-color="#e5f5ee"/><stop offset="0.3411" stop-color="#c3e0ed"/><stop offset="0.3442" stop-color="#9fc8e0"/><stop offset="0.3474" stop-color="#bddceb"/><stop offset="0.3505" stop-color="#bcdbeb"/><stop offset="0.3536" stop-color="#c0deec"/><stop offset="0.3567" stop-color="#b2d5e7"/><stop offset="0.3598" stop-color="#a5cce3"/><stop offset="0.3629" stop-color="#afd2e6"/><stop offset="0.3660" stop-color="#e8f6e9"/><stop offset="0.3692" stop-color="#f3fad5"/><stop offset="0.3723" stop-color="#f0f9da"/><stop offset="0.3754" stop-color="#f4fbd3"/><stop offset="0.3785" stop-color="#f6fbd0"/><stop offset="0.3816" stop-color="#ebf7e5"/><stop offset="0.3847" stop-color="#ebf7e4"/><stop offset="0.3879" stop-color="#e2f4f4"/><stop offset="0.3910" stop-color="#dcf0f7"/><stop offset="0.3941" stop-color="#e0f3f7"/><stop offset="0.3972" stop-color="#f3fbd4"/><stop offset="0.4003" stop-color="#f1fad8"/><stop offset="0.4034" stop-color="#eff9dd"/><stop offset="0.4065" stop-color="#f5fbd2"/><stop offset="0.4097" stop-color="#edf8e1"/><stop offset="0.4128" stop-color="#e6f5ed"/><stop offset="0.4159" stop-color="#e2f4f4"/><stop offset="0.4190" stop-color="#e2f4f5"/><stop offset="0.4221" stop-color="#e5f5f0"/><stop offset="0.4252" stop-color="#e3f4f3"/><stop offset="0.4283" stop-color="#e8f6ea"/><stop offset="0.4315" stop-color="#e7f6ea"/><stop offset="0.4346" stop-color="#f4fbd4"/><stop offset="0.4377" stop-color="#f2fad7"/><stop offset="0.4408" stop-color="#f8fccb"/><stop offset="0.4439" stop-color="#f5fbd1"/><stop offset="0.4470" stop-color="#f3fad5"/><stop offset="0.4502" stop-color="#fcfec5"/><stop offset="0.4533" stop-color="#ecf7e3"/><stop offset="0.4564" stop-color="#f7fcce"/><stop offset="0.4595" stop-color="#fbfec6"/><stop offset="0.4626" stop-color="#ebf7e3"/><stop offset="0.4657" stop-color="#fc9861"/><stop offset="0.4688" stop-color="#fc915c"/><stop offset="0.4720" stop-color="#fc925c"/><stop offset="0.4751" stop-color="#f47a4f"/><stop offset="0.4782" stop-color="#f88354"/><stop offset="0.4813" stop-color="#fdaf6f"/><stop offset="0.4844" stop-color="#fdb272"/><stop offset="0.4875" stop-color="#fdbd79"/><stop offset="0.4907" stop-color="#fdc981"/><stop offset="0.4938" stop-color="#fdb674"/><stop offset="0.4969" stop-color="#fdc981"/><stop offset="0.5000" stop-color="#fdc07b"/><stop offset="0.5031" stop-color="#fecd83"/><stop offset="0.5062" stop-color="#fdb876"/><stop offset="0.5093" stop-color="#fdc67f"/><stop offset="0.5125" stop-color="#fecc83"/><stop offset="0.5156" stop-color="#fdbd79"/><stop offset="0.5187" stop-color="#fdb876"/><stop offset="0.5218" stop-color="#fede8f"/><stop offset="0.5249" stop-color="#fed287"/><stop offset="0.5280" stop-color="#fdab6d"/><stop offset="0.5312" stop-color="#fda569"/><stop offset="0.5343" stop-color="#fda96c"/><stop offset="0.5374" stop-color="#fc945e"/><stop offset="0.5405" stop-color="#fc915c"/><stop offset="0.5436" stop-color="#fc8f5a"/><stop offset="0.5467" stop-color="#fdb574"/><stop offset="0.5498" stop-color="#fc915b"/><stop offset="0.5530" stop-color="#fc9b62"/><stop offset="0.5561" stop-color="#f1714a"/><stop offset="0.5592" stop-color="#f3774d"/><stop offset="0.5623" stop-color="#fc9860"/><stop offset="0.5654" stop-color="#f78052"/><stop offset="0.5685" stop-color="#fca066"/><stop offset="0.5717" stop-color="#fc9860"/><stop offset="0.5748" stop-color="#fda267"/><stop offset="0.5779" stop-color="#fda86b"/><stop offset="0.5810" stop-color="#fb8a57"/><stop offset="0.5841" stop-color="#ee6945"/><stop offset="0.5872" stop-color="#fdb976"/><stop offset="0.5903" stop-color="#fdc77f"/><stop offset="0.5935" stop-color="#fca166"/><stop offset="0.5966" stop-color="#fc925c"/><stop offset="0.5997" stop-color="#fc915b"/><stop offset="0.6028" stop-color="#fc935d"/><stop offset="0.6059" stop-color="#fdb775"/><stop offset="0.6090" stop-color="#fed186"/><stop offset="0.6121" stop-color="#fff0a8"/><stop offset="0.6153" stop-color="#fee89c"/><stop offset="0.6184" stop-color="#fff0a8"/><stop offset="0.6215" stop-color="#fee598"/><stop offset="0.6246" stop-color="#feeea6"/><stop offset="0.6277" stop-color="#fedb8c"/><stop offset="0.6308" stop-color="#fed387"/><stop offset="0.6340" stop-color="#fdc47d"/><stop offset="0.6371" stop-color="#fed488"/><stop offset="0.6402" stop-color="#fdc880"/><stop offset="0.6433" stop-color="#fdbb77"/><stop offset="0.6464" stop-color="#fdc27c"/><stop offset="0.6495" stop-color="#fed287"/><stop offset="0.6526" stop-color="#fc925c"/><stop offset="0.6558" stop-color="#f98555"/><stop offset="0.6589" stop-color="#fdac6d"/><stop offset="0.6620" stop-color="#fc9c63"/><stop offset="0.6651" stop-color="#fdb372"/><stop offset="0.6682" stop-color="#feeba1"/><stop offset="0.6713" stop-color="#fff4ae"/><stop offset="0.6745" stop-color="#fee69a"/><stop offset="0.6776" stop-color="#fee99d"/><stop offset="0.6807" stop-color="#fee699"/><stop offset="0.6838" stop-color="#fee496"/><stop offset="0.6869" stop-color="#fee79a"/><stop offset="0.6900" stop-color="#feeaa0"/><stop offset="0.6931" stop-color="#fee192"/><stop offset="0.6963" stop-color="#fee99d"/><stop offset="0.6994" stop-color="#fee99d"/><stop offset="0.7025" stop-color="#fee99d"/><stop offset="0.7056" stop-color="#feeea6"/><stop offset="0.7087" stop-color="#fee191"/><stop offset="0.7118" stop-color="#fda669"/><stop offset="0.7150" stop-color="#fc9b62"/><stop offset="0.7181" stop-color="#fdbc78"/><stop offset="0.7212" stop-color="#fdb272"/><stop offset="0.7243" stop-color="#fda468"/><stop offset="0.7274" stop-color="#fee496"/><stop offset="0.7305" stop-color="#fedb8d"/><stop offset="0.7336" stop-color="#feea9f"/><stop offset="0.7368" stop-color="#fee496"/><stop offset="0.7399" stop-color="#feeca2"/><stop offset="0.7430" stop-color="#fee89c"/><stop offset="0.7461" stop-color="#fff1aa"/><stop offset="0.7492" stop-color="#fff8b5"/><stop offset="0.7523" stop-color="#fff1aa"/><stop offset="0.7555" stop-color="#fee99d"/><stop offset="0.7586" stop-color="#fff0a8"/><stop offset="0.7617" stop-color="#fee99d"/><stop offset="0.7648" stop-color="#fff2ac"/><stop offset="0.7679" stop-color="#fee597"/><stop offset="0.7710" stop-color="#feeca2"/><stop offset="0.7741" stop-color="#feea9f"/><stop offset="0.7773" stop-color="#fff1aa"/><stop offset="0.7804" stop-color="#fedb8c"/><stop offset="0.7835" stop-color="#fee89c"/><stop offset="0.7866" stop-color="#fed287"/><stop offset="0.7897" stop-color="#fee293"/><stop offset="0.7928" stop-color="#fed98b"/><stop offset="0.7960" stop-color="#fc955f"/><stop offset="0.7991" stop-color="#f78153"/><stop offset="0.8022" stop-color="#f47a4f"/><stop offset="0.8053" stop-color="#f2744b"/><stop offset="0.8084" stop-color="#fdad6e"/><stop offset="0.8115" stop-color="#fed589"/><stop offset="0.8146" stop-color="#fee395"/><stop offset="0.8178" stop-color="#fee394"/><stop offset="0.8209" stop-color="#fee496"/><stop offset="0.8240" stop-color="#f9fdc9"/><stop offset="0.8271" stop-color="#f7fcce"/><stop offset="0.8302" stop-color="#f9fdcb"/><stop offset="0.8333" stop-color="#feffc0"/><stop offset="0.8364" stop-color="#fffebe"/><stop offset="0.8396" stop-color="#fff1aa"/><stop offset="0.8427" stop-color="#feeba0"/><stop offset="0.8458" stop-color="#feeca3"/><stop offset="0.8489" stop-color="#fff5af"/><stop offset="0.8520" stop-color="#feeaa0"/><stop offset="0.8551" stop-color="#fff1aa"/><stop offset="0.8583" stop-color="#fee99e"/><stop offset="0.8614" stop-color="#fff4af"/><stop offset="0.8645" stop-color="#fff8b5"/><stop offset="0.8676" stop-color="#fff2ab"/><stop offset="0.8707" stop-color="#fff6b1"/><stop offset="0.8738" stop-color="#fff4ae"/><stop offset="0.8769" stop-color="#feea9f"/><stop offset="0.8801" stop-color="#fee89c"/><stop offset="0.8832" stop-color="#fdfec2"/><stop offset="0.8863" stop-color="#ffffc0"/><stop offset="0.8894" stop-color="#fffcba"/><stop offset="0.8925" stop-color="#fed689"/><stop offset="0.8956" stop-color="#fdc780"/><stop offset="0.8988" stop-color="#fdbf7a"/><stop offset="0.9019" stop-color="#fdcb82"/><stop offset="0.9050" stop-color="#fdb372"/><stop offset="0.9081" stop-color="#feda8c"/><stop offset="0.9112" stop-color="#fdc07b"/><stop offset="0.9143" stop-color="#fee192"/><stop offset="0.9174" stop-color="#fed98b"/><stop offset="0.9206" stop-color="#fee192"/><stop offset="0.9237" stop-color="#feefa7"/><stop offset="0.9268" stop-color="#fff0a8"/><stop offset="0.9299" stop-color="#fff4af"/><stop offset="0.9330" stop-color="#fee495"/><stop offset="0.9361" stop-color="#fee597"/><stop offset="0.9393" stop-color="#fee293"/><stop offset="0.9424" stop-color="#fff0a8"/><stop offset="0.9455" stop-color="#fee597"/><stop offset="0.9486" stop-color="#fee496"/><stop offset="0.9517" stop-color="#feeaa0"/><stop offset="0.9548" stop-color="#fed689"/><stop offset="0.9579" stop-color="#fee79a"/><stop offset="0.9611" stop-color="#fee89d"/><stop offset="0.9642" stop-color="#fed78a"/><stop offset="0.9673" stop-color="#fecc83"/><stop offset="0.9704" stop-color="#fed98b"/><stop offset="0.9735" stop-color="#fdc17c"/><stop offset="0.9766" stop-color="#fee090"/><stop offset="0.9798" stop-color="#fee699"/><stop offset="0.9829" stop-color="#fedd8e"/><stop offset="0.9860" stop-color="#fed085"/><stop offset="0.9891" stop-color="#fdc37d"/><stop offset="0.9922" stop-color="#fee191"/><stop offset="0.9953" stop-color="#fdbb77"/><stop offset="0.9984" stop-color="#fdab6d"/></linearGradient><linearGradient id="R6" x1="0" y1="0" x2="0" y2="1"><stop offset="0.0016" stop-color="#e3f4f3"/><stop offset="0.0047" stop-color="#e4f5f1"/><stop offset="0.0078" stop-color="#eef8de"/><stop offset="0.0109" stop-color="#f6fbd0"/><stop offset="0.0140" stop-color="#c5e1ee"/><stop offset="0.0171" stop-color="#cfe8f2"/><stop offset="0.0202" stop-color="#a8cee3"/><stop offset="0.0234" stop-color="#99c4de"/><stop offset="0.0265" stop-color="#b8d8e9"/><stop offset="0.0296" stop-color="#c2e0ed"/><stop offset="0.0327" stop-color="#aed2e6"/><stop offset="0.0358" stop-color="#c3e0ed"/><stop offset="0.0389" stop-color="#b3d5e7"/><stop offset="0.0421" stop-color="#c1dfed"/><stop offset="0.0452" stop-color="#c7e3ef"/><stop offset="0.0483" stop-color="#b6d8e9"/><stop offset="0.0514" stop-color="#b5d7e8"/><stop offset="0.0545" stop-color="#c3e0ed"/><stop offset="0.0576" stop-color="#b7d8e9"/><stop offset="0.0607" stop-color="#a8cee4"/><stop offset="0.0639" stop-color="#c5e1ee"/><stop offset="0.0670" stop-color="#b2d5e7"/><stop offset="0.0701" stop-color="#a7cde3"/><stop offset="0.0732" stop-color="#95c1dc"/><stop offset="0.0763" stop-color="#bcdbeb"/><stop offset="0.0794" stop-color="#c1dfed"/><stop offset="0.0826" stop-color="#c2dfed"/><stop offset="0.0857" stop-color="#badaea"/><stop offset="0.0888" stop-color="#a3cbe2"/><stop offset="0.0919" stop-color="#b2d4e7"/><stop offset="0.0950" stop-color="#c6e2ee"/><stop offset="0.0981" stop-color="#dff2f8"/><stop offset="0.1012" stop-color="#e8f6e9"/><stop offset="0.1044" stop-color="#cde7f1"/><stop offset="0.1075" stop-color="#b8d9e9"/><stop offset="0.1106" stop-color="#add2e5"/><stop offset="0.1137" stop-color="#add1e5"/><stop offset="0.1168" stop-color="#cfe8f2"/><stop offset="0.1199" stop-color="#b8d8e9"/><stop offset="0.1231" stop-color="#c6e2ee"/><stop offset="0.1262" stop-color="#b4d6e8"/><stop offset="0.1293" stop-color="#a0c9e0"/><stop offset="0.1324" stop-color="#bddceb"/><stop offset="0.1355" stop-color="#d3eaf3"/><stop offset="0.1386" stop-color="#acd1e5"/><stop offset="0.1417" stop-color="#95c2dc"/><stop offset="0.1449" stop-color="#5f8ec1"/><stop offset="0.1480" stop-color="#6695c5"/><stop offset="0.1511" stop-color="#7cabd0"/><stop offset="0.1542" stop-color="#c4e1ee"/><stop offset="0.1573" stop-color="#b0d4e7"/><stop offset="0.1604" stop-color="#a4cbe2"/><stop offset="0.1636" stop-color="#b2d5e7"/><stop offset="0.1667" stop-color="#d2eaf3"/><stop offset="0.1698" stop-color="#e1f3f6"/><stop offset="0.1729" stop-color="#b6d8e9"/><stop offset="0.1760" stop-color="#a3cbe2"/><stop offset="0.1791" stop-color="#95c2dd"/><stop offset="0.1822" stop-color="#abd0e5"/><stop offset="0.1854" stop-color="#b1d4e7"/><stop offset="0.1885" stop-color="#c4e1ee"/><stop offset="0.1916" stop-color="#b6d8e9"/><stop offset="0.1947" stop-color="#cde6f1"/><stop offset="0.1978" stop-color="#99c4de"/><stop offset="0.2009" stop-color="#81b0d3"/><stop offset="0.2040" stop-color="#9ac5de"/><stop offset="0.2072" stop-color="#93c0dc"/><stop offset="0.2103" stop-color="#6f9eca"/><stop offset="0.2134" stop-color="#86b4d5"/><stop offset="0.2165" stop-color="#8cbad9"/><stop offset="0.2196" stop-color="#93c0dc"/><stop offset="0.2227" stop-color="#8ebcda"/><stop offset="0.2259" stop-color="#b1d4e7"/><stop offset="0.2290" stop-color="#bedceb"/><stop offset="0.2321" stop-color="#bfddec"/><stop offset="0.2352" stop-color="#9dc7e0"/><stop offset="0.2383" stop-color="#a3cbe1"/><stop offset="0.2414" stop-color="#a7cee3"/><stop offset="0.2445" stop-color="#9fc8e0"/><stop offset="0.2477" stop-color="#b1d4e7"/><stop offset="0.2508" stop-color="#b6d8e9"/><stop offset="0.2539" stop-color="#d6ecf4"/><stop offset="0.2570" stop-color="#d5ecf4"/><stop offset="0.2601" stop-color="#bbdbeb"/><stop offset="0.2632" stop-color="#b7d8e9"/><stop offset="0.2664" stop-color="#acd1e5"/><stop offset="0.2695" stop-color="#b8d9e9"/><stop offset="0.2726" stop-color="#b9d9ea"/><stop offset="0.2757" stop-color="#b0d3e6"/><stop offset="0.2788" stop-color="#aed2e5"/><stop offset="0.2819" stop-color="#afd3e6"/><stop offset="0.2850" stop-color="#d5ecf4"/><stop offset="0.2882" stop-color="#b9d9ea"/><stop offset="0.2913" stop-color="#d9eef5"/><stop offset="0.2944" stop-color="#c1deec"/><stop offset="0.2975" stop-color="#cde6f1"/><stop offset="0.3006" stop-color="#badaea"/><stop offset="0.3037" stop-color="#cbe5f0"/><stop offset="0.3069" stop-color="#e3f4f3"/><stop offset="0.3100" stop-color="#e3f4f3"/><stop offset="0.3131" stop-color="#c2e0ed"/><stop offset="0.3162" stop-color="#cde6f1"/><stop offset="0.3193" stop-color="#bcdbeb"/><stop offset="0.3224" stop-color="#b3d5e7"/><stop offset="0.3255" stop-color="#a6cde3"/><stop offset="0.3287" stop-color="#c1dfed"/><stop offset="0.3318" stop-color="#b6d7e8"/><stop offset="0.3349" stop-color="#d2eaf3"/><stop offset="0.3380" stop-color="#cde6f1"/><stop offset="0.3411" stop-color="#b9daea"/><stop offset="0.3442" stop-color="#a8cee3"/><stop offset="0.3474" stop-color="#cbe5f0"/><stop offset="0.3505" stop-color="#cbe5f0"/><stop offset="0.3536" stop-color="#def2f7"/><stop offset="0.3567" stop-color="#c4e0ee"/><stop offset="0.3598" stop-color="#d1e9f2"/><stop offset="0.3629" stop-color="#e1f3f6"/><stop offset="0.3660" stop-color="#d7edf5"/><stop offset="0.3692" stop-color="#e5f5ee"/><stop offset="0.3723" stop-color="#e2f4f5"/><stop offset="0.3754" stop-color="#cfe8f2"/><stop offset="0.3785" stop-color="#e1f3f6"/><stop offset="0.3816" stop-color="#dcf1f7"/><stop offset="0.3847" stop-color="#d8eef5"/><stop offset="0.3879" stop-color="#e2f4f4"/><stop offset="0.3910" stop-color="#e5f5ef"/><stop offset="0.3941" stop-color="#d8eef5"/><stop offset="0.3972" stop-color="#d1e9f3"/><stop offset="0.4003" stop-color="#fff7b3"/><stop offset="0.4034" stop-color="#fff6b1"/><stop offset="0.4065" stop-color="#fbfec5"/><stop offset="0.4097" stop-color="#fff9b5"/><stop offset="0.4128" stop-color="#fff8b5"/><stop offset="0.4159" stop-color="#fffebe"/><stop offset="0.4190" stop-color="#f6fbd0"/><stop offset="0.4221" stop-color="#ffffbf"/><stop offset="0.4252" stop-color="#fffebd"/><stop offset="0.4283" stop-color="#fffebe"/><stop offset="0.4315" stop-color="#fdfec2"/><stop offset="0.4346" stop-color="#fffab7"/><stop offset="0.4377" stop-color="#fffebd"/><stop offset="0.4408" stop-color="#fffcba"/><stop offset="0.4439" stop-color="#fbfdc7"/><stop offset="0.4470" stop-color="#f0f9da"/><stop offset="0.4502" stop-color="#eef8de"/><stop offset="0.4533" stop-color="#eaf7e6"/><stop offset="0.4564" stop-color="#e9f7e7"/><stop offset="0.4595" stop-color="#e4f4f2"/><stop offset="0.4626" stop-color="#dcf0f6"/><stop offset="0.4657" stop-color="#fee292"/><stop offset="0.4688" stop-color="#fedf8f"/><stop offset="0.4720" stop-color="#feeca2"/><stop offset="0.4751" stop-color="#fff2ab"/><stop offset="0.4782" stop-color="#fee598"/><stop offset="0.4813" stop-color="#fed085"/><stop offset="0.4844" stop-color="#fdb372"/><stop offset="0.4875" stop-color="#fdb473"/><stop offset="0.4907" stop-color="#fdbd79"/><stop offset="0.4938" stop-color="#fed88b"/><stop offset="0.4969" stop-color="#fdb775"/><stop offset="0.5000" stop-color="#fc8e5a"/><stop offset="0.5031" stop-color="#fc9b62"/><stop offset="0.5062" stop-color="#fc925c"/><stop offset="0.5093" stop-color="#f1704a"/><stop offset="0.5125" stop-color="#f2754c"/><stop offset="0.5156" stop-color="#ed6745"/><stop offset="0.5187" stop-color="#f78253"/><stop offset="0.5218" stop-color="#fca066"/><stop offset="0.5249" stop-color="#f3774d"/><stop offset="0.5280" stop-color="#fc915c"/><stop offset="0.5312" stop-color="#f07049"/><stop offset="0.5343" stop-color="#f3754c"/><stop offset="0.5374" stop-color="#f1714a"/><stop offset="0.5405" stop-color="#ee6b47"/><stop offset="0.5436" stop-color="#ea6141"/><stop offset="0.5467" stop-color="#fc935d"/><stop offset="0.5498" stop-color="#fda669"/><stop offset="0.5530" stop-color="#fc905b"/><stop offset="0.5561" stop-color="#fdc37d"/><stop offset="0.5592" stop-color="#fdb070"/><stop offset="0.5623" stop-color="#fc9860"/><stop offset="0.5654" stop-color="#fc9860"/><stop offset="0.5685" stop-color="#fdb372"/><stop offset="0.5717" stop-color="#fc9d64"/><stop offset="0.5748" stop-color="#fb8c58"/><stop offset="0.5779" stop-color="#fc9f65"/><stop offset="0.5810" stop-color="#fdb372"/><stop offset="0.5841" stop-color="#fdaa6c"/><stop offset="0.5872" stop-color="#fdb775"/><stop offset="0.5903" stop-color="#fc8d59"/><stop offset="0.5935" stop-color="#fc8d59"/><stop offset="0.5966" stop-color="#fca166"/><stop offset="0.5997" stop-color="#f98454"/><stop offset="0.6028" stop-color="#fb8b58"/><stop offset="0.6059" stop-color="#f67e51"/><stop offset="0.6090" stop-color="#f88354"/><stop offset="0.6121" stop-color="#fdbb77"/><stop offset="0.6153" stop-color="#fda66a"/><stop offset="0.6184" stop-color="#fdc07b"/><stop offset="0.6215" stop-color="#fdbc78"/><stop offset="0.6246" stop-color="#fed287"/><stop offset="0.6277" stop-color="#fdbb77"/><stop offset="0.6308" stop-color="#fdc77f"/><stop offset="0.6340" stop-color="#fdb674"/><stop offset="0.6371" stop-color="#feea9f"/><stop offset="0.6402" stop-color="#feea9f"/><stop offset="0.6433" stop-color="#fee598"/><stop offset="0.6464" stop-color="#fff1a9"/><stop offset="0.6495" stop-color="#fee79b"/><stop offset="0.6526" stop-color="#fed78a"/><stop offset="0.6558" stop-color="#fed488"/><stop offset="0.6589" stop-color="#fed78a"/><stop offset="0.6620" stop-color="#fdb775"/><stop offset="0.6651" stop-color="#fdca81"/><stop offset="0.6682" stop-color="#fdc77f"/><stop offset="0.6713" stop-color="#fee394"/><stop offset="0.6745" stop-color="#fee293"/><stop offset="0.6776" stop-color="#fed387"/><stop offset="0.6807" stop-color="#fdc07b"/><stop offset="0.6838" stop-color="#fece84"/><stop offset="0.6869" stop-color="#fee292"/><stop offset="0.6900" stop-color="#fecc83"/><stop offset="0.6931" stop-color="#fdc780"/><stop offset="0.6963" stop-color="#fdc47e"/><stop offset="0.6994" stop-color="#fee598"/><stop offset="0.7025" stop-color="#fdc880"/><stop offset="0.7056" stop-color="#fda367"/><stop offset="0.7087" stop-color="#fecd83"/><stop offset="0.7118" stop-color="#fdb372"/><stop offset="0.7150" stop-color="#fed78a"/><stop offset="0.7181" stop-color="#fdc880"/><stop offset="0.7212" stop-color="#feeea5"/><stop offset="0.7243" stop-color="#fee293"/><stop offset="0.7274" stop-color="#fee699"/><stop offset="0.7305" stop-color="#fed589"/><stop offset="0.7336" stop-color="#fedd8e"/><stop offset="0.7368" stop-color="#fee090"/><stop offset="0.7399" stop-color="#feea9f"/><stop offset="0.7430" stop-color="#fff3ad"/><stop offset="0.7461" stop-color="#fff8b4"/><stop offset="0.7492" stop-color="#fff5b0"/><stop offset="0.7523" stop-color="#feeda3"/><stop offset="0.7555" stop-color="#fff2ab"/><stop offset="0.7586" stop-color="#fffebd"/><stop offset="0.7617" stop-color="#fffdbc"/><stop offset="0.7648" stop-color="#fffcbb"/><stop offset="0.7679" stop-color="#fff8b5"/><stop offset="0.7710" stop-color="#fff8b4"/><stop offset="0.7741" stop-color="#fff2ab"/><stop offset="0.7773" stop-color="#fda96b"/><stop offset="0.7804" stop-color="#fdb573"/><stop offset="0.7835" stop-color="#fdb573"/><stop offset="0.7866" stop-color="#fdc67f"/><stop offset="0.7897" stop-color="#fee495"/><stop offset="0.7928" stop-color="#feeda3"/><stop offset="0.7960" stop-color="#feefa7"/><stop offset="0.7991" stop-color="#feeca2"/><stop offset="0.8022" stop-color="#fff2ac"/><stop offset="0.8053" stop-color="#fee497"/><stop offset="0.8084" stop-color="#fed086"/><stop offset="0.8115" stop-color="#fee79b"/><stop offset="0.8146" stop-color="#feeea5"/><stop offset="0.8178" stop-color="#fee79b"/><stop offset="0.8209" stop-color="#fee293"/><stop offset="0.8240" stop-color="#fdfec4"/><stop offset="0.8271" stop-color="#fbfdc7"/><stop offset="0.8302" stop-color="#f6fbd0"/><stop offset="0.8333" stop-color="#f6fbd0"/><stop offset="0.8364" stop-color="#fbfdc7"/><stop offset="0.8396" stop-color="#fbfdc7"/><stop offset="0.8427" stop-color="#f9fdcb"/><stop offset="0.8458" stop-color="#fffcba"/><stop offset="0.8489" stop-color="#fff7b3"/><stop offset="0.8520" stop-color="#fff1aa"/><stop offset="0.8551" stop-color="#fff6b2"/><stop offset="0.8583" stop-color="#fffdbc"/><stop offset="0.8614" stop-color="#fffcba"/><stop offset="0.8645" stop-color="#fefec1"/><stop offset="0.8676" stop-color="#fffdbd"/><stop offset="0.8707" stop-color="#fafdc9"/><stop offset="0.8738" stop-color="#ffffbf"/><stop offset="0.8769" stop-color="#fff5b0"/><stop offset="0.8801" stop-color="#fff0a8"/><stop offset="0.8832" stop-color="#fdc17c"/><stop offset="0.8863" stop-color="#fdca81"/><stop offset="0.8894" stop-color="#fda66a"/><stop offset="0.8925" stop-color="#fdb473"/><stop offset="0.8956" stop-color="#fc9b62"/><stop offset="0.8988" stop-color="#fdac6e"/><stop offset="0.9019" stop-color="#fdb574"/><stop offset="0.9050" stop-color="#fdbe7a"/><stop offset="0.9081" stop-color="#fdc57e"/><stop offset="0.9112" stop-color="#fda96b"/><stop offset="0.9143" stop-color="#fda96c"/><stop offset="0.9174" stop-color="#fdbe7a"/><stop offset="0.9206" stop-color="#fdb674"/><stop offset="0.9237" stop-color="#fdbc78"/><stop offset="0.9268" stop-color="#feeea5"/><stop offset="0.9299" stop-color="#fff6b1"/><stop offset="0.9330" stop-color="#fff0a8"/><stop offset="0.9361" stop-color="#fee99e"/><stop offset="0.9393" stop-color="#fee091"/><stop offset="0.9424" stop-color="#fee192"/><stop offset="0.9455" stop-color="#fff0a9"/><stop offset="0.9486" stop-color="#fff2ac"/><stop offset="0.9517" stop-color="#fee699"/><stop offset="0.9548" stop-color="#fedf90"/><stop offset="0.9579" stop-color="#fee395"/><stop offset="0.9611" stop-color="#fedb8d"/><stop offset="0.9642" stop-color="#feeba1"/><stop offset="0.9673" stop-color="#feefa6"/><stop offset="0.9704" stop-color="#feea9f"/><stop offset="0.9735" stop-color="#fee89c"/><stop offset="0.9766" stop-color="#fed88b"/><stop offset="0.9798" stop-color="#feea9f"/><stop offset="0.9829" stop-color="#fed68a"/><stop offset="0.9860" stop-color="#feda8c"/><stop offset="0.9891" stop-color="#fecf85"/><stop offset="0.9922" stop-color="#fedb8d"/><stop offset="0.9953" stop-color="#fdcb82"/><stop offset="0.9984" stop-color="#fee293"/></linearGradient><linearGradient id="lg1" x1="0" y1="0" x2="0" y2="1"><stop offset="0.000" stop-color="#d73027"/><stop offset="0.010" stop-color="#d9362a"/><stop offset="0.020" stop-color="#db3b2d"/><stop offset="0.030" stop-color="#de4130"/><stop offset="0.040" stop-color="#e04633"/><stop offset="0.050" stop-color="#e24c36"/><stop offset="0.060" stop-color="#e45139"/><stop offset="0.070" stop-color="#e7573c"/><stop offset="0.080" stop-color="#e95d3f"/><stop offset="0.090" stop-color="#eb6242"/><stop offset="0.100" stop-color="#ed6845"/><stop offset="0.110" stop-color="#ef6d48"/><stop offset="0.120" stop-color="#f2734b"/><stop offset="0.130" stop-color="#f4794e"/><stop offset="0.140" stop-color="#f67e51"/><stop offset="0.150" stop-color="#f88454"/><stop offset="0.160" stop-color="#fb8957"/><stop offset="0.170" stop-color="#fc8f5a"/><stop offset="0.180" stop-color="#fc945d"/><stop offset="0.190" stop-color="#fc9961"/><stop offset="0.200" stop-color="#fc9e64"/><stop offset="0.210" stop-color="#fda367"/><stop offset="0.220" stop-color="#fda86b"/><stop offset="0.230" stop-color="#fdad6e"/><stop offset="0.240" stop-color="#fdb271"/><stop offset="0.250" stop-color="#fdb674"/><stop offset="0.260" stop-color="#fdbb78"/><stop offset="0.270" stop-color="#fdc07b"/><stop offset="0.280" stop-color="#fdc57e"/><stop offset="0.290" stop-color="#fdca82"/><stop offset="0.300" stop-color="#fecf85"/><stop offset="0.310" stop-color="#fed488"/><stop offset="0.320" stop-color="#fed98c"/><stop offset="0.330" stop-color="#fede8f"/><stop offset="0.340" stop-color="#fee192"/><stop offset="0.350" stop-color="#fee395"/><stop offset="0.360" stop-color="#fee598"/><stop offset="0.370" stop-color="#fee79a"/><stop offset="0.380" stop-color="#fee99d"/><stop offset="0.390" stop-color="#feeba0"/><stop offset="0.400" stop-color="#feeca3"/><stop offset="0.410" stop-color="#feeea6"/><stop offset="0.420" stop-color="#fff0a8"/><stop offset="0.430" stop-color="#fff2ab"/><stop offset="0.440" stop-color="#fff4ae"/><stop offset="0.450" stop-color="#fff6b1"/><stop offset="0.460" stop-color="#fff8b4"/><stop offset="0.470" stop-color="#fff9b7"/><stop offset="0.480" stop-color="#fffbb9"/><stop offset="0.490" stop-color="#fffdbc"/><stop offset="0.500" stop-color="#ffffbf"/><stop offset="0.510" stop-color="#fdfec2"/><stop offset="0.520" stop-color="#fbfec6"/><stop offset="0.530" stop-color="#f9fdc9"/><stop offset="0.540" stop-color="#f8fccd"/><stop offset="0.550" stop-color="#f6fbd0"/><stop offset="0.560" stop-color="#f4fbd4"/><stop offset="0.570" stop-color="#f2fad7"/><stop offset="0.580" stop-color="#f0f9da"/><stop offset="0.590" stop-color="#eef9de"/><stop offset="0.600" stop-color="#ecf8e1"/><stop offset="0.610" stop-color="#ebf7e5"/><stop offset="0.620" stop-color="#e9f6e8"/><stop offset="0.630" stop-color="#e7f6eb"/><stop offset="0.640" stop-color="#e5f5ef"/><stop offset="0.650" stop-color="#e3f4f2"/><stop offset="0.660" stop-color="#e1f3f6"/><stop offset="0.670" stop-color="#def2f7"/><stop offset="0.680" stop-color="#daeff6"/><stop offset="0.690" stop-color="#d5ecf4"/><stop offset="0.700" stop-color="#d0e9f2"/><stop offset="0.710" stop-color="#cbe5f0"/><stop offset="0.720" stop-color="#c7e2ef"/><stop offset="0.730" stop-color="#c2dfed"/><stop offset="0.740" stop-color="#bddceb"/><stop offset="0.750" stop-color="#b8d9ea"/><stop offset="0.760" stop-color="#b4d6e8"/><stop offset="0.770" stop-color="#afd3e6"/><stop offset="0.780" stop-color="#aad0e4"/><stop offset="0.790" stop-color="#a6cde3"/><stop offset="0.800" stop-color="#a1c9e1"/><stop offset="0.810" stop-color="#9cc6df"/><stop offset="0.820" stop-color="#97c3dd"/><stop offset="0.830" stop-color="#93c0dc"/><stop offset="0.840" stop-color="#8ebcd9"/><stop offset="0.850" stop-color="#89b8d7"/><stop offset="0.860" stop-color="#85b3d5"/><stop offset="0.870" stop-color="#80afd2"/><stop offset="0.880" stop-color="#7caad0"/><stop offset="0.890" stop-color="#77a6ce"/><stop offset="0.900" stop-color="#73a1cb"/><stop offset="0.910" stop-color="#6e9dc9"/><stop offset="0.920" stop-color="#6999c7"/><stop offset="0.930" stop-color="#6594c4"/><stop offset="0.940" stop-color="#6090c2"/><stop offset="0.950" stop-color="#5c8bc0"/><stop offset="0.960" stop-color="#5787bd"/><stop offset="0.970" stop-color="#5382bb"/><stop offset="0.980" stop-color="#4e7eb9"/><stop offset="0.990" stop-color="#4a79b6"/><stop offset="1.000" stop-color="#4575b4"/></linearGradient><linearGradient id="lg2" x1="0" y1="0" x2="0" y2="1"><stop offset="0.000" stop-color="#d73027"/><stop offset="0.010" stop-color="#d9362a"/><stop offset="0.020" stop-color="#db3b2d"/><stop offset="0.030" stop-color="#de4130"/><stop offset="0.040" stop-color="#e04633"/><stop offset="0.050" stop-color="#e24c36"/><stop offset="0.060" stop-color="#e45139"/><stop offset="0.070" stop-color="#e7573c"/><stop offset="0.080" stop-color="#e95d3f"/><stop offset="0.090" stop-color="#eb6242"/><stop offset="0.100" stop-color="#ed6845"/><stop offset="0.110" stop-color="#ef6d48"/><stop offset="0.120" stop-color="#f2734b"/><stop offset="0.130" stop-color="#f4794e"/><stop offset="0.140" stop-color="#f67e51"/><stop offset="0.150" stop-color="#f88454"/><stop offset="0.160" stop-color="#fb8957"/><stop offset="0.170" stop-color="#fc8f5a"/><stop offset="0.180" stop-color="#fc945d"/><stop offset="0.190" stop-color="#fc9961"/><stop offset="0.200" stop-color="#fc9e64"/><stop offset="0.210" stop-color="#fda367"/><stop offset="0.220" stop-color="#fda86b"/><stop offset="0.230" stop-color="#fdad6e"/><stop offset="0.240" stop-color="#fdb271"/><stop offset="0.250" stop-color="#fdb674"/><stop offset="0.260" stop-color="#fdbb78"/><stop offset="0.270" stop-color="#fdc07b"/><stop offset="0.280" stop-color="#fdc57e"/><stop offset="0.290" stop-color="#fdca82"/><stop offset="0.300" stop-color="#fecf85"/><stop offset="0.310" stop-color="#fed488"/><stop offset="0.320" stop-color="#fed98c"/><stop offset="0.330" stop-color="#fede8f"/><stop offset="0.340" stop-color="#fee192"/><stop offset="0.350" stop-color="#fee395"/><stop offset="0.360" stop-color="#fee598"/><stop offset="0.370" stop-color="#fee79a"/><stop offset="0.380" stop-color="#fee99d"/><stop offset="0.390" stop-color="#feeba0"/><stop offset="0.400" stop-color="#feeca3"/><stop offset="0.410" stop-color="#feeea6"/><stop offset="0.420" stop-color="#fff0a8"/><stop offset="0.430" stop-color="#fff2ab"/><stop offset="0.440" stop-color="#fff4ae"/><stop offset="0.450" stop-color="#fff6b1"/><stop offset="0.460" stop-color="#fff8b4"/><stop offset="0.470" stop-color="#fff9b7"/><stop offset="0.480" stop-color="#fffbb9"/><stop offset="0.490" stop-color="#fffdbc"/><stop offset="0.500" stop-color="#ffffbf"/><stop offset="0.510" stop-color="#fdfec2"/><stop offset="0.520" stop-color="#fbfec6"/><stop offset="0.530" stop-color="#f9fdc9"/><stop offset="0.540" stop-color="#f8fccd"/><stop offset="0.550" stop-color="#f6fbd0"/><stop offset="0.560" stop-color="#f4fbd4"/><stop offset="0.570" stop-color="#f2fad7"/><stop offset="0.580" stop-color="#f0f9da"/><stop offset="0.590" stop-color="#eef9de"/><stop offset="0.600" stop-color="#ecf8e1"/><stop offset="0.610" stop-color="#ebf7e5"/><stop offset="0.620" stop-color="#e9f6e8"/><stop offset="0.630" stop-color="#e7f6eb"/><stop offset="0.640" stop-color="#e5f5ef"/><stop offset="0.650" stop-color="#e3f4f2"/><stop offset="0.660" stop-color="#e1f3f6"/><stop offset="0.670" stop-color="#def2f7"/><stop offset="0.680" stop-color="#daeff6"/><stop offset="0.690" stop-color="#d5ecf4"/><stop offset="0.700" stop-color="#d0e9f2"/><stop offset="0.710" stop-color="#cbe5f0"/><stop offset="0.720" stop-color="#c7e2ef"/><stop offset="0.730" stop-color="#c2dfed"/><stop offset="0.740" stop-color="#bddceb"/><stop offset="0.750" stop-color="#b8d9ea"/><stop offset="0.760" stop-color="#b4d6e8"/><stop offset="0.770" stop-color="#afd3e6"/><stop offset="0.780" stop-color="#aad0e4"/><stop offset="0.790" stop-color="#a6cde3"/><stop offset="0.800" stop-color="#a1c9e1"/><stop offset="0.810" stop-color="#9cc6df"/><stop offset="0.820" stop-color="#97c3dd"/><stop offset="0.830" stop-color="#93c0dc"/><stop offset="0.840" stop-color="#8ebcd9"/><stop offset="0.850" stop-color="#89b8d7"/><stop offset="0.860" stop-color="#85b3d5"/><stop offset="0.870" stop-color="#80afd2"/><stop offset="0.880" stop-color="#7caad0"/><stop offset="0.890" stop-color="#77a6ce"/><stop offset="0.900" stop-color="#73a1cb"/><stop offset="0.910" stop-color="#6e9dc9"/><stop offset="0.920" stop-color="#6999c7"/><stop offset="0.930" stop-color="#6594c4"/><stop offset="0.940" stop-color="#6090c2"/><stop offset="0.950" stop-color="#5c8bc0"/><stop offset="0.960" stop-color="#5787bd"/><stop offset="0.970" stop-color="#5382bb"/><stop offset="0.980" stop-color="#4e7eb9"/><stop offset="0.990" stop-color="#4a79b6"/><stop offset="1.000" stop-color="#4575b4"/></linearGradient><linearGradient id="hL" x1="0" y1="0" x2="1" y2="0"><stop offset="0" stop-color="#000" stop-opacity="0"/><stop offset="1" stop-color="#000" stop-opacity="0.75"/></linearGradient></defs>
<rect width="685" height="482" fill="#fff"/>
<rect x="39.50" y="60.60" width="43.47" height="400.70" fill="url(#L1)"/>
<rect x="82.67" y="60.60" width="43.47" height="400.70" fill="url(#L2)"/>
<rect x="125.83" y="60.60" width="43.47" height="400.70" fill="url(#L3)"/>
<rect x="169.00" y="60.60" width="43.47" height="400.70" fill="url(#L4)"/>
<rect x="212.17" y="60.60" width="43.47" height="400.70" fill="url(#L5)"/>
<rect x="255.33" y="60.60" width="43.17" height="400.70" fill="url(#L6)"/>
<rect x="386.10" y="60.60" width="46.45" height="400.70" fill="url(#R1)"/>
<rect x="432.25" y="60.60" width="46.45" height="400.70" fill="url(#R2)"/>
<rect x="478.40" y="60.60" width="46.45" height="400.70" fill="url(#R3)"/>
<rect x="524.55" y="60.60" width="46.45" height="400.70" fill="url(#R4)"/>
<rect x="570.70" y="60.60" width="46.45" height="400.70" fill="url(#R5)"/>
<rect x="616.85" y="60.60" width="46.15" height="400.70" fill="url(#R6)"/>
<rect x="302.00" y="60.60" width="7.00" height="128.30" fill="url(#lg1)"/>
<rect x="667.00" y="60.70" width="7.80" height="128.30" fill="url(#lg2)"/>
<rect x="29.5" y="61.5" width="5.3" height="399" fill="url(#hL)"/>
<rect x="374.5" y="61.5" width="6.2" height="399" fill="url(#hL)"/>
<rect x="34.8" y="60.8" width="4.8" height="400.3" fill="#000"/>
<rect x="380.6" y="60.8" width="5.6" height="400.3" fill="#000"/>
<path d="M93.10 15.70H222.80M93.10 15.70V39.80M222.80 15.70V37.50M60.50 39.80H125.80M60.50 39.80V60.60M125.80 39.80V42.60M104.10 42.60H147.60M104.10 42.60V60.60M147.60 42.60V60.60M190.50 37.50H255.40M190.50 37.50V60.60M255.40 37.50V50.20M233.60 50.20H276.80M233.60 50.20V60.60M276.80 50.20V60.60M443.80 15.70H582.60M443.80 15.70V37.20M582.60 15.70V36.80M409.10 37.20H479.00M409.10 37.20V60.60M479.00 37.20V39.80M455.50 39.80H501.90M455.50 39.80V60.60M501.90 39.80V60.60M547.70 36.80H617.20M547.70 36.80V60.60M617.20 36.80V47.80M593.60 47.80H640.00M593.60 47.80V60.60M640.00 47.80V60.60" stroke="#2a2a2a" stroke-width="0.9" fill="none"/>
<path d="M35.27 61.50V62.06M35.27 61.50H39.50M35.27 62.06H39.50M33.69 60.89V61.78M33.69 60.89H39.50M33.69 61.78H35.27M36.47 62.54V63.13M36.47 62.54H39.50M36.47 63.13H39.50M33.06 62.83V63.80M33.06 62.83H36.47M33.06 63.80H39.50M30.58 61.33V63.32M30.58 61.33H33.69M30.58 63.32H33.06M34.21 64.28V64.85M34.21 64.28H39.50M34.21 64.85H39.50M34.76 65.46V66.04M34.76 65.46H39.50M34.76 66.04H39.50M31.21 65.75V66.86M31.21 65.75H34.76M31.21 66.86H39.50M30.81 66.31V67.65M30.81 66.31H31.21M30.81 67.65H39.50M28.90 64.57V66.98M28.90 64.57H34.21M28.90 66.98H30.81M28.50 62.33V65.77M28.50 62.33H30.58M28.50 65.77H28.90M34.77 68.35V69.03M34.77 68.35H39.50M34.77 69.03H39.50M33.70 69.79V70.53M33.70 69.79H39.50M33.70 70.53H39.50M33.30 68.69V70.16M33.30 68.69H34.77M33.30 70.16H33.70M34.05 71.20V71.72M34.05 71.20H39.50M34.05 71.72H39.50M36.28 72.07V72.57M36.28 72.07H39.50M36.28 72.57H39.50M33.78 72.32V73.21M33.78 72.32H36.28M33.78 73.21H39.50M33.38 71.46V72.77M33.38 71.46H34.05M33.38 72.77H33.78M36.81 73.78V74.31M36.81 73.78H39.50M36.81 74.31H39.50M35.73 75.01V75.56M35.73 75.01H39.50M35.73 75.56H39.50M33.78 75.28V75.97M33.78 75.28H35.73M33.78 75.97H39.50M33.38 74.05V75.63M33.38 74.05H36.81M33.38 75.63H33.78M32.98 72.11V74.84M32.98 72.11H33.38M32.98 74.84H33.38M27.49 69.43V73.48M27.49 69.43H33.30M27.49 73.48H32.98M36.68 76.80V77.26M36.68 76.80H39.50M36.68 77.26H39.50M33.61 76.45V77.03M33.61 76.45H39.50M33.61 77.03H36.68M35.98 78.79V79.24M35.98 78.79H39.50M35.98 79.24H39.50M34.01 78.35V79.02M34.01 78.35H39.50M34.01 79.02H35.98M33.61 77.85V78.68M33.61 77.85H39.50M33.61 78.68H34.01M33.21 76.74V78.27M33.21 76.74H33.61M33.21 78.27H33.61M35.75 80.30V80.90M35.75 80.30H39.50M35.75 80.90H39.50M35.35 79.79V80.60M35.35 79.79H39.50M35.35 80.60H35.75M32.81 77.50V80.19M32.81 77.50H33.21M32.81 80.19H35.35M35.65 81.72V82.35M35.65 81.72H39.50M35.65 82.35H39.50M35.03 82.78V83.24M35.03 82.78H39.50M35.03 83.24H39.50M36.04 83.63V84.10M36.04 83.63H39.50M36.04 84.10H39.50M35.64 83.86V84.64M35.64 83.86H36.04M35.64 84.64H39.50M33.83 83.01V84.25M33.83 83.01H35.03M33.83 84.25H35.64M33.43 82.03V83.63M33.43 82.03H35.65M33.43 83.63H33.83M34.93 85.87V86.49M34.93 85.87H39.50M34.93 86.49H39.50M34.53 85.24V86.18M34.53 85.24H39.50M34.53 86.18H34.93M32.48 85.71V87.19M32.48 85.71H34.53M32.48 87.19H39.50M31.46 82.83V86.45M31.46 82.83H33.43M31.46 86.45H32.48M31.06 78.85V84.64M31.06 78.85H32.81M31.06 84.64H31.46M36.42 87.75V88.26M36.42 87.75H39.50M36.42 88.26H39.50M36.05 88.75V89.18M36.05 88.75H39.50M36.05 89.18H39.50M35.35 88.00V88.96M35.35 88.00H36.42M35.35 88.96H36.05M34.99 89.59V90.14M34.99 89.59H39.50M34.99 90.14H39.50M36.77 90.86V91.34M36.77 90.86H39.50M36.77 91.34H39.50M34.59 89.87V91.10M34.59 89.87H34.99M34.59 91.10H36.77M34.19 90.48V91.86M34.19 90.48H34.59M34.19 91.86H39.50M31.06 88.48V91.17M31.06 88.48H35.35M31.06 91.17H34.19M30.66 81.74V89.83M30.66 81.74H31.06M30.66 89.83H31.06M36.72 92.63V93.16M36.72 92.63H39.50M36.72 93.16H39.50M36.53 93.53V94.15M36.53 93.53H39.50M36.53 94.15H39.50M32.26 92.90V93.84M32.26 92.90H36.72M32.26 93.84H36.53M36.00 94.80V95.24M36.00 94.80H39.50M36.00 95.24H39.50M31.86 93.37V95.02M31.86 93.37H32.26M31.86 95.02H36.00M35.07 96.48V97.08M35.07 96.48H39.50M35.07 97.08H39.50M34.67 95.78V96.78M34.67 95.78H39.50M34.67 96.78H35.07M31.46 94.20V96.28M31.46 94.20H31.86M31.46 96.28H34.67M36.53 97.50V98.03M36.53 97.50H39.50M36.53 98.03H39.50M35.51 99.33V99.84M35.51 99.33H39.50M35.51 99.84H39.50M34.21 98.69V99.58M34.21 98.69H39.50M34.21 99.58H35.51M33.81 97.77V99.14M33.81 97.77H36.53M33.81 99.14H34.21M30.53 95.24V98.45M30.53 95.24H31.46M30.53 98.45H33.81M29.03 85.79V96.85M29.03 85.79H30.66M29.03 96.85H30.53M25.90 71.45V91.32M25.90 71.45H27.49M25.90 91.32H29.03M21.30 64.05V81.38M21.30 64.05H28.50M21.30 81.38H25.90M34.36 100.31V101.04M34.36 100.31H39.50M34.36 101.04H39.50M35.46 101.83V102.49M35.46 101.83H39.50M35.46 102.49H39.50M35.06 102.16V103.05M35.06 102.16H35.46M35.06 103.05H39.50M33.96 100.68V102.60M33.96 100.68H34.36M33.96 102.60H35.06M36.36 104.35V104.92M36.36 104.35H39.50M36.36 104.92H39.50M35.96 104.64V105.32M35.96 104.64H36.36M35.96 105.32H39.50M33.31 103.63V104.98M33.31 103.63H39.50M33.31 104.98H35.96M36.04 106.22V106.78M36.04 106.22H39.50M36.04 106.78H39.50M35.64 105.75V106.50M35.64 105.75H39.50M35.64 106.50H36.04M32.91 104.31V106.12M32.91 104.31H33.31M32.91 106.12H35.64M32.45 101.64V105.22M32.45 101.64H33.96M32.45 105.22H32.91M35.04 107.40V107.89M35.04 107.40H39.50M35.04 107.89H39.50M32.92 107.65V108.35M32.92 107.65H35.04M32.92 108.35H39.50M32.34 108.00V109.02M32.34 108.00H32.92M32.34 109.02H39.50M34.57 109.65V110.18M34.57 109.65H39.50M34.57 110.18H39.50M34.17 109.92V110.73M34.17 109.92H34.57M34.17 110.73H39.50M31.37 110.32V111.40M31.37 110.32H34.17M31.37 111.40H39.50M36.89 112.08V112.59M36.89 112.08H39.50M36.89 112.59H39.50M33.97 112.33V113.22M33.97 112.33H36.89M33.97 113.22H39.50M34.46 113.95V114.49M34.46 113.95H39.50M34.46 114.49H39.50M34.06 114.22V114.88M34.06 114.22H34.46M34.06 114.88H39.50M30.27 112.77V114.55M30.27 112.77H33.97M30.27 114.55H34.06M29.87 110.86V113.66M29.87 110.86H31.37M29.87 113.66H30.27M29.47 108.51V112.26M29.47 108.51H32.34M29.47 112.26H29.87M34.56 115.38V115.91M34.56 115.38H39.50M34.56 115.91H39.50M36.91 116.63V117.06M36.91 116.63H39.50M36.91 117.06H39.50M36.51 116.26V116.84M36.51 116.26H39.50M36.51 116.84H36.91M31.50 115.64V116.55M31.50 115.64H34.56M31.50 116.55H36.51M35.10 117.56V118.07M35.10 117.56H39.50M35.10 118.07H39.50M36.53 118.89V119.35M36.53 118.89H39.50M36.53 119.35H39.50M35.74 118.45V119.12M35.74 118.45H39.50M35.74 119.12H36.53M33.60 118.79V119.80M33.60 118.79H35.74M33.60 119.80H39.50M31.39 117.81V119.29M31.39 117.81H35.10M31.39 119.29H33.60M28.79 116.10V118.55M28.79 116.10H31.50M28.79 118.55H31.39M28.39 110.38V117.33M28.39 110.38H29.47M28.39 117.33H28.79M26.91 103.43V113.86M26.91 103.43H32.45M26.91 113.86H28.39M34.00 120.37V121.04M34.00 120.37H39.50M34.00 121.04H39.50M36.59 121.63V122.06M36.59 121.63H39.50M36.59 122.06H39.50M35.12 121.85V122.45M35.12 121.85H36.59M35.12 122.45H39.50M34.72 122.15V122.98M34.72 122.15H35.12M34.72 122.98H39.50M32.20 120.71V122.56M32.20 120.71H34.00M32.20 122.56H34.72M36.89 123.63V124.11M36.89 123.63H39.50M36.89 124.11H39.50M35.41 124.61V125.08M35.41 124.61H39.50M35.41 125.08H39.50M34.50 124.84V125.43M34.50 124.84H35.41M34.50 125.43H39.50M32.20 123.87V125.14M32.20 123.87H36.89M32.20 125.14H34.50M31.80 121.63V124.50M31.80 121.63H32.20M31.80 124.50H32.20M36.25 125.84V126.27M36.25 125.84H39.50M36.25 126.27H39.50M35.24 126.06V126.87M35.24 126.06H36.25M35.24 126.87H39.50M37.33 128.11V128.55M37.33 128.11H39.50M37.33 128.55H39.50M33.55 127.61V128.33M33.55 127.61H39.50M33.55 128.33H37.33M33.15 127.97V129.27M33.15 127.97H33.55M33.15 129.27H39.50M32.75 126.47V128.62M32.75 126.47H35.24M32.75 128.62H33.15M37.35 131.40V131.85M37.35 131.40H39.50M37.35 131.85H39.50M35.29 130.69V131.62M35.29 130.69H39.50M35.29 131.62H37.35M33.83 129.98V131.16M33.83 129.98H39.50M33.83 131.16H35.29M36.50 133.31V133.77M36.50 133.31H39.50M36.50 133.77H39.50M36.10 132.92V133.54M36.10 132.92H39.50M36.10 133.54H36.50M33.83 132.37V133.23M33.83 132.37H39.50M33.83 133.23H36.10M33.43 130.57V132.80M33.43 130.57H33.83M33.43 132.80H33.83M34.81 134.43V134.99M34.81 134.43H39.50M34.81 134.99H39.50M35.54 135.39V135.82M35.54 135.39H39.50M35.54 135.82H39.50M32.13 134.71V135.61M32.13 134.71H34.81M32.13 135.61H35.54M29.15 131.68V135.16M29.15 131.68H33.43M29.15 135.16H32.13M26.30 127.54V133.42M26.30 127.54H32.75M26.30 133.42H29.15M25.90 123.07V130.48M25.90 123.07H31.80M25.90 130.48H26.30M25.50 108.64V126.77M25.50 108.64H26.91M25.50 126.77H25.90M35.30 137.03V137.73M35.30 137.03H39.50M35.30 137.73H39.50M32.99 136.36V137.38M32.99 136.36H39.50M32.99 137.38H35.30M36.02 138.33V138.92M36.02 138.33H39.50M36.02 138.92H39.50M35.62 138.63V139.56M35.62 138.63H36.02M35.62 139.56H39.50M33.07 139.09V140.14M33.07 139.09H35.62M33.07 140.14H39.50M33.37 140.82V141.52M33.37 140.82H39.50M33.37 141.52H39.50M30.60 139.62V141.17M30.60 139.62H33.07M30.60 141.17H33.37M32.85 142.26V142.97M32.85 142.26H39.50M32.85 142.97H39.50M35.77 143.67V144.22M35.77 143.67H39.50M35.77 144.22H39.50M31.62 142.61V143.95M31.62 142.61H32.85M31.62 143.95H35.77M28.30 140.40V143.28M28.30 140.40H30.60M28.30 143.28H31.62M27.90 136.87V141.84M27.90 136.87H32.99M27.90 141.84H28.30M35.58 144.72V145.22M35.58 144.72H39.50M35.58 145.22H39.50M33.03 144.97V145.58M33.03 144.97H35.58M33.03 145.58H39.50M34.49 145.98V146.48M34.49 145.98H39.50M34.49 146.48H39.50M35.79 147.47V147.99M35.79 147.47H39.50M35.79 147.99H39.50M32.90 146.99V147.73M32.90 146.99H39.50M32.90 147.73H35.79M32.21 146.23V147.36M32.21 146.23H34.49M32.21 147.36H32.90M31.81 145.28V146.79M31.81 145.28H33.03M31.81 146.79H32.21M35.31 148.70V149.16M35.31 148.70H39.50M35.31 149.16H39.50M34.91 148.40V148.93M34.91 148.40H39.50M34.91 148.93H35.31M32.08 148.66V149.85M32.08 148.66H34.91M32.08 149.85H39.50M31.41 146.04V149.26M31.41 146.04H31.81M31.41 149.26H32.08M35.55 150.49V150.95M35.55 150.49H39.50M35.55 150.95H39.50M35.55 151.45V151.89M35.55 151.45H39.50M35.55 151.89H39.50M35.15 150.72V151.67M35.15 150.72H35.55M35.15 151.67H35.55M36.76 152.26V152.76M36.76 152.26H39.50M36.76 152.76H39.50M33.75 151.19V152.51M33.75 151.19H35.15M33.75 152.51H36.76M36.70 153.21V153.75M36.70 153.21H39.50M36.70 153.75H39.50M34.86 153.48V154.30M34.86 153.48H36.70M34.86 154.30H39.50M29.60 151.85V153.89M29.60 151.85H33.75M29.60 153.89H34.86M29.20 147.65V152.87M29.20 147.65H31.41M29.20 152.87H29.60M33.85 154.94V155.74M33.85 154.94H39.50M33.85 155.74H39.50M33.83 156.36V156.97M33.83 156.36H39.50M33.83 156.97H39.50M33.04 155.34V156.67M33.04 155.34H33.85M33.04 156.67H33.83M33.97 157.54V158.13M33.97 157.54H39.50M33.97 158.13H39.50M34.34 158.76V159.27M34.34 158.76H39.50M34.34 159.27H39.50M32.60 159.02V159.76M32.60 159.02H34.34M32.60 159.76H39.50M30.71 157.83V159.39M30.71 157.83H33.97M30.71 159.39H32.60M29.57 156.00V158.61M29.57 156.00H33.04M29.57 158.61H30.71M28.80 150.26V157.31M28.80 150.26H29.20M28.80 157.31H29.57M24.90 139.36V153.78M24.90 139.36H27.90M24.90 153.78H28.80M19.30 117.71V146.57M19.30 117.71H25.50M19.30 146.57H24.90M16.20 72.72V132.14M16.20 72.72H21.30M16.20 132.14H19.30M36.06 161.10V161.55M36.06 161.10H39.50M36.06 161.55H39.50M35.66 160.38V161.32M35.66 160.38H39.50M35.66 161.32H36.06M35.10 161.91V162.48M35.10 161.91H39.50M35.10 162.48H39.50M31.43 160.85V162.19M31.43 160.85H35.66M31.43 162.19H35.10M34.19 163.20V163.96M34.19 163.20H39.50M34.19 163.96H39.50M30.17 161.52V163.58M30.17 161.52H31.43M30.17 163.58H34.19M35.65 165.20V165.74M35.65 165.20H39.50M35.65 165.74H39.50M34.44 164.60V165.47M34.44 164.60H39.50M34.44 165.47H35.65M29.77 162.55V165.03M29.77 162.55H30.17M29.77 165.03H34.44M35.04 166.50V166.98M35.04 166.50H39.50M35.04 166.98H39.50M33.94 166.14V166.74M33.94 166.14H39.50M33.94 166.74H35.04M36.72 167.54V168.00M36.72 167.54H39.50M36.72 168.00H39.50M35.36 169.18V169.69M35.36 169.18H39.50M35.36 169.69H39.50M33.99 168.66V169.44M33.99 168.66H39.50M33.99 169.44H35.36M33.59 167.77V169.05M33.59 167.77H36.72M33.59 169.05H33.99M33.19 166.44V168.41M33.19 166.44H33.94M33.19 168.41H33.59M36.60 170.31V170.86M36.60 170.31H39.50M36.60 170.86H39.50M34.41 170.59V171.46M34.41 170.59H36.60M34.41 171.46H39.50M32.79 167.43V171.02M32.79 167.43H33.19M32.79 171.02H34.41M29.37 163.79V169.22M29.37 163.79H29.77M29.37 169.22H32.79M36.94 172.06V172.53M36.94 172.06H39.50M36.94 172.53H39.50M36.99 172.97V173.41M36.99 172.97H39.50M36.99 173.41H39.50M34.09 172.29V173.19M34.09 172.29H36.94M34.09 173.19H36.99M34.50 173.95V174.47M34.50 173.95H39.50M34.50 174.47H39.50M35.47 174.82V175.32M35.47 174.82H39.50M35.47 175.32H39.50M33.47 174.21V175.07M33.47 174.21H34.50M33.47 175.07H35.47M32.69 172.74V174.64M32.69 172.74H34.09M32.69 174.64H33.47M35.11 176.57V177.08M35.11 176.57H39.50M35.11 177.08H39.50M34.71 175.92V176.83M34.71 175.92H39.50M34.71 176.83H35.11M36.49 178.13V178.62M36.49 178.13H39.50M36.49 178.62H39.50M35.06 178.37V179.27M35.06 178.37H36.49M35.06 179.27H39.50M30.27 177.61V178.82M30.27 177.61H39.50M30.27 178.82H35.06M28.87 176.37V178.22M28.87 176.37H34.71M28.87 178.22H30.27M36.70 179.82V180.34M36.70 179.82H39.50M36.70 180.34H39.50M34.26 180.08V180.91M34.26 180.08H36.70M34.26 180.91H39.50M30.21 180.49V181.60M30.21 180.49H34.26M30.21 181.60H39.50M28.47 177.30V181.04M28.47 177.30H28.87M28.47 181.04H30.21M26.60 173.69V179.17M26.60 173.69H32.69M26.60 179.17H28.47M20.30 166.51V176.43M20.30 166.51H29.37M20.30 176.43H26.60M35.92 183.42V184.03M35.92 183.42H39.50M35.92 184.03H39.50M35.52 182.89V183.72M35.52 182.89H39.50M35.52 183.72H35.92M31.56 182.33V183.30M31.56 182.33H39.50M31.56 183.30H35.52M36.16 184.54V185.16M36.16 184.54H39.50M36.16 185.16H39.50M36.43 185.92V186.46M36.43 185.92H39.50M36.43 186.46H39.50M34.21 184.85V186.19M34.21 184.85H36.16M34.21 186.19H36.43M30.16 182.82V185.52M30.16 182.82H31.56M30.16 185.52H34.21M35.17 186.97V187.66M35.17 186.97H39.50M35.17 187.66H39.50M30.96 187.31V188.42M30.96 187.31H35.17M30.96 188.42H39.50M35.65 189.89V190.59M35.65 189.89H39.50M35.65 190.59H39.50M32.60 190.24V191.31M32.60 190.24H35.65M32.60 191.31H39.50M32.20 189.18V190.77M32.20 189.18H39.50M32.20 190.77H32.60M35.20 192.37V192.94M35.20 192.37H39.50M35.20 192.94H39.50M34.13 191.94V192.65M34.13 191.94H39.50M34.13 192.65H35.20M36.48 193.72V194.25M36.48 193.72H39.50M36.48 194.25H39.50M31.36 192.30V193.99M31.36 192.30H34.13M31.36 193.99H36.48M30.96 189.98V193.14M30.96 189.98H32.20M30.96 193.14H31.36M30.56 187.87V191.56M30.56 187.87H30.96M30.56 191.56H30.96M36.09 194.68V195.16M36.09 194.68H39.50M36.09 195.16H39.50M34.74 194.92V195.76M34.74 194.92H36.09M34.74 195.76H39.50M35.06 196.37V196.83M35.06 196.37H39.50M35.06 196.83H39.50M34.34 195.34V196.60M34.34 195.34H34.74M34.34 196.60H35.06M30.16 189.71V195.97M30.16 189.71H30.56M30.16 195.97H34.34M29.76 184.17V192.84M29.76 184.17H30.16M29.76 192.84H30.16M35.82 197.78V198.34M35.82 197.78H39.50M35.82 198.34H39.50M34.43 197.29V198.06M34.43 197.29H39.50M34.43 198.06H35.82M35.52 198.74V199.20M35.52 198.74H39.50M35.52 199.20H39.50M31.92 197.67V198.97M31.92 197.67H34.43M31.92 198.97H35.52M34.49 199.77V200.33M34.49 199.77H39.50M34.49 200.33H39.50M31.52 198.32V200.05M31.52 198.32H31.92M31.52 200.05H34.49M35.12 200.84V201.37M35.12 200.84H39.50M35.12 201.37H39.50M31.52 201.11V202.11M31.52 201.11H35.12M31.52 202.11H39.50M30.56 199.19V201.61M30.56 199.19H31.52M30.56 201.61H31.52M35.48 203.46V203.93M35.48 203.46H39.50M35.48 203.93H39.50M33.14 202.86V203.70M33.14 202.86H39.50M33.14 203.70H35.48M31.17 203.28V204.47M31.17 203.28H33.14M31.17 204.47H39.50M30.16 200.40V203.87M30.16 200.40H30.56M30.16 203.87H31.17M34.90 205.19V205.88M34.90 205.19H39.50M34.90 205.88H39.50M33.77 206.57V207.22M33.77 206.57H39.50M33.77 207.22H39.50M33.37 205.53V206.90M33.37 205.53H34.90M33.37 206.90H33.77M29.76 202.14V206.21M29.76 202.14H30.16M29.76 206.21H33.37M29.36 188.51V204.18M29.36 188.51H29.76M29.36 204.18H29.76M36.37 207.91V208.52M36.37 207.91H39.50M36.37 208.52H39.50M35.08 209.11V209.89M35.08 209.11H39.50M35.08 209.89H39.50M34.48 208.21V209.50M34.48 208.21H36.37M34.48 209.50H35.08M34.32 210.68V211.32M34.32 210.68H39.50M34.32 211.32H39.50M33.46 211.00V211.75M33.46 211.00H34.32M33.46 211.75H39.50M34.73 212.83V213.42M34.73 212.83H39.50M34.73 213.42H39.50M33.47 212.21V213.13M33.47 212.21H39.50M33.47 213.13H34.73M33.06 211.37V212.67M33.06 211.37H33.46M33.06 212.67H33.47M29.02 208.86V212.02M29.02 208.86H34.48M29.02 212.02H33.06M33.06 213.97V214.64M33.06 213.97H39.50M33.06 214.64H39.50M35.09 215.14V215.74M35.09 215.14H39.50M35.09 215.74H39.50M35.98 216.36V216.80M35.98 216.36H39.50M35.98 216.80H39.50M34.05 216.58V217.46M34.05 216.58H35.98M34.05 217.46H39.50M33.55 217.02V218.21M33.55 217.02H34.05M33.55 218.21H39.50M33.15 215.44V217.61M33.15 215.44H35.09M33.15 217.61H33.55M31.54 214.30V216.53M31.54 214.30H33.06M31.54 216.53H33.15M28.62 210.44V215.41M28.62 210.44H29.02M28.62 215.41H31.54M35.13 218.66V219.16M35.13 218.66H39.50M35.13 219.16H39.50M37.12 220.26V220.75M37.12 220.26H39.50M37.12 220.75H39.50M34.93 219.82V220.51M34.93 219.82H39.50M34.93 220.51H37.12M33.00 218.91V220.16M33.00 218.91H35.13M33.00 220.16H34.93M36.69 221.46V222.02M36.69 221.46H39.50M36.69 222.02H39.50M35.95 221.74V222.40M35.95 221.74H36.69M35.95 222.40H39.50M34.73 222.83V223.29M34.73 222.83H39.50M34.73 223.29H39.50M33.40 222.07V223.06M33.40 222.07H35.95M33.40 223.06H34.73M33.40 223.89V224.63M33.40 223.89H39.50M33.40 224.63H39.50M33.00 222.56V224.26M33.00 222.56H33.40M33.00 224.26H33.40M32.60 219.54V223.41M32.60 219.54H33.00M32.60 223.41H33.00M28.22 212.93V221.47M28.22 212.93H28.62M28.22 221.47H32.60M20.00 196.34V217.20M20.00 196.34H29.36M20.00 217.20H28.22M16.20 171.47V206.77M16.20 171.47H20.30M16.20 206.77H20.00M36.11 225.91V226.37M36.11 225.91H39.50M36.11 226.37H39.50M35.31 226.14V227.00M35.31 226.14H36.11M35.31 227.00H39.50M34.91 225.36V226.57M34.91 225.36H39.50M34.91 226.57H35.31M33.37 227.70V228.30M33.37 227.70H39.50M33.37 228.30H39.50M33.83 228.73V229.30M33.83 228.73H39.50M33.83 229.30H39.50M32.97 228.00V229.02M32.97 228.00H33.37M32.97 229.02H33.83M35.92 230.44V230.88M35.92 230.44H39.50M35.92 230.88H39.50M33.08 230.66V231.38M33.08 230.66H35.92M33.08 231.38H39.50M31.83 229.95V231.02M31.83 229.95H39.50M31.83 231.02H33.08M30.02 228.51V230.49M30.02 228.51H32.97M30.02 230.49H31.83M27.54 225.97V229.50M27.54 225.97H34.91M27.54 229.50H30.02M36.21 232.00V232.54M36.21 232.00H39.50M36.21 232.54H39.50M36.60 233.34V233.85M36.60 233.34H39.50M36.60 233.85H39.50M36.20 232.90V233.59M36.20 232.90H39.50M36.20 233.59H36.60M30.98 233.25V234.44M30.98 233.25H36.20M30.98 234.44H39.50M30.58 232.27V233.84M30.58 232.27H36.21M30.58 233.84H30.98M36.80 235.49V236.01M36.80 235.49H39.50M36.80 236.01H39.50M35.86 234.97V235.75M35.86 234.97H39.50M35.86 235.75H36.80M35.09 236.53V237.10M35.09 236.53H39.50M35.09 237.10H39.50M30.67 235.36V236.81M30.67 235.36H35.86M30.67 236.81H35.09M27.65 233.06V236.09M27.65 233.06H30.58M27.65 236.09H30.67M36.42 237.56V238.18M36.42 237.56H39.50M36.42 238.18H39.50M34.15 237.87V238.91M34.15 237.87H36.42M34.15 238.91H39.50M35.48 240.71V241.15M35.48 240.71H39.50M35.48 241.15H39.50M34.74 240.26V240.93M34.74 240.26H39.50M34.74 240.93H35.48M32.14 239.60V240.59M32.14 239.60H39.50M32.14 240.59H34.74M34.31 241.73V242.30M34.31 241.73H39.50M34.31 242.30H39.50M30.87 240.10V242.02M30.87 240.10H32.14M30.87 242.02H34.31M30.47 238.39V241.06M30.47 238.39H34.15M30.47 241.06H30.87M36.78 243.71V244.23M36.78 243.71H39.50M36.78 244.23H39.50M33.07 242.95V243.97M33.07 242.95H39.50M33.07 243.97H36.78M35.55 244.56V245.11M35.55 244.56H39.50M35.55 245.11H39.50M32.67 243.46V244.83M32.67 243.46H33.07M32.67 244.83H35.55M35.53 245.66V246.17M35.53 245.66H39.50M35.53 246.17H39.50M30.65 244.15V245.91M30.65 244.15H32.67M30.65 245.91H35.53M26.79 239.72V245.03M26.79 239.72H30.47M26.79 245.03H30.65M26.39 234.57V242.38M26.39 234.57H27.65M26.39 242.38H26.79M25.99 227.73V238.47M25.99 227.73H27.54M25.99 238.47H26.39M35.11 247.25V247.77M35.11 247.25H39.50M35.11 247.77H39.50M32.75 246.81V247.51M32.75 246.81H39.50M32.75 247.51H35.11M35.20 248.33V248.82M35.20 248.33H39.50M35.20 248.82H39.50M36.20 249.88V250.37M36.20 249.88H39.50M36.20 250.37H39.50M35.08 249.35V250.13M35.08 249.35H39.50M35.08 250.13H36.20M34.68 248.57V249.74M34.68 248.57H35.20M34.68 249.74H35.08M30.55 247.16V249.16M30.55 247.16H32.75M30.55 249.16H34.68M35.68 250.97V251.74M35.68 250.97H39.50M35.68 251.74H39.50M35.88 252.43V252.93M35.88 252.43H39.50M35.88 252.93H39.50M32.67 252.68V253.32M32.67 252.68H35.88M32.67 253.32H39.50M32.06 253.00V253.82M32.06 253.00H32.67M32.06 253.82H39.50M29.73 251.36V253.41M29.73 251.36H35.68M29.73 253.41H32.06M27.16 248.16V252.39M27.16 248.16H30.55M27.16 252.39H29.73M25.59 233.10V250.27M25.59 233.10H25.99M25.59 250.27H27.16M34.93 254.43V255.14M34.93 254.43H39.50M34.93 255.14H39.50M36.49 256.64V257.16M36.49 256.64H39.50M36.49 257.16H39.50M34.00 255.95V256.90M34.00 255.95H39.50M34.00 256.90H36.49M31.69 254.79V256.42M31.69 254.79H34.93M31.69 256.42H34.00M35.66 257.82V258.47M35.66 257.82H39.50M35.66 258.47H39.50M31.29 255.60V258.15M31.29 255.60H31.69M31.29 258.15H35.66M34.17 258.93V259.53M34.17 258.93H39.50M34.17 259.53H39.50M35.94 260.84V261.30M35.94 260.84H39.50M35.94 261.30H39.50M33.58 261.07V261.83M33.58 261.07H35.94M33.58 261.83H39.50M30.48 260.21V261.45M30.48 260.21H39.50M30.48 261.45H33.58M29.71 259.23V260.83M29.71 259.23H34.17M29.71 260.83H30.48M34.98 262.39V262.88M34.98 262.39H39.50M34.98 262.88H39.50M37.21 263.51V263.95M37.21 263.51H39.50M37.21 263.95H39.50M31.91 262.63V263.73M31.91 262.63H34.98M31.91 263.73H37.21M37.00 264.40V264.89M37.00 264.40H39.50M37.00 264.89H39.50M36.16 264.64V265.30M36.16 264.64H37.00M36.16 265.30H39.50M30.86 263.18V264.97M30.86 263.18H31.91M30.86 264.97H36.16M29.31 260.03V264.08M29.31 260.03H29.71M29.31 264.08H30.86M26.83 256.88V262.05M26.83 256.88H31.29M26.83 262.05H29.31M25.19 241.69V259.47M25.19 241.69H25.59M25.19 259.47H26.83M35.52 265.71V266.15M35.52 265.71H39.50M35.52 266.15H39.50M34.89 265.93V266.83M34.89 265.93H35.52M34.89 266.83H39.50M33.35 267.56V268.17M33.35 267.56H39.50M33.35 268.17H39.50M35.66 268.74V269.18M35.66 268.74H39.50M35.66 269.18H39.50M32.97 268.96V269.77M32.97 268.96H35.66M32.97 269.77H39.50M30.09 267.86V269.37M30.09 267.86H33.35M30.09 269.37H32.97M28.11 266.38V268.61M28.11 266.38H34.89M28.11 268.61H30.09M35.95 270.41V270.91M35.95 270.41H39.50M35.95 270.91H39.50M34.00 270.66V271.45M34.00 270.66H35.95M34.00 271.45H39.50M34.47 271.91V272.49M34.47 271.91H39.50M34.47 272.49H39.50M29.95 271.05V272.20M29.95 271.05H34.00M29.95 272.20H34.47M32.89 273.30V273.97M32.89 273.30H39.50M32.89 273.97H39.50M29.55 271.63V273.64M29.55 271.63H29.95M29.55 273.64H32.89M35.52 275.28V276.00M35.52 275.28H39.50M35.52 276.00H39.50M33.45 274.59V275.64M33.45 274.59H39.50M33.45 275.64H35.52M29.89 275.12V276.76M29.89 275.12H33.45M29.89 276.76H39.50M29.15 272.63V275.94M29.15 272.63H29.55M29.15 275.94H29.89M33.72 277.36V277.93M33.72 277.36H39.50M33.72 277.93H39.50M36.01 279.18V279.78M36.01 279.18H39.50M36.01 279.78H39.50M35.61 278.53V279.48M35.61 278.53H39.50M35.61 279.48H36.01M29.81 277.64V279.01M29.81 277.64H33.72M29.81 279.01H35.61M25.76 274.28V278.32M25.76 274.28H29.15M25.76 278.32H29.81M25.36 267.50V276.30M25.36 267.50H28.11M25.36 276.30H25.76M21.10 250.58V271.90M21.10 250.58H25.19M21.10 271.90H25.36M35.36 280.97V281.54M35.36 280.97H39.50M35.36 281.54H39.50M34.96 280.33V281.25M34.96 280.33H39.50M34.96 281.25H35.36M35.90 282.49V282.98M35.90 282.49H39.50M35.90 282.98H39.50M35.50 282.04V282.74M35.50 282.04H39.50M35.50 282.74H35.90M33.73 283.54V284.22M33.73 283.54H39.50M33.73 284.22H39.50M35.38 284.83V285.26M35.38 284.83H39.50M35.38 285.26H39.50M34.98 285.05V285.70M34.98 285.05H35.38M34.98 285.70H39.50M33.33 283.88V285.37M33.33 283.88H33.73M33.33 285.37H34.98M32.35 282.39V284.63M32.35 282.39H35.50M32.35 284.63H33.33M31.37 280.79V283.51M31.37 280.79H34.96M31.37 283.51H32.35M37.18 286.20V286.67M37.18 286.20H39.50M37.18 286.67H39.50M35.94 287.81V288.27M35.94 287.81H39.50M35.94 288.27H39.50M33.93 287.20V288.04M33.93 287.20H39.50M33.93 288.04H35.94M33.53 286.43V287.62M33.53 286.43H37.18M33.53 287.62H33.93M34.77 288.67V289.13M34.77 288.67H39.50M34.77 289.13H39.50M35.52 290.02V290.57M35.52 290.02H39.50M35.52 290.57H39.50M33.93 289.60V290.30M33.93 289.60H39.50M33.93 290.30H35.52M33.53 288.90V289.95M33.53 288.90H34.77M33.53 289.95H33.93M33.13 287.03V289.42M33.13 287.03H33.53M33.13 289.42H33.53M30.97 282.15V288.23M30.97 282.15H31.37M30.97 288.23H33.13M34.47 291.06V291.54M34.47 291.06H39.50M34.47 291.54H39.50M32.91 291.30V292.21M32.91 291.30H34.47M32.91 292.21H39.50M36.11 293.31V293.85M36.11 293.31H39.50M36.11 293.85H39.50M35.71 292.76V293.58M35.71 292.76H39.50M35.71 293.58H36.11M37.23 294.20V294.64M37.23 294.20H39.50M37.23 294.64H39.50M33.59 294.42V295.14M33.59 294.42H37.23M33.59 295.14H39.50M32.91 293.17V294.78M32.91 293.17H35.71M32.91 294.78H33.59M32.51 291.76V293.98M32.51 291.76H32.91M32.51 293.98H32.91M34.74 296.36V296.86M34.74 296.36H39.50M34.74 296.86H39.50M34.34 295.79V296.61M34.34 295.79H39.50M34.34 296.61H34.74M35.54 297.50V297.94M35.54 297.50H39.50M35.54 297.94H39.50M32.77 296.20V297.72M32.77 296.20H34.34M32.77 297.72H35.54M35.53 298.25V298.76M35.53 298.25H39.50M35.53 298.76H39.50M35.58 299.36V299.98M35.58 299.36H39.50M35.58 299.98H39.50M33.26 299.67V300.66M33.26 299.67H35.58M33.26 300.66H39.50M32.77 298.51V300.16M32.77 298.51H35.53M32.77 300.16H33.26M32.37 296.96V299.33M32.37 296.96H32.77M32.37 299.33H32.77M36.17 301.28V301.80M36.17 301.28H39.50M36.17 301.80H39.50M34.77 302.25V302.80M34.77 302.25H39.50M34.77 302.80H39.50M35.86 303.46V304.19M35.86 303.46H39.50M35.86 304.19H39.50M32.35 302.53V303.83M32.35 302.53H34.77M32.35 303.83H35.86M31.01 301.54V303.18M31.01 301.54H36.17M31.01 303.18H32.35M28.98 298.15V302.36M28.98 298.15H32.37M28.98 302.36H31.01M25.06 292.87V300.25M25.06 292.87H32.51M25.06 300.25H28.98M36.05 305.30V305.74M36.05 305.30H39.50M36.05 305.74H39.50M34.94 304.83V305.52M34.94 304.83H39.50M34.94 305.52H36.05M34.15 306.15V306.67M34.15 306.15H39.50M34.15 306.67H39.50M36.74 307.18V307.62M36.74 307.18H39.50M36.74 307.62H39.50M34.68 307.40V308.28M34.68 307.40H36.74M34.68 308.28H39.50M35.10 308.98V309.65M35.10 308.98H39.50M35.10 309.65H39.50M29.74 307.84V309.32M29.74 307.84H34.68M29.74 309.32H35.10M28.98 306.41V308.58M28.98 306.41H34.15M28.98 308.58H29.74M27.62 305.17V307.49M27.62 305.17H34.94M27.62 307.49H28.98M35.99 310.22V310.80M35.99 310.22H39.50M35.99 310.80H39.50M32.40 310.51V311.59M32.40 310.51H35.99M32.40 311.59H39.50M27.22 306.33V311.05M27.22 306.33H27.62M27.22 311.05H32.40M24.66 296.56V308.69M24.66 296.56H25.06M24.66 308.69H27.22M21.80 285.19V302.63M21.80 285.19H30.97M21.80 302.63H24.66M34.13 312.22V312.86M34.13 312.22H39.50M34.13 312.86H39.50M36.61 313.86V314.34M36.61 313.86H39.50M36.61 314.34H39.50M33.87 313.49V314.10M33.87 313.49H39.50M33.87 314.10H36.61M35.50 315.35V315.93M35.50 315.35H39.50M35.50 315.93H39.50M33.87 314.93V315.64M33.87 314.93H39.50M33.87 315.64H35.50M33.47 313.80V315.29M33.47 313.80H33.87M33.47 315.29H33.87M33.07 312.54V314.54M33.07 312.54H34.13M33.07 314.54H33.47M34.99 316.74V317.52M34.99 316.74H39.50M34.99 317.52H39.50M34.59 317.13V318.22M34.59 317.13H34.99M34.59 318.22H39.50M28.35 313.54V317.68M28.35 313.54H33.07M28.35 317.68H34.59M35.72 319.25V319.79M35.72 319.25H39.50M35.72 319.79H39.50M34.95 318.73V319.52M34.95 318.73H39.50M34.95 319.52H35.72M34.22 320.41V321.09M34.22 320.41H39.50M34.22 321.09H39.50M33.82 320.75V321.62M33.82 320.75H34.22M33.82 321.62H39.50M30.83 319.13V321.18M30.83 319.13H34.95M30.83 321.18H33.82M36.37 322.14V322.82M36.37 322.14H39.50M36.37 322.82H39.50M35.92 323.53V324.08M35.92 323.53H39.50M35.92 324.08H39.50M30.83 322.48V323.81M30.83 322.48H36.37M30.83 323.81H35.92M30.43 320.15V323.14M30.43 320.15H30.83M30.43 323.14H30.83M27.95 315.61V321.65M27.95 315.61H28.35M27.95 321.65H30.43M33.58 324.73V325.48M33.58 324.73H39.50M33.58 325.48H39.50M33.18 325.11V326.23M33.18 325.11H33.58M33.18 326.23H39.50M36.42 326.88V327.34M36.42 326.88H39.50M36.42 327.34H39.50M32.39 327.11V327.99M32.39 327.11H36.42M32.39 327.99H39.50M34.50 328.70V329.28M34.50 328.70H39.50M34.50 329.28H39.50M35.08 329.75V330.28M35.08 329.75H39.50M35.08 330.28H39.50M32.90 330.01V330.84M32.90 330.01H35.08M32.90 330.84H39.50M36.73 331.18V331.66M36.73 331.18H39.50M36.73 331.66H39.50M30.11 330.43V331.42M30.11 330.43H32.90M30.11 331.42H36.73M29.71 328.99V330.92M29.71 328.99H34.50M29.71 330.92H30.11M29.31 327.55V329.96M29.31 327.55H32.39M29.31 329.96H29.71M24.12 325.67V328.75M24.12 325.67H33.18M24.12 328.75H29.31M21.80 318.63V327.21M21.80 318.63H27.95M21.80 327.21H24.12M16.60 293.91V322.92M16.60 293.91H21.80M16.60 322.92H21.80M13.10 261.24V308.41M13.10 261.24H21.10M13.10 308.41H16.60M12.00 189.12V284.83M12.00 189.12H16.20M12.00 284.83H13.10M11.60 102.43V236.97M11.60 102.43H16.20M11.60 236.97H12.00M36.14 332.74V333.24M36.14 332.74H39.50M36.14 333.24H39.50M35.74 332.24V332.99M35.74 332.24H39.50M35.74 332.99H36.14M31.95 333.91V334.71M31.95 333.91H39.50M31.95 334.71H39.50M28.84 332.61V334.31M28.84 332.61H35.74M28.84 334.31H31.95M36.96 335.40V335.88M36.96 335.40H39.50M36.96 335.88H39.50M34.21 335.64V336.42M34.21 335.64H36.96M34.21 336.42H39.50M33.81 336.03V337.10M33.81 336.03H34.21M33.81 337.10H39.50M33.53 338.44V339.06M33.53 338.44H39.50M33.53 339.06H39.50M31.55 337.80V338.75M31.55 337.80H39.50M31.55 338.75H33.53M31.15 336.57V338.27M31.15 336.57H33.81M31.15 338.27H31.55M27.47 333.46V337.42M27.47 333.46H28.84M27.47 337.42H31.15M34.12 339.79V340.39M34.12 339.79H39.50M34.12 340.39H39.50M35.50 340.85V341.32M35.50 340.85H39.50M35.50 341.32H39.50M34.52 341.97V342.66M34.52 341.97H39.50M34.52 342.66H39.50M34.12 341.09V342.31M34.12 341.09H35.50M34.12 342.31H34.52M33.72 340.09V341.70M33.72 340.09H34.12M33.72 341.70H34.12M36.73 343.25V343.75M36.73 343.25H39.50M36.73 343.75H39.50M35.80 344.17V344.71M35.80 344.17H39.50M35.80 344.71H39.50M35.36 343.50V344.44M35.36 343.50H36.73M35.36 344.44H35.80M36.27 345.35V345.91M36.27 345.35H39.50M36.27 345.91H39.50M34.24 343.97V345.63M34.24 343.97H35.36M34.24 345.63H36.27M25.74 340.90V344.80M25.74 340.90H33.72M25.74 344.80H34.24M36.88 346.83V347.26M36.88 346.83H39.50M36.88 347.26H39.50M36.48 346.39V347.04M36.48 346.39H39.50M36.48 347.04H36.88M35.45 347.68V348.16M35.45 347.68H39.50M35.45 348.16H39.50M32.36 346.72V347.92M32.36 346.72H36.48M32.36 347.92H35.45M34.88 348.66V349.17M34.88 348.66H39.50M34.88 349.17H39.50M33.33 348.92V349.74M33.33 348.92H34.88M33.33 349.74H39.50M36.03 350.27V350.77M36.03 350.27H39.50M36.03 350.77H39.50M32.95 350.52V351.27M32.95 350.52H36.03M32.95 351.27H39.50M32.39 350.90V351.75M32.39 350.90H32.95M32.39 351.75H39.50M31.99 349.33V351.32M31.99 349.33H33.33M31.99 351.32H32.39M31.57 347.32V350.33M31.57 347.32H32.36M31.57 350.33H31.99M24.15 342.85V348.82M24.15 342.85H25.74M24.15 348.82H31.57M20.00 335.44V345.84M20.00 335.44H27.47M20.00 345.84H24.15M35.51 352.35V352.99M35.51 352.35H39.50M35.51 352.99H39.50M34.74 352.67V353.66M34.74 352.67H35.51M34.74 353.66H39.50M36.00 354.16V354.60M36.00 354.16H39.50M36.00 354.60H39.50M34.34 353.16V354.38M34.34 353.16H34.74M34.34 354.38H36.00M34.91 355.21V355.86M34.91 355.21H39.50M34.91 355.86H39.50M36.28 357.26V357.79M36.28 357.26H39.50M36.28 357.79H39.50M36.24 358.27V358.78M36.24 358.27H39.50M36.24 358.78H39.50M32.11 357.52V358.53M32.11 357.52H36.28M32.11 358.53H36.24M31.71 356.62V358.03M31.71 356.62H39.50M31.71 358.03H32.11M29.29 355.53V357.32M29.29 355.53H34.91M29.29 357.32H31.71M28.89 353.77V356.43M28.89 353.77H34.34M28.89 356.43H29.29M34.14 359.36V359.92M34.14 359.36H39.50M34.14 359.92H39.50M31.31 359.64V360.62M31.31 359.64H34.14M31.31 360.62H39.50M36.59 361.30V361.85M36.59 361.30H39.50M36.59 361.85H39.50M33.50 361.58V362.41M33.50 361.58H36.59M33.50 362.41H39.50M37.01 362.90V363.44M37.01 362.90H39.50M37.01 363.44H39.50M35.87 363.17V363.98M35.87 363.17H37.01M35.87 363.98H39.50M33.10 361.99V363.57M33.10 361.99H33.50M33.10 363.57H35.87M36.21 364.99V365.50M36.21 364.99H39.50M36.21 365.50H39.50M32.69 364.51V365.24M32.69 364.51H39.50M32.69 365.24H36.21M26.31 362.78V364.88M26.31 362.78H33.10M26.31 364.88H32.69M25.11 360.13V363.83M25.11 360.13H31.31M25.11 363.83H26.31M21.54 355.10V361.98M21.54 355.10H28.89M21.54 361.98H25.11M34.78 366.10V366.58M34.78 366.10H39.50M34.78 366.58H39.50M36.79 367.15V367.62M36.79 367.15H39.50M36.79 367.62H39.50M36.38 368.09V368.58M36.38 368.09H39.50M36.38 368.58H39.50M33.52 367.38V368.34M33.52 367.38H36.79M33.52 368.34H36.38M33.12 367.86V369.11M33.12 367.86H33.52M33.12 369.11H39.50M30.29 366.34V368.48M30.29 366.34H34.78M30.29 368.48H33.12M37.09 370.60V371.03M37.09 370.60H39.50M37.09 371.03H39.50M33.53 369.89V370.82M33.53 369.89H39.50M33.53 370.82H37.09M36.95 371.83V372.32M36.95 371.83H39.50M36.95 372.32H39.50M35.78 371.35V372.08M35.78 371.35H39.50M35.78 372.08H36.95M34.53 372.71V373.23M34.53 372.71H39.50M34.53 373.23H39.50M34.07 371.71V372.97M34.07 371.71H35.78M34.07 372.97H34.53M33.53 372.34V373.93M33.53 372.34H34.07M33.53 373.93H39.50M33.13 370.36V373.14M33.13 370.36H33.53M33.13 373.14H33.53M26.42 367.41V371.75M26.42 367.41H30.29M26.42 371.75H33.13M36.86 375.69V376.14M36.86 375.69H39.50M36.86 376.14H39.50M35.05 375.33V375.91M35.05 375.33H39.50M35.05 375.91H36.86M32.72 375.62V376.65M32.72 375.62H35.05M32.72 376.65H39.50M31.89 374.74V376.14M31.89 374.74H39.50M31.89 376.14H32.72M34.70 377.23V377.78M34.70 377.23H39.50M34.70 377.78H39.50M31.49 375.44V377.51M31.49 375.44H31.89M31.49 377.51H34.70M26.02 369.58V376.47M26.02 369.58H26.42M26.02 376.47H31.49M19.00 358.54V373.03M19.00 358.54H21.54M19.00 373.03H26.02M15.40 340.64V365.78M15.40 340.64H20.00M15.40 365.78H19.00M35.73 379.11V379.71M35.73 379.11H39.50M35.73 379.71H39.50M32.53 378.34V379.41M32.53 378.34H39.50M32.53 379.41H35.73M34.23 380.28V380.96M34.23 380.28H39.50M34.23 380.96H39.50M32.13 378.88V380.62M32.13 378.88H32.53M32.13 380.62H34.23M35.76 381.58V382.03M35.76 381.58H39.50M35.76 382.03H39.50M35.99 382.48V383.19M35.99 382.48H39.50M35.99 383.19H39.50M33.21 381.81V382.84M33.21 381.81H35.76M33.21 382.84H35.99M31.73 379.75V382.32M31.73 379.75H32.13M31.73 382.32H33.21M35.89 383.81V384.41M35.89 383.81H39.50M35.89 384.41H39.50M35.22 384.11V385.14M35.22 384.11H35.89M35.22 385.14H39.50M36.27 385.76V386.28M36.27 385.76H39.50M36.27 386.28H39.50M32.93 384.62V386.02M32.93 384.62H35.22M32.93 386.02H36.27M36.67 387.63V388.22M36.67 387.63H39.50M36.67 388.22H39.50M34.15 387.93V388.73M34.15 387.93H36.67M34.15 388.73H39.50M33.75 386.93V388.33M33.75 386.93H39.50M33.75 388.33H34.15M29.80 385.32V387.63M29.80 385.32H32.93M29.80 387.63H33.75M36.47 389.20V389.65M36.47 389.20H39.50M36.47 389.65H39.50M35.34 389.42V390.18M35.34 389.42H36.47M35.34 390.18H39.50M35.62 390.77V391.28M35.62 390.77H39.50M35.62 391.28H39.50M33.82 391.03V391.82M33.82 391.03H35.62M33.82 391.82H39.50M33.42 389.80V391.42M33.42 389.80H35.34M33.42 391.42H33.82M34.15 392.43V393.07M34.15 392.43H39.50M34.15 393.07H39.50M33.42 392.75V393.69M33.42 392.75H34.15M33.42 393.69H39.50M33.02 390.61V393.22M33.02 390.61H33.42M33.02 393.22H33.42M29.40 386.48V391.91M29.40 386.48H29.80M29.40 391.91H33.02M22.00 381.04V389.20M22.00 381.04H31.73M22.00 389.20H29.40M34.94 394.99V395.60M34.94 394.99H39.50M34.94 395.60H39.50M34.54 394.34V395.30M34.54 394.34H39.50M34.54 395.30H34.94M35.60 396.05V396.57M35.60 396.05H39.50M35.60 396.57H39.50M30.00 394.82V396.31M30.00 394.82H34.54M30.00 396.31H35.60M36.01 397.15V397.78M36.01 397.15H39.50M36.01 397.78H39.50M32.47 397.47V398.49M32.47 397.47H36.01M32.47 398.49H39.50M35.34 399.42V399.98M35.34 399.42H39.50M35.34 399.98H39.50M33.90 398.97V399.70M33.90 398.97H39.50M33.90 399.70H35.34M29.37 397.98V399.34M29.37 397.98H32.47M29.37 399.34H33.90M28.71 395.56V398.66M28.71 395.56H30.00M28.71 398.66H29.37M35.46 400.44V400.88M35.46 400.44H39.50M35.46 400.88H39.50M31.94 400.66V401.57M31.94 400.66H35.46M31.94 401.57H39.50M35.26 402.25V402.94M35.26 402.25H39.50M35.26 402.94H39.50M37.26 403.63V404.07M37.26 403.63H39.50M37.26 404.07H39.50M34.85 403.85V404.58M34.85 403.85H37.26M34.85 404.58H39.50M35.69 405.16V405.79M35.69 405.16H39.50M35.69 405.79H39.50M34.45 404.21V405.47M34.45 404.21H34.85M34.45 405.47H35.69M31.29 402.59V404.84M31.29 402.59H35.26M31.29 404.84H34.45M30.89 401.11V403.72M30.89 401.11H31.94M30.89 403.72H31.29M35.34 406.94V407.54M35.34 406.94H39.50M35.34 407.54H39.50M34.52 406.44V407.24M34.52 406.44H39.50M34.52 407.24H35.34M34.12 406.84V408.30M34.12 406.84H34.52M34.12 408.30H39.50M32.35 409.09V409.83M32.35 409.09H39.50M32.35 409.83H39.50M35.62 411.13V411.57M35.62 411.13H39.50M35.62 411.57H39.50M35.03 410.61V411.35M35.03 410.61H39.50M35.03 411.35H35.62M36.80 412.07V412.56M36.80 412.07H39.50M36.80 412.56H39.50M34.63 410.98V412.31M34.63 410.98H35.03M34.63 412.31H36.80M29.63 409.46V411.65M29.63 409.46H32.35M29.63 411.65H34.63M29.23 407.57V410.55M29.23 407.57H34.12M29.23 410.55H29.63M28.83 402.42V409.06M28.83 402.42H30.89M28.83 409.06H29.23M28.31 397.11V405.74M28.31 397.11H28.71M28.31 405.74H28.83M35.46 413.57V414.02M35.46 413.57H39.50M35.46 414.02H39.50M33.92 413.79V414.58M33.92 413.79H35.46M33.92 414.58H39.50M33.52 413.13V414.19M33.52 413.13H39.50M33.52 414.19H33.92M35.13 415.12V415.68M35.13 415.12H39.50M35.13 415.68H39.50M35.16 416.25V416.91M35.16 416.25H39.50M35.16 416.91H39.50M34.59 416.58V417.56M34.59 416.58H35.16M34.59 417.56H39.50M34.15 415.40V417.07M34.15 415.40H35.13M34.15 417.07H34.59M32.36 413.66V416.23M32.36 413.66H33.52M32.36 416.23H34.15M35.44 418.60V419.19M35.44 418.60H39.50M35.44 419.19H39.50M33.74 418.04V418.89M33.74 418.04H39.50M33.74 418.89H35.44M33.34 418.47V419.72M33.34 418.47H33.74M33.34 419.72H39.50M25.91 414.95V419.09M25.91 414.95H32.36M25.91 419.09H33.34M21.00 401.42V417.02M21.00 401.42H28.31M21.00 417.02H25.91M18.50 385.12V409.22M18.50 385.12H22.00M18.50 409.22H21.00M34.59 421.04V421.58M34.59 421.04H39.50M34.59 421.58H39.50M33.76 420.42V421.31M33.76 420.42H39.50M33.76 421.31H34.59M37.01 422.07V422.51M37.01 422.07H39.50M37.01 422.51H39.50M34.89 423.02V423.61M34.89 423.02H39.50M34.89 423.61H39.50M31.26 422.29V423.31M31.26 422.29H37.01M31.26 423.31H34.89M30.69 420.87V422.80M30.69 420.87H33.76M30.69 422.80H31.26M35.16 424.91V425.51M35.16 424.91H39.50M35.16 425.51H39.50M31.57 424.33V425.21M31.57 424.33H39.50M31.57 425.21H35.16M30.29 421.84V424.77M30.29 421.84H30.69M30.29 424.77H31.57M33.73 426.14V426.83M33.73 426.14H39.50M33.73 426.83H39.50M36.94 427.46V427.92M36.94 427.46H39.50M36.94 427.92H39.50M35.72 429.06V429.62M35.72 429.06H39.50M35.72 429.62H39.50M33.88 428.52V429.34M33.88 428.52H39.50M33.88 429.34H35.72M33.48 428.93V430.38M33.48 428.93H33.88M33.48 430.38H39.50M32.33 427.69V429.65M32.33 427.69H36.94M32.33 429.65H33.48M31.93 426.48V428.67M31.93 426.48H33.73M31.93 428.67H32.33M34.93 431.11V431.63M34.93 431.11H39.50M34.93 431.63H39.50M34.46 431.37V432.09M34.46 431.37H34.93M34.46 432.09H39.50M33.22 431.73V432.71M33.22 431.73H34.46M33.22 432.71H39.50M24.06 427.58V432.22M24.06 427.58H31.93M24.06 432.22H33.22M35.63 434.46V434.89M35.63 434.46H39.50M35.63 434.89H39.50M34.26 433.94V434.68M34.26 433.94H39.50M34.26 434.68H35.63M33.86 433.33V434.31M33.86 433.33H39.50M33.86 434.31H34.26M36.25 435.87V436.47M36.25 435.87H39.50M36.25 436.47H39.50M34.33 435.33V436.17M34.33 435.33H39.50M34.33 436.17H36.25M35.87 437.04V437.60M35.87 437.04H39.50M35.87 437.60H39.50M35.17 438.18V438.68M35.17 438.18H39.50M35.17 438.68H39.50M36.14 439.11V439.73M36.14 439.11H39.50M36.14 439.73H39.50M36.93 440.38V440.83M36.93 440.38H39.50M36.93 440.83H39.50M34.08 439.42V440.60M34.08 439.42H36.14M34.08 440.60H36.93M32.49 438.43V440.01M32.49 438.43H35.17M32.49 440.01H34.08M32.09 437.32V439.22M32.09 437.32H35.87M32.09 439.22H32.49M29.94 435.75V438.27M29.94 435.75H34.33M29.94 438.27H32.09M26.29 433.82V437.01M26.29 433.82H33.86M26.29 437.01H29.94M23.36 429.90V435.42M23.36 429.90H24.06M23.36 435.42H26.29M21.00 423.30V432.66M21.00 423.30H30.29M21.00 432.66H23.36M36.62 441.34V441.93M36.62 441.34H39.50M36.62 441.93H39.50M35.66 442.42V442.99M35.66 442.42H39.50M35.66 442.99H39.50M35.66 443.63V444.13M35.66 443.63H39.50M35.66 444.13H39.50M35.26 442.71V443.88M35.26 442.71H35.66M35.26 443.88H35.66M32.49 441.64V443.29M32.49 441.64H36.62M32.49 443.29H35.26M35.84 444.54V444.99M35.84 444.54H39.50M35.84 444.99H39.50M35.80 445.57V446.33M35.80 445.57H39.50M35.80 446.33H39.50M32.72 444.76V445.95M32.72 444.76H35.84M32.72 445.95H35.80M35.31 447.50V448.12M35.31 447.50H39.50M35.31 448.12H39.50M32.72 447.00V447.81M32.72 447.00H39.50M32.72 447.81H35.31M32.32 445.36V447.41M32.32 445.36H32.72M32.32 447.41H32.72M32.89 448.91V449.76M32.89 448.91H39.50M32.89 449.76H39.50M30.28 446.38V449.34M30.28 446.38H32.32M30.28 449.34H32.89M28.39 442.46V447.86M28.39 442.46H32.49M28.39 447.86H30.28M36.15 451.25V451.92M36.15 451.25H39.50M36.15 451.92H39.50M34.58 450.58V451.58M34.58 450.58H39.50M34.58 451.58H36.15M36.67 452.61V453.12M36.67 452.61H39.50M36.67 453.12H39.50M34.78 453.64V454.24M34.78 453.64H39.50M34.78 454.24H39.50M33.01 452.86V453.94M33.01 452.86H36.67M33.01 453.94H34.78M32.61 451.08V453.40M32.61 451.08H34.58M32.61 453.40H33.01M35.96 455.35V455.99M35.96 455.35H39.50M35.96 455.99H39.50M35.56 454.76V455.67M35.56 454.76H39.50M35.56 455.67H35.96M35.87 456.43V456.99M35.87 456.43H39.50M35.87 456.99H39.50M35.90 457.65V458.25M35.90 457.65H39.50M35.90 458.25H39.50M34.12 456.71V457.95M34.12 456.71H35.87M34.12 457.95H35.90M33.72 455.22V457.33M33.72 455.22H35.56M33.72 457.33H34.12M34.59 459.51V460.09M34.59 459.51H39.50M34.59 460.09H39.50M33.02 458.95V459.80M33.02 458.95H39.50M33.02 459.80H34.59M32.58 459.37V460.89M32.58 459.37H33.02M32.58 460.89H39.50M29.31 456.27V460.13M29.31 456.27H33.72M29.31 460.13H32.58M23.02 452.24V458.20M23.02 452.24H32.61M23.02 458.20H29.31M22.50 445.16V455.22M22.50 445.16H28.39M22.50 455.22H23.02M17.60 427.98V450.19M17.60 427.98H21.00M17.60 450.19H22.50M14.10 397.17V439.09M14.10 397.17H18.50M14.10 439.09H17.60M11.20 353.21V418.13M11.20 353.21H15.40M11.20 418.13H14.10M2.00 169.70V385.67M2.00 169.70H11.60M2.00 385.67H11.20M381.21 60.73V61.22M381.21 60.73H386.10M381.21 61.22H386.10M380.41 61.74V62.29M380.41 61.74H386.10M380.41 62.29H386.10M380.01 60.97V62.02M380.01 60.97H381.21M380.01 62.02H380.41M380.15 62.98V63.57M380.15 62.98H386.10M380.15 63.57H386.10M379.75 63.27V64.25M379.75 63.27H380.15M379.75 64.25H386.10M374.87 61.49V63.76M374.87 61.49H380.01M374.87 63.76H379.75M379.60 65.00V65.68M379.60 65.00H386.10M379.60 65.68H386.10M376.44 65.34V66.40M376.44 65.34H379.60M376.44 66.40H386.10M380.75 66.95V67.44M380.75 66.95H386.10M380.75 67.44H386.10M379.04 67.20V68.15M379.04 67.20H380.75M379.04 68.15H386.10M376.04 65.87V67.67M376.04 65.87H376.44M376.04 67.67H379.04M378.60 68.76V69.29M378.60 68.76H386.10M378.60 69.29H386.10M379.06 69.88V70.44M379.06 69.88H386.10M379.06 70.44H386.10M376.46 69.02V70.16M376.46 69.02H378.60M376.46 70.16H379.06M375.64 66.77V69.59M375.64 66.77H376.04M375.64 69.59H376.46M380.81 71.09V71.73M380.81 71.09H386.10M380.81 71.73H386.10M382.00 72.07V72.50M382.00 72.07H386.10M382.00 72.50H386.10M381.15 73.76V74.25M381.15 73.76H386.10M381.15 74.25H386.10M380.75 73.12V74.01M380.75 73.12H386.10M380.75 74.01H381.15M379.69 72.28V73.56M379.69 72.28H382.00M379.69 73.56H380.75M379.29 71.41V72.92M379.29 71.41H380.81M379.29 72.92H379.69M373.69 68.18V72.17M373.69 68.18H375.64M373.69 72.17H379.29M367.80 62.63V70.17M367.80 62.63H374.87M367.80 70.17H373.69M378.76 74.60V75.06M378.76 74.60H386.10M378.76 75.06H386.10M378.98 76.07V76.55M378.98 76.07H386.10M378.98 76.55H386.10M378.58 75.56V76.31M378.58 75.56H386.10M378.58 76.31H378.98M378.16 74.83V75.94M378.16 74.83H378.76M378.16 75.94H378.58M381.18 77.15V77.70M381.18 77.15H386.10M381.18 77.70H386.10M379.61 77.43V78.06M379.61 77.43H381.18M379.61 78.06H386.10M379.21 77.74V78.59M379.21 77.74H379.61M379.21 78.59H386.10M379.33 79.06V79.60M379.33 79.06H386.10M379.33 79.60H386.10M377.84 78.17V79.33M377.84 78.17H379.21M377.84 79.33H379.33M371.19 75.38V78.75M371.19 75.38H378.16M371.19 78.75H377.84M367.40 66.40V77.07M367.40 66.40H367.80M367.40 77.07H371.19M381.37 80.35V80.83M381.37 80.35H386.10M381.37 80.83H386.10M380.09 81.15V81.66M380.09 81.15H386.10M380.09 81.66H386.10M379.69 80.59V81.41M379.69 80.59H381.37M379.69 81.41H380.09M380.73 83.75V84.35M380.73 83.75H386.10M380.73 84.35H386.10M380.33 83.07V84.05M380.33 83.07H386.10M380.33 84.05H380.73M379.93 82.38V83.56M379.93 82.38H386.10M379.93 83.56H380.33M377.85 81.00V82.97M377.85 81.00H379.69M377.85 82.97H379.93M380.12 84.80V85.31M380.12 84.80H386.10M380.12 85.31H386.10M378.65 86.63V87.12M378.65 86.63H386.10M378.65 87.12H386.10M378.25 85.94V86.87M378.25 85.94H386.10M378.25 86.87H378.65M377.85 85.05V86.41M377.85 85.05H380.12M377.85 86.41H378.25M377.45 81.98V85.73M377.45 81.98H377.85M377.45 85.73H377.85M379.34 87.54V87.98M379.34 87.54H386.10M379.34 87.98H386.10M378.25 88.37V88.89M378.25 88.37H386.10M378.25 88.89H386.10M377.85 87.76V88.63M377.85 87.76H379.34M377.85 88.63H378.25M377.45 88.19V89.64M377.45 88.19H377.85M377.45 89.64H386.10M377.05 83.86V88.92M377.05 83.86H377.45M377.05 88.92H377.45M379.18 90.71V91.22M379.18 90.71H386.10M379.18 91.22H386.10M378.43 90.28V90.96M378.43 90.28H386.10M378.43 90.96H379.18M377.85 91.85V92.50M377.85 91.85H386.10M377.85 92.50H386.10M377.45 90.62V92.17M377.45 90.62H378.43M377.45 92.17H377.85M381.04 93.85V94.36M381.04 93.85H386.10M381.04 94.36H386.10M379.73 94.85V95.32M379.73 94.85H386.10M379.73 95.32H386.10M378.94 94.11V95.09M378.94 94.11H381.04M378.94 95.09H379.73M378.54 93.20V94.60M378.54 93.20H386.10M378.54 94.60H378.94M377.85 95.99V96.68M377.85 95.99H386.10M377.85 96.68H386.10M377.45 93.90V96.34M377.45 93.90H378.54M377.45 96.34H377.85M377.05 91.40V95.12M377.05 91.40H377.45M377.05 95.12H377.45M376.65 86.39V93.26M376.65 86.39H377.05M376.65 93.26H377.05M381.49 97.18V97.66M381.49 97.18H386.10M381.49 97.66H386.10M376.37 97.42V98.24M376.37 97.42H381.49M376.37 98.24H386.10M380.88 98.96V99.75M380.88 98.96H386.10M380.88 99.75H386.10M379.35 100.44V100.99M379.35 100.44H386.10M379.35 100.99H386.10M378.76 100.72V101.63M378.76 100.72H379.35M378.76 101.63H386.10M378.36 99.35V101.17M378.36 99.35H380.88M378.36 101.17H378.76M375.97 97.83V100.26M375.97 97.83H376.37M375.97 100.26H378.36M378.08 102.31V102.88M378.08 102.31H386.10M378.08 102.88H386.10M378.58 103.35V103.92M378.58 103.35H386.10M378.58 103.92H386.10M375.97 102.59V103.63M375.97 102.59H378.08M375.97 103.63H378.58M380.50 105.28V105.73M380.50 105.28H386.10M380.50 105.73H386.10M379.29 104.62V105.50M379.29 104.62H386.10M379.29 105.50H380.50M378.40 105.06V106.19M378.40 105.06H379.29M378.40 106.19H386.10M381.88 107.27V107.75M381.88 107.27H386.10M381.88 107.75H386.10M378.18 106.79V107.51M378.18 106.79H386.10M378.18 107.51H381.88M380.18 108.94V109.44M380.18 108.94H386.10M380.18 109.44H386.10M379.78 108.37V109.19M379.78 108.37H386.10M379.78 109.19H380.18M377.78 107.15V108.78M377.78 107.15H378.18M377.78 108.78H379.78M375.97 105.62V107.97M375.97 105.62H378.40M375.97 107.97H377.78M375.57 103.11V106.79M375.57 103.11H375.97M375.57 106.79H375.97M379.61 109.92V110.52M379.61 109.92H386.10M379.61 110.52H386.10M378.05 111.24V111.76M378.05 111.24H386.10M378.05 111.76H386.10M377.65 110.22V111.50M377.65 110.22H379.61M377.65 111.50H378.05M378.94 112.71V113.40M378.94 112.71H386.10M378.94 113.40H386.10M378.54 112.18V113.05M378.54 112.18H386.10M378.54 113.05H378.94M381.22 114.44V114.93M381.22 114.44H386.10M381.22 114.93H386.10M380.82 114.02V114.68M380.82 114.02H386.10M380.82 114.68H381.22M380.66 115.35V115.88M380.66 115.35H386.10M380.66 115.88H386.10M378.94 115.61V116.63M378.94 115.61H380.66M378.94 116.63H386.10M378.54 114.35V116.12M378.54 114.35H380.82M378.54 116.12H378.94M378.14 112.62V115.24M378.14 112.62H378.54M378.14 115.24H378.54M370.07 110.86V113.93M370.07 110.86H377.65M370.07 113.93H378.14M368.48 104.95V112.39M368.48 104.95H375.57M368.48 112.39H370.07M367.13 99.05V108.67M367.13 99.05H375.97M367.13 108.67H368.48M364.90 89.82V103.86M364.90 89.82H376.65M364.90 103.86H367.13M362.40 71.73V96.84M362.40 71.73H367.40M362.40 96.84H364.90M381.56 117.89V118.45M381.56 117.89H386.10M381.56 118.45H386.10M377.82 117.26V118.17M377.82 117.26H386.10M377.82 118.17H381.56M379.92 118.86V119.52M379.92 118.86H386.10M379.92 119.52H386.10M375.33 117.71V119.19M375.33 117.71H377.82M375.33 119.19H379.92M380.26 120.25V120.85M380.26 120.25H386.10M380.26 120.85H386.10M380.33 121.34V121.80M380.33 121.34H386.10M380.33 121.80H386.10M378.21 121.57V122.29M378.21 121.57H380.33M378.21 122.29H386.10M375.33 120.55V121.93M375.33 120.55H380.26M375.33 121.93H378.21M374.93 118.45V121.24M374.93 118.45H375.33M374.93 121.24H375.33M378.10 123.45V123.89M378.10 123.45H386.10M378.10 123.89H386.10M377.35 123.67V124.34M377.35 123.67H378.10M377.35 124.34H386.10M376.21 122.91V124.00M376.21 122.91H386.10M376.21 124.00H377.35M376.29 124.81V125.54M376.29 124.81H386.10M376.29 125.54H386.10M374.50 123.46V125.17M374.50 123.46H376.21M374.50 125.17H376.29M372.10 119.85V124.32M372.10 119.85H374.93M372.10 124.32H374.50M380.58 126.29V126.82M380.58 126.29H386.10M380.58 126.82H386.10M379.53 127.81V128.25M379.53 127.81H386.10M379.53 128.25H386.10M379.13 127.30V128.03M379.13 127.30H386.10M379.13 128.03H379.53M380.53 128.68V129.30M380.53 128.68H386.10M380.53 129.30H386.10M378.48 127.66V128.99M378.48 127.66H379.13M378.48 128.99H380.53M378.08 126.56V128.33M378.08 126.56H380.58M378.08 128.33H378.48M378.63 130.05V130.65M378.63 130.05H386.10M378.63 130.65H386.10M379.86 131.31V131.87M379.86 131.31H386.10M379.86 131.87H386.10M377.14 130.35V131.59M377.14 130.35H378.63M377.14 131.59H379.86M379.49 132.24V132.68M379.49 132.24H386.10M379.49 132.68H386.10M377.14 132.46V133.07M377.14 132.46H379.49M377.14 133.07H386.10M376.74 130.97V132.76M376.74 130.97H377.14M376.74 132.76H377.14M375.24 127.44V131.87M375.24 127.44H378.08M375.24 131.87H376.74M381.73 133.47V134.03M381.73 133.47H386.10M381.73 134.03H386.10M381.78 134.65V135.17M381.78 134.65H386.10M381.78 135.17H386.10M381.38 134.91V135.56M381.38 134.91H381.78M381.38 135.56H386.10M375.64 133.75V135.24M375.64 133.75H381.73M375.64 135.24H381.38M380.84 135.90V136.43M380.84 135.90H386.10M380.84 136.43H386.10M381.59 137.05V137.57M381.59 137.05H386.10M381.59 137.57H386.10M380.44 136.16V137.31M380.44 136.16H380.84M380.44 137.31H381.59M378.70 138.61V139.18M378.70 138.61H386.10M378.70 139.18H386.10M377.99 138.10V138.89M377.99 138.10H386.10M377.99 138.89H378.70M377.59 136.74V138.50M377.59 136.74H380.44M377.59 138.50H377.99M379.58 139.91V140.66M379.58 139.91H386.10M379.58 140.66H386.10M379.58 141.23V141.82M379.58 141.23H386.10M379.58 141.82H386.10M379.18 140.28V141.53M379.18 140.28H379.58M379.18 141.53H379.58M375.64 137.62V140.90M375.64 137.62H377.59M375.64 140.90H379.18M375.24 134.49V139.26M375.24 134.49H375.64M375.24 139.26H375.64M374.84 129.65V136.88M374.84 129.65H375.24M374.84 136.88H375.24M380.83 142.57V143.06M380.83 142.57H386.10M380.83 143.06H386.10M378.57 142.82V143.47M378.57 142.82H380.83M378.57 143.47H386.10M379.25 144.52V144.99M379.25 144.52H386.10M379.25 144.99H386.10M378.85 144.76V145.72M378.85 144.76H379.25M378.85 145.72H386.10M378.45 144.06V145.24M378.45 144.06H386.10M378.45 145.24H378.85M378.05 143.14V144.65M378.05 143.14H378.57M378.05 144.65H378.45M378.85 146.28V146.76M378.85 146.28H386.10M378.85 146.76H386.10M381.46 147.84V148.36M381.46 147.84H386.10M381.46 148.36H386.10M381.06 147.31V148.10M381.06 147.31H386.10M381.06 148.10H381.46M378.85 147.71V148.93M378.85 147.71H381.06M378.85 148.93H386.10M378.45 146.52V148.32M378.45 146.52H378.85M378.45 148.32H378.85M378.85 149.70V150.49M378.85 149.70H386.10M378.85 150.49H386.10M378.45 150.10V151.18M378.45 150.10H378.85M378.45 151.18H386.10M378.05 147.42V150.64M378.05 147.42H378.45M378.05 150.64H378.45M377.65 143.89V149.03M377.65 143.89H378.05M377.65 149.03H378.05M374.44 133.27V146.46M374.44 133.27H374.84M374.44 146.46H377.65M366.48 122.08V139.86M366.48 122.08H372.10M366.48 139.86H374.44M381.15 151.67V152.22M381.15 151.67H386.10M381.15 152.22H386.10M376.89 151.94V152.86M376.89 151.94H381.15M376.89 152.86H386.10M381.81 153.29V153.80M381.81 153.29H386.10M381.81 153.80H386.10M376.40 152.40V153.55M376.40 152.40H376.89M376.40 153.55H381.81M382.49 154.46V154.89M382.49 154.46H386.10M382.49 154.89H386.10M381.19 154.68V155.19M381.19 154.68H382.49M381.19 155.19H386.10M379.64 154.93V155.77M379.64 154.93H381.19M379.64 155.77H386.10M376.00 152.97V155.35M376.00 152.97H376.40M376.00 155.35H379.64M379.08 156.53V157.04M379.08 156.53H386.10M379.08 157.04H386.10M380.29 157.34V157.83M380.29 157.34H386.10M380.29 157.83H386.10M378.68 156.78V157.59M378.68 156.78H379.08M378.68 157.59H380.29M379.19 158.40V158.94M379.19 158.40H386.10M379.19 158.94H386.10M376.80 157.19V158.67M376.80 157.19H378.68M376.80 158.67H379.19M380.84 159.58V160.07M380.84 159.58H386.10M380.84 160.07H386.10M380.44 159.83V160.57M380.44 159.83H380.84M380.44 160.57H386.10M376.40 157.93V160.20M376.40 157.93H376.80M376.40 160.20H380.44M378.44 161.08V161.57M378.44 161.08H386.10M378.44 161.57H386.10M379.63 162.69V163.14M379.63 162.69H386.10M379.63 163.14H386.10M378.79 162.91V163.54M378.79 162.91H379.63M378.79 163.54H386.10M376.80 162.19V163.23M376.80 162.19H386.10M376.80 163.23H378.79M376.40 161.32V162.71M376.40 161.32H378.44M376.40 162.71H376.80M376.00 159.06V162.02M376.00 159.06H376.40M376.00 162.02H376.40M375.60 154.16V160.54M375.60 154.16H376.00M375.60 160.54H376.00M366.08 130.97V157.35M366.08 130.97H366.48M366.08 157.35H375.60M380.12 164.30V164.75M380.12 164.30H386.10M380.12 164.75H386.10M376.78 163.91V164.53M376.78 163.91H386.10M376.78 164.53H380.12M376.30 164.22V165.26M376.30 164.22H376.78M376.30 165.26H386.10M379.97 166.38V166.85M379.97 166.38H386.10M379.97 166.85H386.10M377.42 165.76V166.61M377.42 165.76H386.10M377.42 166.61H379.97M375.90 164.74V166.19M375.90 164.74H376.30M375.90 166.19H377.42M381.51 167.18V167.74M381.51 167.18H386.10M381.51 167.74H386.10M379.54 167.46V168.41M379.54 167.46H381.51M379.54 168.41H386.10M375.50 165.46V167.94M375.50 165.46H375.90M375.50 167.94H379.54M378.62 169.66V170.34M378.62 169.66H386.10M378.62 170.34H386.10M375.90 169.07V170.00M375.90 169.07H386.10M375.90 170.00H378.62M381.75 171.72V172.17M381.75 171.72H386.10M381.75 172.17H386.10M377.97 171.94V172.65M377.97 171.94H381.75M377.97 172.65H386.10M377.57 172.30V173.17M377.57 172.30H377.97M377.57 173.17H386.10M377.17 171.13V172.73M377.17 171.13H386.10M377.17 172.73H377.57M375.50 169.54V171.93M375.50 169.54H375.90M375.50 171.93H377.17M375.10 166.70V170.73M375.10 166.70H375.50M375.10 170.73H375.50M380.21 173.72V174.18M380.21 173.72H386.10M380.21 174.18H386.10M376.14 173.95V174.64M376.14 173.95H380.21M376.14 174.64H386.10M380.73 175.33V176.15M380.73 175.33H386.10M380.73 176.15H386.10M380.83 176.84V177.27M380.83 176.84H386.10M380.83 177.27H386.10M379.19 177.06V177.75M379.19 177.06H380.83M379.19 177.75H386.10M377.94 177.40V178.46M377.94 177.40H379.19M377.94 178.46H386.10M377.54 175.74V177.93M377.54 175.74H380.73M377.54 177.93H377.94M375.50 174.29V176.84M375.50 174.29H376.14M375.50 176.84H377.54M378.01 179.56V180.07M378.01 179.56H386.10M378.01 180.07H386.10M376.72 179.05V179.82M376.72 179.05H386.10M376.72 179.82H378.01M381.07 180.64V181.16M381.07 180.64H386.10M381.07 181.16H386.10M380.67 180.90V181.60M380.67 180.90H381.07M380.67 181.60H386.10M378.36 182.29V182.85M378.36 182.29H386.10M378.36 182.85H386.10M376.36 181.25V182.57M376.36 181.25H380.67M376.36 182.57H378.36M375.96 179.43V181.91M375.96 179.43H376.72M375.96 181.91H376.36M375.10 175.56V180.67M375.10 175.56H375.50M375.10 180.67H375.96M374.70 168.72V178.12M374.70 168.72H375.10M374.70 178.12H375.10M365.40 144.16V173.42M365.40 144.16H366.08M365.40 173.42H374.70M381.08 183.77V184.22M381.08 183.77H386.10M381.08 184.22H386.10M380.53 183.32V183.99M380.53 183.32H386.10M380.53 183.99H381.08M381.14 184.87V185.39M381.14 184.87H386.10M381.14 185.39H386.10M381.14 185.89V186.43M381.14 185.89H386.10M381.14 186.43H386.10M380.74 185.13V186.16M380.74 185.13H381.14M380.74 186.16H381.14M375.13 183.66V185.64M375.13 183.66H380.53M375.13 185.64H380.74M380.27 187.31V187.83M380.27 187.31H386.10M380.27 187.83H386.10M379.87 186.89V187.57M379.87 186.89H386.10M379.87 187.57H380.27M378.03 187.23V188.53M378.03 187.23H379.87M378.03 188.53H386.10M372.21 184.65V187.88M372.21 184.65H375.13M372.21 187.88H378.03M381.26 189.28V189.92M381.26 189.28H386.10M381.26 189.92H386.10M378.99 191.35V191.85M378.99 191.35H386.10M378.99 191.85H386.10M377.47 191.60V192.15M377.47 191.60H378.99M377.47 192.15H386.10M377.07 190.58V191.88M377.07 190.58H386.10M377.07 191.88H377.47M376.67 189.60V191.23M376.67 189.60H381.26M376.67 191.23H377.07M381.79 192.60V193.04M381.79 192.60H386.10M381.79 193.04H386.10M377.31 192.82V193.36M377.31 192.82H381.79M377.31 193.36H386.10M376.02 190.41V193.09M376.02 190.41H376.67M376.02 193.09H377.31M371.81 186.27V191.75M371.81 186.27H372.21M371.81 191.75H376.02M380.62 194.06V194.53M380.62 194.06H386.10M380.62 194.53H386.10M378.60 193.70V194.30M378.60 193.70H386.10M378.60 194.30H380.62M377.52 195.19V195.78M377.52 195.19H386.10M377.52 195.78H386.10M375.51 194.00V195.48M375.51 194.00H378.60M375.51 195.48H377.52M381.86 196.61V197.12M381.86 196.61H386.10M381.86 197.12H386.10M379.53 196.22V196.86M379.53 196.22H386.10M379.53 196.86H381.86M374.70 194.74V196.54M374.70 194.74H375.51M374.70 196.54H379.53M371.41 189.01V195.64M371.41 189.01H371.81M371.41 195.64H374.70M379.91 197.76V198.36M379.91 197.76H386.10M379.91 198.36H386.10M380.31 199.02V199.54M380.31 199.02H386.10M380.31 199.54H386.10M379.91 199.28V200.03M379.91 199.28H380.31M379.91 200.03H386.10M379.51 198.06V199.66M379.51 198.06H379.91M379.51 199.66H379.91M379.97 200.65V201.13M379.97 200.65H386.10M379.97 201.13H386.10M378.56 201.60V202.05M378.56 201.60H386.10M378.56 202.05H386.10M377.11 201.83V202.49M377.11 201.83H378.56M377.11 202.49H386.10M375.46 200.89V202.16M375.46 200.89H379.97M375.46 202.16H377.11M377.40 203.14V203.85M377.40 203.14H386.10M377.40 203.85H386.10M375.06 201.53V203.50M375.06 201.53H375.46M375.06 203.50H377.40M374.66 198.86V202.51M374.66 198.86H379.51M374.66 202.51H375.06M380.87 204.34V204.84M380.87 204.34H386.10M380.87 204.84H386.10M380.47 204.59V205.40M380.47 204.59H380.87M380.47 205.40H386.10M381.96 206.02V206.54M381.96 206.02H386.10M381.96 206.54H386.10M378.94 205.00V206.28M378.94 205.00H380.47M378.94 206.28H381.96M379.90 207.40V207.88M379.90 207.40H386.10M379.90 207.88H386.10M378.96 206.96V207.64M378.96 206.96H386.10M378.96 207.64H379.90M378.96 208.55V209.19M378.96 208.55H386.10M378.96 209.19H386.10M378.56 207.30V208.87M378.56 207.30H378.96M378.56 208.87H378.96M378.16 205.64V208.08M378.16 205.64H378.94M378.16 208.08H378.56M380.36 210.14V210.65M380.36 210.14H386.10M380.36 210.65H386.10M378.56 209.74V210.39M378.56 209.74H386.10M378.56 210.39H380.36M380.84 212.16V212.64M380.84 212.16H386.10M380.84 212.64H386.10M380.44 211.42V212.40M380.44 211.42H386.10M380.44 212.40H380.84M378.16 210.07V211.91M378.16 210.07H378.56M378.16 211.91H380.44M377.76 206.86V210.99M377.76 206.86H378.16M377.76 210.99H378.16M378.08 213.88V214.58M378.08 213.88H386.10M378.08 214.58H386.10M375.25 213.20V214.23M375.25 213.20H386.10M375.25 214.23H378.08M381.37 215.65V216.14M381.37 215.65H386.10M381.37 216.14H386.10M380.97 215.26V215.89M380.97 215.26H386.10M380.97 215.89H381.37M380.74 217.20V217.74M380.74 217.20H386.10M380.74 217.74H386.10M380.34 216.68V217.47M380.34 216.68H386.10M380.34 217.47H380.74M380.31 218.50V218.99M380.31 218.50H386.10M380.31 218.99H386.10M379.44 218.12V218.74M379.44 218.12H386.10M379.44 218.74H380.31M379.04 217.07V218.43M379.04 217.07H380.34M379.04 218.43H379.44M377.66 215.58V217.75M377.66 215.58H380.97M377.66 217.75H379.04M374.38 213.72V216.66M374.38 213.72H375.25M374.38 216.66H377.66M370.63 208.92V215.19M370.63 208.92H377.76M370.63 215.19H374.38M370.23 200.69V212.06M370.23 200.69H374.66M370.23 212.06H370.63M363.40 192.32V206.37M363.40 192.32H371.41M363.40 206.37H370.23M381.40 219.40V219.83M381.40 219.40H386.10M381.40 219.83H386.10M380.34 220.49V221.19M380.34 220.49H386.10M380.34 221.19H386.10M379.94 220.84V221.89M379.94 220.84H380.34M379.94 221.89H386.10M379.51 219.62V221.36M379.51 219.62H381.40M379.51 221.36H379.94M379.49 222.44V222.88M379.49 222.44H386.10M379.49 222.88H386.10M380.98 223.40V224.05M380.98 223.40H386.10M380.98 224.05H386.10M382.18 224.62V225.13M382.18 224.62H386.10M382.18 225.13H386.10M380.58 223.72V224.88M380.58 223.72H380.98M380.58 224.88H382.18M377.40 222.66V224.30M377.40 222.66H379.49M377.40 224.30H380.58M381.42 225.80V226.42M381.42 225.80H386.10M381.42 226.42H386.10M381.02 226.11V226.91M381.02 226.11H381.42M381.02 226.91H386.10M380.52 227.46V227.95M380.52 227.46H386.10M380.52 227.95H386.10M380.12 227.70V228.35M380.12 227.70H380.52M380.12 228.35H386.10M379.72 226.51V228.03M379.72 226.51H381.02M379.72 228.03H380.12M377.00 223.48V227.27M377.00 223.48H377.40M377.00 227.27H379.72M375.35 220.49V225.37M375.35 220.49H379.51M375.35 225.37H377.00M380.63 228.89V229.60M380.63 228.89H386.10M380.63 229.60H386.10M380.23 229.24V230.38M380.23 229.24H380.63M380.23 230.38H386.10M378.62 231.56V232.04M378.62 231.56H386.10M378.62 232.04H386.10M377.66 231.06V231.80M377.66 231.06H386.10M377.66 231.80H378.62M375.52 231.43V232.63M375.52 231.43H377.66M375.52 232.63H386.10M375.00 229.81V232.03M375.00 229.81H380.23M375.00 232.03H375.52M374.60 222.93V230.92M374.60 222.93H375.35M374.60 230.92H375.00M380.33 234.24V234.71M380.33 234.24H386.10M380.33 234.71H386.10M378.54 233.82V234.48M378.54 233.82H386.10M378.54 234.48H380.33M377.59 233.23V234.15M377.59 233.23H386.10M377.59 234.15H378.54M380.69 235.61V236.12M380.69 235.61H386.10M380.69 236.12H386.10M380.29 235.26V235.87M380.29 235.26H386.10M380.29 235.87H380.69M377.19 233.69V235.56M377.19 233.69H377.59M377.19 235.56H380.29M380.33 237.27V237.78M380.33 237.27H386.10M380.33 237.78H386.10M377.90 236.81V237.52M377.90 236.81H386.10M377.90 237.52H380.33M376.79 234.63V237.16M376.79 234.63H377.19M376.79 237.16H377.90M378.79 238.33V238.86M378.79 238.33H386.10M378.79 238.86H386.10M380.86 239.48V239.94M380.86 239.48H386.10M380.86 239.94H386.10M379.59 241.07V241.68M379.59 241.07H386.10M379.59 241.68H386.10M379.19 240.40V241.38M379.19 240.40H386.10M379.19 241.38H379.59M378.79 239.71V240.89M378.79 239.71H380.86M378.79 240.89H379.19M378.39 238.60V240.30M378.39 238.60H378.79M378.39 240.30H378.79M379.19 242.53V243.02M379.19 242.53H386.10M379.19 243.02H386.10M378.79 242.16V242.77M378.79 242.16H386.10M378.79 242.77H379.19M378.39 242.46V243.65M378.39 242.46H378.79M378.39 243.65H386.10M377.99 239.45V243.06M377.99 239.45H378.39M377.99 243.06H378.39M380.27 244.11V244.65M380.27 244.11H386.10M380.27 244.65H386.10M380.67 245.22V245.65M380.67 245.22H386.10M380.67 245.65H386.10M380.67 246.15V246.73M380.67 246.15H386.10M380.67 246.73H386.10M380.27 245.44V246.44M380.27 245.44H380.67M380.27 246.44H380.67M379.87 244.38V245.94M379.87 244.38H380.27M379.87 245.94H380.27M377.59 241.25V245.16M377.59 241.25H377.99M377.59 245.16H379.87M376.39 235.90V243.21M376.39 235.90H376.79M376.39 243.21H377.59M374.20 226.93V239.55M374.20 226.93H374.60M374.20 239.55H376.39M359.00 199.35V233.24M359.00 199.35H363.40M359.00 233.24H374.20M357.00 158.79V216.29M357.00 158.79H365.40M357.00 216.29H359.00M355.90 84.29V187.54M355.90 84.29H362.40M355.90 187.54H357.00M378.90 247.28V247.94M378.90 247.28H386.10M378.90 247.94H386.10M378.50 247.61V248.58M378.50 247.61H378.90M378.50 248.58H386.10M381.49 249.15V249.61M381.49 249.15H386.10M381.49 249.61H386.10M381.09 249.38V250.16M381.09 249.38H381.49M381.09 250.16H386.10M378.50 249.77V250.96M378.50 249.77H381.09M378.50 250.96H386.10M378.10 248.10V250.37M378.10 248.10H378.50M378.10 250.37H378.50M380.85 252.00V252.43M380.85 252.00H386.10M380.85 252.43H386.10M380.25 252.22V252.95M380.25 252.22H380.85M380.25 252.95H386.10M379.85 251.60V252.58M379.85 251.60H386.10M379.85 252.58H380.25M380.62 253.56V254.28M380.62 253.56H386.10M380.62 254.28H386.10M378.10 252.09V253.92M378.10 252.09H379.85M378.10 253.92H380.62M377.70 249.23V253.01M377.70 249.23H378.10M377.70 253.01H378.10M378.93 254.83V255.33M378.93 254.83H386.10M378.93 255.33H386.10M380.14 256.00V256.72M380.14 256.00H386.10M380.14 256.72H386.10M376.95 255.08V256.36M376.95 255.08H378.93M376.95 256.36H380.14M380.09 257.48V258.11M380.09 257.48H386.10M380.09 258.11H386.10M379.65 259.33V260.00M379.65 259.33H386.10M379.65 260.00H386.10M379.25 258.67V259.66M379.25 258.67H386.10M379.25 259.66H379.65M378.85 257.79V259.17M378.85 257.79H380.09M378.85 259.17H379.25M380.13 260.69V261.33M380.13 260.69H386.10M380.13 261.33H386.10M376.52 258.48V261.01M376.52 258.48H378.85M376.52 261.01H380.13M374.86 255.72V259.75M374.86 255.72H376.95M374.86 259.75H376.52M374.46 251.12V257.73M374.46 251.12H377.70M374.46 257.73H374.86M382.43 262.21V262.64M382.43 262.21H386.10M382.43 262.64H386.10M379.51 261.85V262.42M379.51 261.85H386.10M379.51 262.42H382.43M378.26 263.26V263.80M378.26 263.26H386.10M378.26 263.80H386.10M377.86 262.14V263.53M377.86 262.14H379.51M377.86 263.53H378.26M380.96 265.23V265.70M380.96 265.23H386.10M380.96 265.70H386.10M377.68 264.77V265.47M377.68 264.77H386.10M377.68 265.47H380.96M376.13 264.30V265.12M376.13 264.30H386.10M376.13 265.12H377.68M374.86 262.83V264.71M374.86 262.83H377.86M374.86 264.71H376.13M379.86 266.25V266.80M379.86 266.25H386.10M379.86 266.80H386.10M380.81 267.22V267.68M380.81 267.22H386.10M380.81 267.68H386.10M378.85 267.45V268.18M378.85 267.45H380.81M378.85 268.18H386.10M379.25 268.73V269.25M379.25 268.73H386.10M379.25 269.25H386.10M378.85 268.99V269.82M378.85 268.99H379.25M378.85 269.82H386.10M378.45 267.81V269.40M378.45 267.81H378.85M378.45 269.40H378.85M378.05 266.53V268.61M378.05 266.53H379.86M378.05 268.61H378.45M374.46 263.77V267.57M374.46 263.77H374.86M374.46 267.57H378.05M374.06 254.43V265.67M374.06 254.43H374.46M374.06 265.67H374.46M381.25 271.29V271.74M381.25 271.29H386.10M381.25 271.74H386.10M380.85 270.89V271.51M380.85 270.89H386.10M380.85 271.51H381.25M380.45 270.45V271.20M380.45 270.45H386.10M380.45 271.20H380.85M378.18 272.21V272.65M378.18 272.21H386.10M378.18 272.65H386.10M380.80 273.38V273.90M380.80 273.38H386.10M380.80 273.90H386.10M377.63 273.00V273.64M377.63 273.00H386.10M377.63 273.64H380.80M376.53 273.32V274.61M376.53 273.32H377.63M376.53 274.61H386.10M376.13 272.43V273.97M376.13 272.43H378.18M376.13 273.97H376.53M375.73 270.82V273.20M375.73 270.82H380.45M375.73 273.20H376.13M378.22 275.21V275.77M378.22 275.21H386.10M378.22 275.77H386.10M381.03 276.92V277.43M381.03 276.92H386.10M381.03 277.43H386.10M380.15 276.34V277.18M380.15 276.34H386.10M380.15 277.18H381.03M375.96 275.49V276.76M375.96 275.49H378.22M375.96 276.76H380.15M379.47 278.44V278.97M379.47 278.44H386.10M379.47 278.97H386.10M379.07 278.71V279.50M379.07 278.71H379.47M379.07 279.50H386.10M378.44 277.91V279.11M378.44 277.91H386.10M378.44 279.11H379.07M378.55 280.05V280.55M378.55 280.05H386.10M378.55 280.55H386.10M375.89 280.30V281.01M375.89 280.30H378.55M375.89 281.01H386.10M375.49 278.51V280.65M375.49 278.51H378.44M375.49 280.65H375.89M379.90 281.61V282.09M379.90 281.61H386.10M379.90 282.09H386.10M377.74 281.85V282.46M377.74 281.85H379.90M377.74 282.46H386.10M380.82 283.37V283.83M380.82 283.37H386.10M380.82 283.83H386.10M380.42 282.94V283.60M380.42 282.94H386.10M380.42 283.60H380.82M379.80 284.44V284.89M379.80 284.44H386.10M379.80 284.89H386.10M376.26 283.27V284.66M376.26 283.27H380.42M376.26 284.66H379.80M375.49 282.15V283.97M375.49 282.15H377.74M375.49 283.97H376.26M375.09 279.58V283.06M375.09 279.58H375.49M375.09 283.06H375.49M374.69 276.13V281.32M374.69 276.13H375.96M374.69 281.32H375.09M368.33 272.01V278.72M368.33 272.01H375.73M368.33 278.72H374.69M362.10 260.05V275.37M362.10 260.05H374.06M362.10 275.37H368.33M379.75 285.31V285.84M379.75 285.31H386.10M379.75 285.84H386.10M379.35 285.57V286.30M379.35 285.57H379.75M379.35 286.30H386.10M379.35 286.92V287.67M379.35 286.92H386.10M379.35 287.67H386.10M378.95 285.94V287.30M378.95 285.94H379.35M378.95 287.30H379.35M379.32 288.36V289.03M379.32 288.36H386.10M379.32 289.03H386.10M380.78 290.02V290.61M380.78 290.02H386.10M380.78 290.61H386.10M377.27 289.63V290.32M377.27 289.63H386.10M377.27 290.32H380.78M375.42 288.70V289.97M375.42 288.70H379.32M375.42 289.97H377.27M374.93 286.62V289.33M374.93 286.62H378.95M374.93 289.33H375.42M381.22 291.28V291.79M381.22 291.28H386.10M381.22 291.79H386.10M380.85 292.27V292.83M380.85 292.27H386.10M380.85 292.83H386.10M378.46 291.53V292.55M378.46 291.53H381.22M378.46 292.55H380.85M381.33 294.13V294.90M381.33 294.13H386.10M381.33 294.90H386.10M377.58 293.47V294.52M377.58 293.47H386.10M377.58 294.52H381.33M381.62 295.91V296.34M381.62 295.91H386.10M381.62 296.34H386.10M377.55 295.47V296.12M377.55 295.47H386.10M377.55 296.12H381.62M376.98 295.79V296.79M376.98 295.79H377.55M376.98 296.79H386.10M376.47 296.29V297.42M376.47 296.29H376.98M376.47 297.42H386.10M380.33 297.97V298.50M380.33 297.97H386.10M380.33 298.50H386.10M376.07 296.86V298.24M376.07 296.86H376.47M376.07 298.24H380.33M375.67 293.99V297.55M375.67 293.99H377.58M375.67 297.55H376.07M371.62 292.04V295.77M371.62 292.04H378.46M371.62 295.77H375.67M370.92 287.98V293.91M370.92 287.98H374.93M370.92 293.91H371.62M382.04 300.37V300.86M382.04 300.37H386.10M382.04 300.86H386.10M381.20 299.80V300.61M381.20 299.80H386.10M381.20 300.61H382.04M379.66 299.13V300.21M379.66 299.13H386.10M379.66 300.21H381.20M380.13 301.39V302.03M380.13 301.39H386.10M380.13 302.03H386.10M377.54 299.67V301.71M377.54 299.67H379.66M377.54 301.71H380.13M380.41 302.57V303.00M380.41 302.57H386.10M380.41 303.00H386.10M380.34 303.45V303.91M380.34 303.45H386.10M380.34 303.91H386.10M379.94 303.68V304.39M379.94 303.68H380.34M379.94 304.39H386.10M381.60 304.92V305.52M381.60 304.92H386.10M381.60 305.52H386.10M378.95 304.04V305.22M378.95 304.04H379.94M378.95 305.22H381.60M378.55 302.78V304.63M378.55 302.78H380.41M378.55 304.63H378.95M377.14 300.69V303.71M377.14 300.69H377.54M377.14 303.71H378.55M380.58 305.93V306.50M380.58 305.93H386.10M380.58 306.50H386.10M379.17 307.95V308.53M379.17 307.95H386.10M379.17 308.53H386.10M378.77 307.24V308.24M378.77 307.24H386.10M378.77 308.24H379.17M378.37 306.21V307.74M378.37 306.21H380.58M378.37 307.74H378.77M377.94 309.10V309.62M377.94 309.10H386.10M377.94 309.62H386.10M380.05 310.59V311.02M380.05 310.59H386.10M380.05 311.02H386.10M379.65 310.09V310.81M379.65 310.09H386.10M379.65 310.81H380.05M377.54 309.36V310.45M377.54 309.36H377.94M377.54 310.45H379.65M377.14 306.98V309.90M377.14 306.98H378.37M377.14 309.90H377.54M376.74 302.20V308.44M376.74 302.20H377.14M376.74 308.44H377.14M380.11 311.92V312.44M380.11 311.92H386.10M380.11 312.44H386.10M379.12 311.49V312.18M379.12 311.49H386.10M379.12 312.18H380.11M381.09 314.08V314.62M381.09 314.08H386.10M381.09 314.62H386.10M380.69 313.61V314.35M380.69 313.61H386.10M380.69 314.35H381.09M379.12 313.09V313.98M379.12 313.09H386.10M379.12 313.98H380.69M378.72 311.84V313.54M378.72 311.84H379.12M378.72 313.54H379.12M379.30 315.28V315.87M379.30 315.28H386.10M379.30 315.87H386.10M378.90 315.57V316.33M378.90 315.57H379.30M378.90 316.33H386.10M374.56 312.69V315.95M374.56 312.69H378.72M374.56 315.95H378.90M374.16 305.32V314.32M374.16 305.32H376.74M374.16 314.32H374.56M365.68 290.94V309.82M365.68 290.94H370.92M365.68 309.82H374.16M379.70 316.79V317.23M379.70 316.79H386.10M379.70 317.23H386.10M379.30 317.01V317.88M379.30 317.01H379.70M379.30 317.88H386.10M380.29 318.65V319.13M380.29 318.65H386.10M380.29 319.13H386.10M381.57 319.53V319.99M381.57 319.53H386.10M381.57 319.99H386.10M381.17 319.76V320.40M381.17 319.76H381.57M381.17 320.40H386.10M380.77 320.08V320.96M380.77 320.08H381.17M380.77 320.96H386.10M379.89 318.89V320.52M379.89 318.89H380.29M379.89 320.52H380.77M378.90 317.45V319.71M378.90 317.45H379.30M378.90 319.71H379.89M379.71 321.61V322.07M379.71 321.61H386.10M379.71 322.07H386.10M380.48 322.41V322.90M380.48 322.41H386.10M380.48 322.90H386.10M378.90 321.84V322.66M378.90 321.84H379.71M378.90 322.66H380.48M378.50 318.58V322.25M378.50 318.58H378.90M378.50 322.25H378.90M380.91 324.18V324.68M380.91 324.18H386.10M380.91 324.68H386.10M379.43 323.50V324.43M379.43 323.50H386.10M379.43 324.43H380.91M379.43 325.22V325.97M379.43 325.22H386.10M379.43 325.97H386.10M379.03 323.97V325.60M379.03 323.97H379.43M379.03 325.60H379.43M381.31 326.59V327.13M381.31 326.59H386.10M381.31 327.13H386.10M378.63 324.78V326.86M378.63 324.78H379.03M378.63 326.86H381.31M379.13 327.58V328.13M379.13 327.58H386.10M379.13 328.13H386.10M378.73 327.85V328.87M378.73 327.85H379.13M378.73 328.87H386.10M378.23 325.82V328.36M378.23 325.82H378.63M378.23 328.36H378.73M379.87 329.53V330.02M379.87 329.53H386.10M379.87 330.02H386.10M379.36 329.78V330.45M379.36 329.78H379.87M379.36 330.45H386.10M379.76 330.85V331.31M379.76 330.85H386.10M379.76 331.31H386.10M379.76 331.98V332.54M379.76 331.98H386.10M379.76 332.54H386.10M379.36 331.08V332.26M379.36 331.08H379.76M379.36 332.26H379.76M378.96 330.11V331.67M378.96 330.11H379.36M378.96 331.67H379.36M382.10 332.83V333.32M382.10 332.83H386.10M382.10 333.32H386.10M380.45 333.84V334.32M380.45 333.84H386.10M380.45 334.32H386.10M380.05 333.08V334.08M380.05 333.08H382.10M380.05 334.08H380.45M378.56 330.89V333.58M378.56 330.89H378.96M378.56 333.58H380.05M374.79 327.09V332.23M374.79 327.09H378.23M374.79 332.23H378.56M373.11 320.41V329.66M373.11 320.41H378.50M373.11 329.66H374.79M380.53 334.97V335.48M380.53 334.97H386.10M380.53 335.48H386.10M380.76 337.21V337.79M380.76 337.21H386.10M380.76 337.79H386.10M380.36 336.54V337.50M380.36 336.54H386.10M380.36 337.50H380.76M379.96 335.95V337.02M379.96 335.95H386.10M379.96 337.02H380.36M379.56 335.22V336.49M379.56 335.22H380.53M379.56 336.49H379.96M380.30 338.75V339.37M380.30 338.75H386.10M380.30 339.37H386.10M379.45 338.22V339.06M379.45 338.22H386.10M379.45 339.06H380.30M379.05 338.64V340.00M379.05 338.64H379.45M379.05 340.00H386.10M375.72 335.86V339.32M375.72 335.86H379.56M375.72 339.32H379.05M381.48 340.49V341.02M381.48 340.49H386.10M381.48 341.02H386.10M378.62 341.67V342.40M378.62 341.67H386.10M378.62 342.40H386.10M381.16 343.01V343.45M381.16 343.01H386.10M381.16 343.45H386.10M378.94 343.23V343.88M378.94 343.23H381.16M378.94 343.88H386.10M376.52 342.04V343.56M376.52 342.04H378.62M376.52 343.56H378.94M376.12 340.75V342.80M376.12 340.75H381.48M376.12 342.80H376.52M381.17 344.31V344.75M381.17 344.31H386.10M381.17 344.75H386.10M380.74 345.83V346.48M380.74 345.83H386.10M380.74 346.48H386.10M380.34 345.17V346.16M380.34 345.17H386.10M380.34 346.16H380.74M376.12 344.53V345.66M376.12 344.53H381.17M376.12 345.66H380.34M375.72 341.77V345.10M375.72 341.77H376.12M375.72 345.10H376.12M375.32 337.59V343.44M375.32 337.59H375.72M375.32 343.44H375.72M380.32 347.07V347.77M380.32 347.07H386.10M380.32 347.77H386.10M381.37 349.47V350.03M381.37 349.47H386.10M381.37 350.03H386.10M380.97 349.10V349.75M380.97 349.10H386.10M380.97 349.75H381.37M377.68 348.50V349.42M377.68 348.50H386.10M377.68 349.42H380.97M377.28 347.42V348.96M377.28 347.42H380.32M377.28 348.96H377.68M378.96 350.75V351.37M378.96 350.75H386.10M378.96 351.37H386.10M379.78 351.85V352.33M379.78 351.85H386.10M379.78 352.33H386.10M378.56 351.06V352.09M378.56 351.06H378.96M378.56 352.09H379.78M375.16 348.19V351.58M375.16 348.19H377.28M375.16 351.58H378.56M379.07 352.74V353.18M379.07 352.74H386.10M379.07 353.18H386.10M379.34 353.63V354.08M379.34 353.63H386.10M379.34 354.08H386.10M377.89 354.67V355.33M377.89 354.67H386.10M377.89 355.33H386.10M375.91 353.86V355.00M375.91 353.86H379.34M375.91 355.00H377.89M375.51 352.96V354.43M375.51 352.96H379.07M375.51 354.43H375.91M374.76 349.88V353.70M374.76 349.88H375.16M374.76 353.70H375.51M381.57 356.47V356.92M381.57 356.47H386.10M381.57 356.92H386.10M379.73 356.70V357.41M379.73 356.70H381.57M379.73 357.41H386.10M377.59 356.00V357.05M377.59 356.00H386.10M377.59 357.05H379.73M377.80 357.98V358.75M377.80 357.98H386.10M377.80 358.75H386.10M375.01 358.36V359.57M375.01 358.36H377.80M375.01 359.57H386.10M373.50 356.53V358.97M373.50 356.53H377.59M373.50 358.97H375.01M372.54 351.79V357.75M372.54 351.79H374.76M372.54 357.75H373.50M371.11 340.51V354.77M371.11 340.51H375.32M371.11 354.77H372.54M364.70 325.04V347.64M364.70 325.04H373.11M364.70 347.64H371.11M364.30 300.38V336.34M364.30 300.38H365.68M364.30 336.34H364.70M379.35 360.95V361.45M379.35 360.95H386.10M379.35 361.45H386.10M378.95 360.32V361.20M378.95 360.32H386.10M378.95 361.20H379.35M381.94 362.41V362.98M381.94 362.41H386.10M381.94 362.98H386.10M379.18 361.90V362.69M379.18 361.90H386.10M379.18 362.69H381.94M377.97 360.76V362.30M377.97 360.76H378.95M377.97 362.30H379.18M380.30 363.48V363.92M380.30 363.48H386.10M380.30 363.92H386.10M378.77 364.36V364.80M378.77 364.36H386.10M378.77 364.80H386.10M378.37 363.70V364.58M378.37 363.70H380.30M378.37 364.58H378.77M379.40 365.86V366.33M379.40 365.86H386.10M379.40 366.33H386.10M379.00 365.35V366.10M379.00 365.35H386.10M379.00 366.10H379.40M380.77 367.88V368.38M380.77 367.88H386.10M380.77 368.38H386.10M379.71 367.38V368.13M379.71 367.38H386.10M379.71 368.13H380.77M379.31 366.85V367.76M379.31 366.85H386.10M379.31 367.76H379.71M378.60 365.72V367.31M378.60 365.72H379.00M378.60 367.31H379.31M377.97 364.14V366.51M377.97 364.14H378.37M377.97 366.51H378.60M377.57 361.53V365.33M377.57 361.53H377.97M377.57 365.33H377.97M380.96 369.35V369.91M380.96 369.35H386.10M380.96 369.91H386.10M379.59 368.83V369.63M379.59 368.83H386.10M379.59 369.63H380.96M381.63 370.32V370.83M381.63 370.32H386.10M381.63 370.83H386.10M379.19 369.23V370.57M379.19 369.23H379.59M379.19 370.57H381.63M381.52 371.64V372.33M381.52 371.64H386.10M381.52 372.33H386.10M380.29 371.99V372.85M380.29 371.99H381.52M380.29 372.85H386.10M373.10 369.90V372.42M373.10 369.90H379.19M373.10 372.42H380.29M378.79 373.47V374.01M378.79 373.47H386.10M378.79 374.01H386.10M381.18 374.31V374.78M381.18 374.31H386.10M381.18 374.78H386.10M379.19 374.54V375.34M379.19 374.54H381.18M379.19 375.34H386.10M378.79 374.94V375.93M378.79 374.94H379.19M378.79 375.93H386.10M378.39 373.74V375.43M378.39 373.74H378.79M378.39 375.43H378.79M378.79 377.16V377.72M378.79 377.16H386.10M378.79 377.72H386.10M378.39 376.59V377.44M378.39 376.59H386.10M378.39 377.44H378.79M377.99 374.59V377.01M377.99 374.59H378.39M377.99 377.01H378.39M371.65 371.16V375.80M371.65 371.16H373.10M371.65 375.80H377.99M362.00 363.43V373.48M362.00 363.43H377.57M362.00 373.48H371.65M378.65 378.79V379.41M378.65 378.79H386.10M378.65 379.41H386.10M378.25 378.21V379.10M378.25 378.21H386.10M378.25 379.10H378.65M380.20 380.59V381.11M380.20 380.59H386.10M380.20 381.11H386.10M379.80 379.96V380.85M379.80 379.96H386.10M379.80 380.85H380.20M378.08 380.40V381.68M378.08 380.40H379.80M378.08 381.68H386.10M380.21 382.18V382.69M380.21 382.18H386.10M380.21 382.69H386.10M377.68 381.04V382.44M377.68 381.04H378.08M377.68 382.44H380.21M373.87 378.65V381.74M373.87 378.65H378.25M373.87 381.74H377.68M378.94 384.58V385.27M378.94 384.58H386.10M378.94 385.27H386.10M378.54 384.01V384.92M378.54 384.01H386.10M378.54 384.92H378.94M378.14 383.41V384.46M378.14 383.41H386.10M378.14 384.46H378.54M370.86 380.20V383.94M370.86 380.20H373.87M370.86 383.94H378.14M378.78 386.47V386.99M378.78 386.47H386.10M378.78 386.99H386.10M379.80 387.50V387.98M379.80 387.50H386.10M379.80 387.98H386.10M378.38 386.73V387.74M378.38 386.73H378.78M378.38 387.74H379.80M377.98 385.97V387.24M377.98 385.97H386.10M377.98 387.24H378.38M379.15 388.49V388.94M379.15 388.49H386.10M379.15 388.94H386.10M379.15 389.58V390.36M379.15 389.58H386.10M379.15 390.36H386.10M378.75 388.72V389.97M378.75 388.72H379.15M378.75 389.97H379.15M377.58 386.60V389.34M377.58 386.60H377.98M377.58 389.34H378.75M378.79 391.05V391.75M378.79 391.05H386.10M378.79 391.75H386.10M378.11 391.40V392.42M378.11 391.40H378.79M378.11 392.42H386.10M377.18 387.97V391.91M377.18 387.97H377.58M377.18 391.91H378.11M369.71 382.07V389.94M369.71 382.07H370.86M369.71 389.94H377.18M377.74 393.66V394.45M377.74 393.66H386.10M377.74 394.45H386.10M377.34 392.96V394.06M377.34 392.96H386.10M377.34 394.06H377.74M380.86 395.88V396.39M380.86 395.88H386.10M380.86 396.39H386.10M378.68 395.24V396.13M378.68 395.24H386.10M378.68 396.13H380.86M381.48 397.42V397.86M381.48 397.42H386.10M381.48 397.86H386.10M379.56 396.93V397.64M379.56 396.93H386.10M379.56 397.64H381.48M379.28 398.45V399.00M379.28 398.45H386.10M379.28 399.00H386.10M378.88 397.28V398.72M378.88 397.28H379.56M378.88 398.72H379.28M379.66 399.55V400.10M379.66 399.55H386.10M379.66 400.10H386.10M378.48 398.00V399.82M378.48 398.00H378.88M378.48 399.82H379.66M378.08 395.68V398.91M378.08 395.68H378.68M378.08 398.91H378.48M376.81 393.51V397.30M376.81 393.51H377.34M376.81 397.30H378.08M381.47 400.57V401.10M381.47 400.57H386.10M381.47 401.10H386.10M380.72 401.65V402.22M380.72 401.65H386.10M380.72 402.22H386.10M380.32 401.94V402.87M380.32 401.94H380.72M380.32 402.87H386.10M379.92 400.83V402.40M379.92 400.83H381.47M379.92 402.40H380.32M380.80 403.62V404.23M380.80 403.62H386.10M380.80 404.23H386.10M379.52 401.62V403.92M379.52 401.62H379.92M379.52 403.92H380.80M381.95 404.65V405.15M381.95 404.65H386.10M381.95 405.15H386.10M380.80 405.85V406.35M380.80 405.85H386.10M380.80 406.35H386.10M374.71 404.90V406.10M374.71 404.90H381.95M374.71 406.10H380.80M378.78 406.80V407.31M378.78 406.80H386.10M378.78 407.31H386.10M374.29 405.50V407.05M374.29 405.50H374.71M374.29 407.05H378.78M373.20 402.77V406.28M373.20 402.77H379.52M373.20 406.28H374.29M371.96 395.40V404.52M371.96 395.40H376.81M371.96 404.52H373.20M369.31 386.00V399.96M369.31 386.00H369.71M369.31 399.96H371.96M380.20 407.79V408.23M380.20 407.79H386.10M380.20 408.23H386.10M379.59 408.01V408.58M379.59 408.01H380.20M379.59 408.58H386.10M377.51 408.29V409.19M377.51 408.29H379.59M377.51 409.19H386.10M379.74 409.89V410.33M379.74 409.89H386.10M379.74 410.33H386.10M379.34 410.11V410.86M379.34 410.11H379.74M379.34 410.86H386.10M377.11 408.74V410.49M377.11 408.74H377.51M377.11 410.49H379.34M379.53 411.46V412.01M379.53 411.46H386.10M379.53 412.01H386.10M380.10 412.48V413.04M380.10 412.48H386.10M380.10 413.04H386.10M376.83 411.73V412.76M376.83 411.73H379.53M376.83 412.76H380.10M381.43 413.99V414.50M381.43 413.99H386.10M381.43 414.50H386.10M379.55 413.64V414.25M379.55 413.64H386.10M379.55 414.25H381.43M376.35 412.25V413.94M376.35 412.25H376.83M376.35 413.94H379.55M379.12 415.23V415.72M379.12 415.23H386.10M379.12 415.72H386.10M377.79 415.48V416.06M377.79 415.48H379.12M377.79 416.06H386.10M375.03 415.77V416.55M375.03 415.77H377.79M375.03 416.55H386.10M381.20 417.19V417.79M381.20 417.19H386.10M381.20 417.79H386.10M380.80 417.49V418.27M380.80 417.49H381.20M380.80 418.27H386.10M382.44 418.82V419.26M382.44 418.82H386.10M382.44 419.26H386.10M377.69 417.88V419.04M377.69 417.88H380.80M377.69 419.04H382.44M374.63 416.16V418.46M374.63 416.16H375.03M374.63 418.46H377.69M374.23 413.10V417.31M374.23 413.10H376.35M374.23 417.31H374.63M371.44 409.61V415.20M371.44 409.61H377.11M371.44 415.20H374.23M368.91 392.98V412.41M368.91 392.98H369.31M368.91 412.41H371.44M379.70 419.67V420.21M379.70 419.67H386.10M379.70 420.21H386.10M381.88 421.00V421.50M381.88 421.00H386.10M381.88 421.50H386.10M381.48 420.66V421.25M381.48 420.66H386.10M381.48 421.25H381.88M378.87 419.94V420.96M378.87 419.94H379.70M378.87 420.96H381.48M380.38 422.20V422.64M380.38 422.20H386.10M380.38 422.64H386.10M379.72 423.01V423.55M379.72 423.01H386.10M379.72 423.55H386.10M379.32 423.28V424.15M379.32 423.28H379.72M379.32 424.15H386.10M378.92 422.42V423.71M378.92 422.42H380.38M378.92 423.71H379.32M378.47 420.45V423.07M378.47 420.45H378.87M378.47 423.07H378.92M379.03 424.86V425.47M379.03 424.86H386.10M379.03 425.47H386.10M379.44 426.22V426.65M379.44 426.22H386.10M379.44 426.65H386.10M378.87 425.81V426.44M378.87 425.81H386.10M378.87 426.44H379.44M378.47 425.17V426.12M378.47 425.17H379.03M378.47 426.12H378.87M378.07 421.76V425.64M378.07 421.76H378.47M378.07 425.64H378.47M380.75 427.22V427.80M380.75 427.22H386.10M380.75 427.80H386.10M380.57 428.40V429.09M380.57 428.40H386.10M380.57 429.09H386.10M378.47 427.51V428.75M378.47 427.51H380.75M378.47 428.75H380.57M380.05 429.72V430.27M380.05 429.72H386.10M380.05 430.27H386.10M378.07 428.13V429.99M378.07 428.13H378.47M378.07 429.99H380.05M377.67 423.70V429.06M377.67 423.70H378.07M377.67 429.06H378.07M382.39 430.78V431.24M382.39 430.78H386.10M382.39 431.24H386.10M380.22 431.01V431.52M380.22 431.01H382.39M380.22 431.52H386.10M380.27 432.03V432.64M380.27 432.03H386.10M380.27 432.64H386.10M376.48 431.26V432.33M376.48 431.26H380.22M376.48 432.33H380.27M380.56 433.15V433.83M380.56 433.15H386.10M380.56 433.83H386.10M380.56 434.60V435.21M380.56 434.60H386.10M380.56 435.21H386.10M380.16 433.49V434.91M380.16 433.49H380.56M380.16 434.91H380.56M380.16 435.64V436.08M380.16 435.64H386.10M380.16 436.08H386.10M379.76 434.20V435.86M379.76 434.20H380.16M379.76 435.86H380.16M376.08 431.80V435.03M376.08 431.80H376.48M376.08 435.03H379.76M375.68 426.38V433.41M375.68 426.38H377.67M375.68 433.41H376.08M379.17 436.70V437.24M379.17 436.70H386.10M379.17 437.24H386.10M381.00 438.20V438.73M381.00 438.20H386.10M381.00 438.73H386.10M379.36 437.73V438.46M379.36 437.73H386.10M379.36 438.46H381.00M378.77 436.97V438.10M378.77 436.97H379.17M378.77 438.10H379.36M377.52 439.46V440.00M377.52 439.46H386.10M377.52 440.00H386.10M376.63 437.53V439.73M376.63 437.53H378.77M376.63 439.73H377.52M379.31 441.03V441.62M379.31 441.03H386.10M379.31 441.62H386.10M378.91 440.48V441.33M378.91 440.48H386.10M378.91 441.33H379.31M381.21 442.33V442.78M381.21 442.33H386.10M381.21 442.78H386.10M380.81 442.56V443.15M380.81 442.56H381.21M380.81 443.15H386.10M381.48 444.26V444.94M381.48 444.26H386.10M381.48 444.94H386.10M379.26 443.71V444.60M379.26 443.71H386.10M379.26 444.60H381.48M378.76 442.85V444.15M378.76 442.85H380.81M378.76 444.15H379.26M378.36 440.90V443.50M378.36 440.90H378.91M378.36 443.50H378.76M380.62 445.70V446.22M380.62 445.70H386.10M380.62 446.22H386.10M380.27 446.71V447.22M380.27 446.71H386.10M380.27 447.22H386.10M378.36 445.96V446.96M378.36 445.96H380.62M378.36 446.96H380.27M377.96 442.20V446.46M377.96 442.20H378.36M377.96 446.46H378.36M378.36 447.74V448.31M378.36 447.74H386.10M378.36 448.31H386.10M379.08 449.73V450.28M379.08 449.73H386.10M379.08 450.28H386.10M378.68 449.00V450.00M378.68 449.00H386.10M378.68 450.00H379.08M377.96 448.03V449.50M377.96 448.03H378.36M377.96 449.50H378.68M377.56 444.33V448.77M377.56 444.33H377.96M377.56 448.77H377.96M376.23 438.63V446.55M376.23 438.63H376.63M376.23 446.55H377.56M375.28 429.90V442.59M375.28 429.90H375.68M375.28 442.59H376.23M382.03 450.87V451.33M382.03 450.87H386.10M382.03 451.33H386.10M381.01 451.64V452.20M381.01 451.64H386.10M381.01 452.20H386.10M377.97 451.10V451.92M377.97 451.10H382.03M377.97 451.92H381.01M381.41 453.55V453.99M381.41 453.55H386.10M381.41 453.99H386.10M381.01 452.91V453.77M381.01 452.91H386.10M381.01 453.77H381.41M378.77 454.33V454.78M378.77 454.33H386.10M378.77 454.78H386.10M379.37 455.30V455.75M379.37 455.30H386.10M379.37 455.75H386.10M378.37 454.55V455.52M378.37 454.55H378.77M378.37 455.52H379.37M377.97 453.34V455.04M377.97 453.34H381.01M377.97 455.04H378.37M377.57 451.51V454.19M377.57 451.51H377.97M377.57 454.19H377.97M380.59 456.28V457.00M380.59 456.28H386.10M380.59 457.00H386.10M381.67 457.65V458.09M381.67 457.65H386.10M381.67 458.09H386.10M379.88 458.59V459.32M379.88 458.59H386.10M379.88 459.32H386.10M379.19 457.87V458.96M379.19 457.87H381.67M379.19 458.96H379.88M379.59 459.90V460.41M379.59 459.90H386.10M379.59 460.41H386.10M379.19 460.16V461.00M379.19 460.16H379.59M379.19 461.00H386.10M378.79 458.42V460.58M378.79 458.42H379.19M378.79 460.58H379.19M378.39 456.64V459.50M378.39 456.64H380.59M378.39 459.50H378.79M375.28 452.85V458.07M375.28 452.85H377.57M375.28 458.07H378.39M374.88 436.24V455.46M374.88 436.24H375.28M374.88 455.46H375.28M359.90 402.70V445.85M359.90 402.70H368.91M359.90 445.85H374.88M358.70 368.45V424.27M358.70 368.45H362.00M358.70 424.27H359.90M357.80 318.36V396.36M357.80 318.36H364.30M357.80 396.36H358.70M356.70 267.71V357.36M356.70 267.71H362.10M356.70 357.36H357.80M346.50 135.91V312.53M346.50 135.91H355.90M346.50 312.53H356.70" stroke="#111" stroke-width="0.75" fill="none"/>
<text transform="translate(6.9 14.1) scale(0.92 1)" class="pl" style="font-size:20px">a</text>
<text transform="translate(360.7 14.8) scale(0.94 1)" class="pl" style="font-size:20px">b</text>
<text transform="translate(168.95 11.5) scale(0.800 1)" class="tt">m_vs_w_mRNA_Heatmap</text>
<text transform="translate(524.25 11.5) scale(0.853 1)" class="tt">m_vs_w_lncRNA_Heatmap</text>
<text transform="translate(58.68 463.9) rotate(90) scale(1 0.86)" class="cl">w02</text>
<text transform="translate(101.85 463.9) rotate(90) scale(1 0.86)" class="cl">w01</text>
<text transform="translate(145.02 463.9) rotate(90) scale(1 0.86)" class="cl">w03</text>
<text transform="translate(188.18 463.9) rotate(90) scale(1 0.86)" class="cl">m02</text>
<text transform="translate(231.35 463.9) rotate(90) scale(1 0.86)" class="cl">m01</text>
<text transform="translate(274.52 463.9) rotate(90) scale(1 0.86)" class="cl">m03</text>
<text transform="translate(406.78 463.9) rotate(90) scale(1 0.86)" class="cl">w02</text>
<text transform="translate(452.93 463.9) rotate(90) scale(1 0.86)" class="cl">w01</text>
<text transform="translate(499.08 463.9) rotate(90) scale(1 0.86)" class="cl">w03</text>
<text transform="translate(545.23 463.9) rotate(90) scale(1 0.86)" class="cl">m02</text>
<text transform="translate(591.38 463.9) rotate(90) scale(1 0.86)" class="cl">m01</text>
<text transform="translate(637.52 463.9) rotate(90) scale(1 0.86)" class="cl">m03</text>
<text transform="translate(312.30 95.70) scale(0.85 1)" class="lg">1</text>
<text transform="translate(312.30 128.20) scale(0.85 1)" class="lg">0</text>
<text transform="translate(312.00 160.40) scale(0.85 1)" class="lg">-1</text>
<text transform="translate(678.20 95.60) scale(0.85 1)" class="lg">1</text>
<text transform="translate(678.20 128.10) scale(0.85 1)" class="lg">0</text>
<text transform="translate(677.90 160.30) scale(0.85 1)" class="lg">-1</text>
</svg>
</body></html>
